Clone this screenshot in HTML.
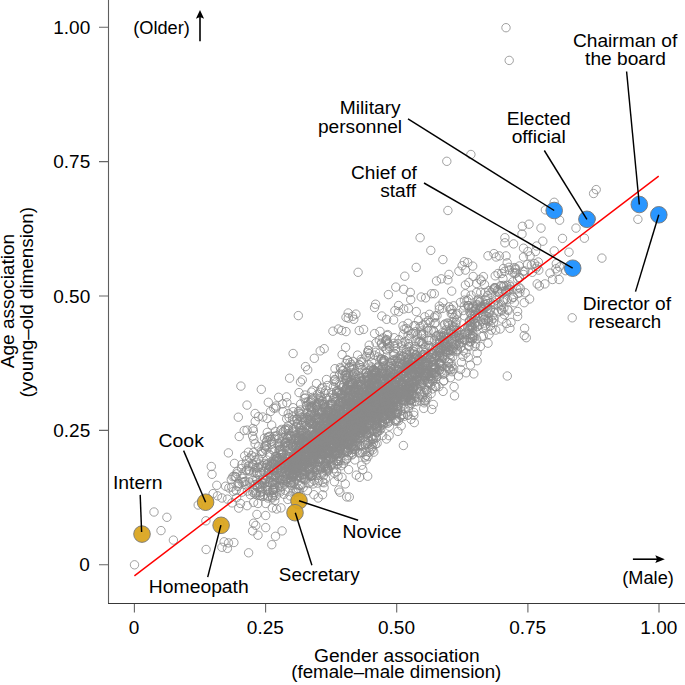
<!DOCTYPE html>
<html><head><meta charset="utf-8"><style>html,body{margin:0;padding:0;background:#fff;}svg{display:block;}</style></head>
<body><svg width="685" height="685" viewBox="0 0 685 685">
<rect width="685" height="685" fill="#fff"/>
<g fill="none" stroke="#898989" stroke-width="0.8"><circle cx="347.8" cy="430.7" r="4.2"/><circle cx="405.3" cy="408.8" r="4.2"/><circle cx="517.8" cy="293.5" r="4.2"/><circle cx="346.6" cy="458.8" r="4.2"/><circle cx="442.8" cy="342.4" r="4.2"/><circle cx="376.2" cy="437.9" r="4.2"/><circle cx="298.2" cy="491.9" r="4.2"/><circle cx="232.0" cy="502.9" r="4.2"/><circle cx="353.2" cy="400.5" r="4.2"/><circle cx="326.6" cy="471.6" r="4.2"/><circle cx="333.6" cy="437.2" r="4.2"/><circle cx="339.1" cy="456.4" r="4.2"/><circle cx="317.4" cy="409.3" r="4.2"/><circle cx="337.2" cy="424.9" r="4.2"/><circle cx="343.7" cy="426.4" r="4.2"/><circle cx="312.3" cy="406.6" r="4.2"/><circle cx="387.7" cy="389.3" r="4.2"/><circle cx="319.6" cy="421.8" r="4.2"/><circle cx="351.0" cy="420.3" r="4.2"/><circle cx="338.6" cy="441.3" r="4.2"/><circle cx="288.6" cy="466.1" r="4.2"/><circle cx="256.6" cy="480.6" r="4.2"/><circle cx="443.9" cy="380.7" r="4.2"/><circle cx="337.8" cy="432.2" r="4.2"/><circle cx="346.0" cy="363.5" r="4.2"/><circle cx="314.8" cy="451.9" r="4.2"/><circle cx="312.6" cy="399.0" r="4.2"/><circle cx="320.3" cy="431.0" r="4.2"/><circle cx="337.9" cy="408.8" r="4.2"/><circle cx="361.7" cy="381.3" r="4.2"/><circle cx="336.3" cy="443.1" r="4.2"/><circle cx="325.5" cy="435.4" r="4.2"/><circle cx="403.5" cy="405.2" r="4.2"/><circle cx="298.0" cy="450.7" r="4.2"/><circle cx="328.4" cy="460.0" r="4.2"/><circle cx="500.6" cy="285.7" r="4.2"/><circle cx="258.0" cy="467.9" r="4.2"/><circle cx="327.0" cy="452.9" r="4.2"/><circle cx="369.4" cy="402.2" r="4.2"/><circle cx="347.2" cy="421.3" r="4.2"/><circle cx="289.8" cy="459.0" r="4.2"/><circle cx="392.6" cy="391.6" r="4.2"/><circle cx="393.9" cy="343.4" r="4.2"/><circle cx="359.1" cy="398.1" r="4.2"/><circle cx="457.3" cy="350.1" r="4.2"/><circle cx="413.9" cy="325.7" r="4.2"/><circle cx="381.0" cy="397.3" r="4.2"/><circle cx="395.4" cy="384.9" r="4.2"/><circle cx="328.4" cy="455.0" r="4.2"/><circle cx="358.3" cy="383.0" r="4.2"/><circle cx="404.1" cy="370.6" r="4.2"/><circle cx="293.5" cy="439.5" r="4.2"/><circle cx="344.9" cy="416.7" r="4.2"/><circle cx="340.3" cy="432.1" r="4.2"/><circle cx="334.2" cy="422.5" r="4.2"/><circle cx="389.9" cy="362.6" r="4.2"/><circle cx="448.4" cy="323.8" r="4.2"/><circle cx="252.8" cy="492.3" r="4.2"/><circle cx="382.8" cy="412.2" r="4.2"/><circle cx="464.3" cy="306.0" r="4.2"/><circle cx="340.8" cy="393.4" r="4.2"/><circle cx="303.2" cy="487.4" r="4.2"/><circle cx="368.3" cy="350.4" r="4.2"/><circle cx="454.0" cy="345.0" r="4.2"/><circle cx="349.7" cy="435.0" r="4.2"/><circle cx="355.0" cy="432.0" r="4.2"/><circle cx="319.2" cy="430.7" r="4.2"/><circle cx="353.9" cy="389.7" r="4.2"/><circle cx="490.5" cy="325.9" r="4.2"/><circle cx="320.1" cy="450.1" r="4.2"/><circle cx="305.4" cy="398.0" r="4.2"/><circle cx="497.6" cy="291.6" r="4.2"/><circle cx="325.0" cy="453.8" r="4.2"/><circle cx="417.6" cy="356.8" r="4.2"/><circle cx="266.4" cy="467.6" r="4.2"/><circle cx="392.6" cy="400.0" r="4.2"/><circle cx="348.5" cy="429.6" r="4.2"/><circle cx="365.5" cy="401.7" r="4.2"/><circle cx="272.7" cy="474.4" r="4.2"/><circle cx="513.3" cy="297.3" r="4.2"/><circle cx="297.9" cy="446.7" r="4.2"/><circle cx="358.5" cy="414.7" r="4.2"/><circle cx="502.8" cy="301.7" r="4.2"/><circle cx="324.5" cy="434.4" r="4.2"/><circle cx="498.8" cy="292.1" r="4.2"/><circle cx="371.1" cy="448.9" r="4.2"/><circle cx="332.1" cy="417.7" r="4.2"/><circle cx="383.0" cy="408.9" r="4.2"/><circle cx="331.5" cy="419.8" r="4.2"/><circle cx="320.1" cy="442.8" r="4.2"/><circle cx="455.7" cy="336.2" r="4.2"/><circle cx="331.0" cy="419.2" r="4.2"/><circle cx="399.2" cy="391.7" r="4.2"/><circle cx="357.3" cy="428.8" r="4.2"/><circle cx="365.1" cy="396.8" r="4.2"/><circle cx="473.1" cy="311.1" r="4.2"/><circle cx="297.0" cy="466.6" r="4.2"/><circle cx="439.3" cy="306.1" r="4.2"/><circle cx="284.7" cy="467.6" r="4.2"/><circle cx="336.0" cy="439.0" r="4.2"/><circle cx="428.3" cy="340.4" r="4.2"/><circle cx="335.0" cy="430.7" r="4.2"/><circle cx="298.8" cy="458.7" r="4.2"/><circle cx="392.1" cy="403.6" r="4.2"/><circle cx="355.1" cy="392.4" r="4.2"/><circle cx="238.1" cy="483.7" r="4.2"/><circle cx="242.8" cy="474.1" r="4.2"/><circle cx="441.4" cy="347.5" r="4.2"/><circle cx="309.0" cy="466.7" r="4.2"/><circle cx="338.8" cy="441.6" r="4.2"/><circle cx="417.7" cy="377.3" r="4.2"/><circle cx="337.0" cy="437.7" r="4.2"/><circle cx="510.3" cy="286.6" r="4.2"/><circle cx="386.4" cy="383.6" r="4.2"/><circle cx="309.5" cy="459.9" r="4.2"/><circle cx="366.8" cy="400.8" r="4.2"/><circle cx="357.3" cy="417.8" r="4.2"/><circle cx="390.3" cy="389.7" r="4.2"/><circle cx="370.1" cy="389.4" r="4.2"/><circle cx="370.2" cy="430.7" r="4.2"/><circle cx="429.8" cy="347.3" r="4.2"/><circle cx="450.6" cy="350.6" r="4.2"/><circle cx="471.8" cy="327.2" r="4.2"/><circle cx="371.8" cy="375.3" r="4.2"/><circle cx="263.5" cy="471.5" r="4.2"/><circle cx="323.4" cy="442.4" r="4.2"/><circle cx="443.6" cy="347.0" r="4.2"/><circle cx="395.0" cy="388.0" r="4.2"/><circle cx="293.9" cy="432.2" r="4.2"/><circle cx="376.3" cy="373.3" r="4.2"/><circle cx="377.1" cy="367.4" r="4.2"/><circle cx="372.1" cy="436.5" r="4.2"/><circle cx="321.7" cy="474.0" r="4.2"/><circle cx="406.3" cy="397.9" r="4.2"/><circle cx="405.5" cy="392.5" r="4.2"/><circle cx="435.1" cy="355.3" r="4.2"/><circle cx="343.6" cy="400.8" r="4.2"/><circle cx="472.4" cy="338.5" r="4.2"/><circle cx="311.5" cy="466.3" r="4.2"/><circle cx="358.7" cy="437.6" r="4.2"/><circle cx="377.1" cy="413.2" r="4.2"/><circle cx="347.9" cy="384.9" r="4.2"/><circle cx="281.8" cy="453.6" r="4.2"/><circle cx="406.2" cy="349.5" r="4.2"/><circle cx="398.4" cy="420.9" r="4.2"/><circle cx="305.6" cy="460.8" r="4.2"/><circle cx="338.0" cy="429.7" r="4.2"/><circle cx="488.5" cy="321.3" r="4.2"/><circle cx="366.9" cy="413.2" r="4.2"/><circle cx="327.7" cy="421.2" r="4.2"/><circle cx="327.9" cy="431.6" r="4.2"/><circle cx="312.2" cy="464.7" r="4.2"/><circle cx="294.6" cy="462.9" r="4.2"/><circle cx="495.0" cy="304.9" r="4.2"/><circle cx="335.5" cy="408.7" r="4.2"/><circle cx="405.8" cy="367.2" r="4.2"/><circle cx="453.7" cy="334.2" r="4.2"/><circle cx="451.1" cy="363.3" r="4.2"/><circle cx="382.0" cy="372.4" r="4.2"/><circle cx="285.3" cy="490.3" r="4.2"/><circle cx="394.0" cy="399.5" r="4.2"/><circle cx="383.6" cy="398.4" r="4.2"/><circle cx="382.9" cy="388.3" r="4.2"/><circle cx="419.7" cy="379.2" r="4.2"/><circle cx="349.4" cy="383.7" r="4.2"/><circle cx="363.1" cy="421.3" r="4.2"/><circle cx="306.6" cy="449.7" r="4.2"/><circle cx="325.3" cy="433.8" r="4.2"/><circle cx="469.8" cy="338.2" r="4.2"/><circle cx="298.5" cy="441.1" r="4.2"/><circle cx="406.3" cy="391.3" r="4.2"/><circle cx="440.1" cy="363.8" r="4.2"/><circle cx="304.6" cy="467.1" r="4.2"/><circle cx="301.7" cy="461.2" r="4.2"/><circle cx="356.2" cy="418.4" r="4.2"/><circle cx="409.1" cy="384.5" r="4.2"/><circle cx="416.6" cy="355.2" r="4.2"/><circle cx="375.1" cy="389.2" r="4.2"/><circle cx="322.1" cy="428.8" r="4.2"/><circle cx="403.5" cy="373.7" r="4.2"/><circle cx="355.6" cy="425.4" r="4.2"/><circle cx="363.3" cy="401.9" r="4.2"/><circle cx="471.3" cy="318.2" r="4.2"/><circle cx="285.1" cy="443.2" r="4.2"/><circle cx="315.1" cy="439.0" r="4.2"/><circle cx="374.6" cy="400.0" r="4.2"/><circle cx="328.7" cy="430.5" r="4.2"/><circle cx="365.5" cy="421.7" r="4.2"/><circle cx="353.0" cy="361.4" r="4.2"/><circle cx="474.4" cy="324.2" r="4.2"/><circle cx="310.8" cy="401.4" r="4.2"/><circle cx="351.8" cy="431.0" r="4.2"/><circle cx="253.8" cy="439.3" r="4.2"/><circle cx="327.5" cy="449.4" r="4.2"/><circle cx="242.2" cy="482.4" r="4.2"/><circle cx="346.9" cy="441.9" r="4.2"/><circle cx="236.8" cy="473.8" r="4.2"/><circle cx="366.5" cy="424.2" r="4.2"/><circle cx="302.0" cy="438.4" r="4.2"/><circle cx="286.7" cy="462.0" r="4.2"/><circle cx="441.3" cy="371.5" r="4.2"/><circle cx="507.2" cy="262.8" r="4.2"/><circle cx="381.2" cy="393.8" r="4.2"/><circle cx="407.6" cy="397.8" r="4.2"/><circle cx="248.4" cy="466.2" r="4.2"/><circle cx="355.7" cy="424.2" r="4.2"/><circle cx="362.5" cy="452.3" r="4.2"/><circle cx="396.9" cy="382.9" r="4.2"/><circle cx="388.6" cy="386.0" r="4.2"/><circle cx="480.2" cy="308.4" r="4.2"/><circle cx="280.3" cy="472.1" r="4.2"/><circle cx="326.8" cy="421.8" r="4.2"/><circle cx="364.6" cy="419.5" r="4.2"/><circle cx="241.9" cy="464.5" r="4.2"/><circle cx="352.7" cy="439.5" r="4.2"/><circle cx="403.5" cy="349.2" r="4.2"/><circle cx="435.4" cy="373.0" r="4.2"/><circle cx="403.5" cy="384.5" r="4.2"/><circle cx="302.8" cy="453.5" r="4.2"/><circle cx="389.8" cy="407.3" r="4.2"/><circle cx="339.8" cy="402.1" r="4.2"/><circle cx="306.0" cy="402.1" r="4.2"/><circle cx="316.5" cy="407.3" r="4.2"/><circle cx="351.3" cy="405.6" r="4.2"/><circle cx="390.2" cy="362.1" r="4.2"/><circle cx="415.7" cy="397.1" r="4.2"/><circle cx="524.8" cy="271.0" r="4.2"/><circle cx="275.0" cy="460.3" r="4.2"/><circle cx="356.9" cy="438.3" r="4.2"/><circle cx="308.4" cy="443.2" r="4.2"/><circle cx="351.8" cy="429.7" r="4.2"/><circle cx="295.1" cy="492.0" r="4.2"/><circle cx="404.1" cy="396.1" r="4.2"/><circle cx="322.0" cy="412.3" r="4.2"/><circle cx="431.0" cy="357.4" r="4.2"/><circle cx="370.1" cy="388.1" r="4.2"/><circle cx="329.1" cy="411.2" r="4.2"/><circle cx="416.3" cy="311.6" r="4.2"/><circle cx="317.3" cy="469.6" r="4.2"/><circle cx="287.1" cy="479.1" r="4.2"/><circle cx="376.1" cy="410.9" r="4.2"/><circle cx="349.9" cy="399.1" r="4.2"/><circle cx="470.0" cy="312.3" r="4.2"/><circle cx="440.3" cy="364.2" r="4.2"/><circle cx="485.2" cy="299.6" r="4.2"/><circle cx="448.9" cy="367.9" r="4.2"/><circle cx="381.0" cy="402.5" r="4.2"/><circle cx="323.2" cy="433.1" r="4.2"/><circle cx="393.1" cy="360.2" r="4.2"/><circle cx="267.7" cy="437.5" r="4.2"/><circle cx="403.1" cy="373.6" r="4.2"/><circle cx="356.1" cy="396.1" r="4.2"/><circle cx="385.7" cy="371.8" r="4.2"/><circle cx="262.4" cy="453.5" r="4.2"/><circle cx="299.9" cy="467.5" r="4.2"/><circle cx="340.9" cy="396.9" r="4.2"/><circle cx="317.8" cy="431.7" r="4.2"/><circle cx="377.6" cy="383.4" r="4.2"/><circle cx="307.8" cy="462.4" r="4.2"/><circle cx="350.4" cy="440.1" r="4.2"/><circle cx="293.0" cy="474.6" r="4.2"/><circle cx="299.1" cy="437.3" r="4.2"/><circle cx="403.2" cy="391.6" r="4.2"/><circle cx="282.2" cy="457.6" r="4.2"/><circle cx="336.1" cy="450.6" r="4.2"/><circle cx="380.6" cy="409.7" r="4.2"/><circle cx="325.8" cy="465.9" r="4.2"/><circle cx="323.9" cy="482.8" r="4.2"/><circle cx="447.1" cy="366.4" r="4.2"/><circle cx="362.3" cy="428.2" r="4.2"/><circle cx="448.2" cy="349.8" r="4.2"/><circle cx="359.5" cy="365.0" r="4.2"/><circle cx="418.5" cy="367.1" r="4.2"/><circle cx="271.8" cy="441.2" r="4.2"/><circle cx="344.5" cy="439.2" r="4.2"/><circle cx="352.2" cy="436.7" r="4.2"/><circle cx="324.3" cy="433.3" r="4.2"/><circle cx="272.7" cy="482.3" r="4.2"/><circle cx="478.6" cy="299.2" r="4.2"/><circle cx="387.7" cy="418.8" r="4.2"/><circle cx="365.1" cy="411.6" r="4.2"/><circle cx="274.8" cy="438.8" r="4.2"/><circle cx="415.1" cy="368.8" r="4.2"/><circle cx="385.4" cy="401.4" r="4.2"/><circle cx="342.4" cy="374.2" r="4.2"/><circle cx="336.4" cy="397.5" r="4.2"/><circle cx="296.6" cy="438.3" r="4.2"/><circle cx="412.9" cy="351.0" r="4.2"/><circle cx="325.4" cy="445.6" r="4.2"/><circle cx="409.0" cy="371.0" r="4.2"/><circle cx="411.7" cy="374.8" r="4.2"/><circle cx="419.0" cy="371.7" r="4.2"/><circle cx="389.0" cy="409.3" r="4.2"/><circle cx="275.7" cy="408.0" r="4.2"/><circle cx="394.2" cy="399.0" r="4.2"/><circle cx="337.1" cy="431.4" r="4.2"/><circle cx="359.2" cy="364.7" r="4.2"/><circle cx="325.9" cy="469.2" r="4.2"/><circle cx="390.9" cy="410.8" r="4.2"/><circle cx="350.1" cy="376.7" r="4.2"/><circle cx="376.4" cy="418.3" r="4.2"/><circle cx="385.6" cy="407.3" r="4.2"/><circle cx="432.6" cy="381.1" r="4.2"/><circle cx="309.7" cy="468.2" r="4.2"/><circle cx="334.5" cy="433.6" r="4.2"/><circle cx="366.5" cy="389.6" r="4.2"/><circle cx="386.2" cy="394.8" r="4.2"/><circle cx="384.5" cy="360.0" r="4.2"/><circle cx="345.1" cy="417.8" r="4.2"/><circle cx="371.8" cy="406.4" r="4.2"/><circle cx="402.6" cy="364.7" r="4.2"/><circle cx="354.5" cy="388.9" r="4.2"/><circle cx="388.0" cy="383.2" r="4.2"/><circle cx="335.6" cy="430.4" r="4.2"/><circle cx="354.7" cy="407.5" r="4.2"/><circle cx="355.0" cy="437.6" r="4.2"/><circle cx="405.0" cy="341.6" r="4.2"/><circle cx="329.7" cy="439.6" r="4.2"/><circle cx="481.5" cy="281.0" r="4.2"/><circle cx="357.6" cy="355.1" r="4.2"/><circle cx="445.1" cy="345.1" r="4.2"/><circle cx="411.9" cy="394.7" r="4.2"/><circle cx="277.5" cy="467.8" r="4.2"/><circle cx="322.2" cy="453.8" r="4.2"/><circle cx="384.2" cy="373.9" r="4.2"/><circle cx="480.2" cy="301.4" r="4.2"/><circle cx="436.3" cy="355.2" r="4.2"/><circle cx="279.7" cy="446.4" r="4.2"/><circle cx="342.6" cy="450.3" r="4.2"/><circle cx="364.0" cy="391.5" r="4.2"/><circle cx="318.2" cy="417.8" r="4.2"/><circle cx="319.6" cy="435.1" r="4.2"/><circle cx="374.2" cy="355.2" r="4.2"/><circle cx="280.0" cy="465.1" r="4.2"/><circle cx="347.8" cy="404.5" r="4.2"/><circle cx="371.3" cy="374.0" r="4.2"/><circle cx="333.8" cy="447.4" r="4.2"/><circle cx="338.6" cy="436.1" r="4.2"/><circle cx="266.4" cy="465.2" r="4.2"/><circle cx="434.6" cy="386.2" r="4.2"/><circle cx="298.1" cy="461.3" r="4.2"/><circle cx="344.7" cy="412.7" r="4.2"/><circle cx="407.7" cy="396.5" r="4.2"/><circle cx="364.3" cy="417.5" r="4.2"/><circle cx="378.4" cy="378.5" r="4.2"/><circle cx="277.2" cy="457.9" r="4.2"/><circle cx="276.6" cy="469.0" r="4.2"/><circle cx="462.8" cy="342.2" r="4.2"/><circle cx="359.0" cy="406.7" r="4.2"/><circle cx="485.9" cy="320.3" r="4.2"/><circle cx="470.6" cy="341.5" r="4.2"/><circle cx="314.4" cy="418.1" r="4.2"/><circle cx="371.0" cy="437.0" r="4.2"/><circle cx="289.5" cy="465.7" r="4.2"/><circle cx="331.7" cy="413.6" r="4.2"/><circle cx="335.4" cy="445.0" r="4.2"/><circle cx="329.5" cy="427.3" r="4.2"/><circle cx="398.9" cy="399.8" r="4.2"/><circle cx="317.9" cy="428.5" r="4.2"/><circle cx="301.7" cy="451.3" r="4.2"/><circle cx="380.8" cy="358.9" r="4.2"/><circle cx="471.1" cy="295.2" r="4.2"/><circle cx="381.4" cy="344.0" r="4.2"/><circle cx="269.2" cy="482.3" r="4.2"/><circle cx="349.8" cy="425.6" r="4.2"/><circle cx="248.4" cy="452.2" r="4.2"/><circle cx="334.9" cy="427.5" r="4.2"/><circle cx="455.9" cy="336.8" r="4.2"/><circle cx="394.2" cy="337.7" r="4.2"/><circle cx="362.6" cy="410.4" r="4.2"/><circle cx="239.2" cy="483.6" r="4.2"/><circle cx="501.4" cy="309.7" r="4.2"/><circle cx="381.8" cy="398.1" r="4.2"/><circle cx="421.7" cy="343.2" r="4.2"/><circle cx="393.3" cy="369.5" r="4.2"/><circle cx="424.6" cy="380.5" r="4.2"/><circle cx="317.8" cy="419.0" r="4.2"/><circle cx="400.9" cy="392.8" r="4.2"/><circle cx="335.4" cy="454.5" r="4.2"/><circle cx="428.7" cy="373.3" r="4.2"/><circle cx="395.2" cy="392.3" r="4.2"/><circle cx="263.0" cy="451.2" r="4.2"/><circle cx="331.8" cy="437.6" r="4.2"/><circle cx="409.5" cy="351.6" r="4.2"/><circle cx="282.5" cy="460.4" r="4.2"/><circle cx="273.0" cy="484.6" r="4.2"/><circle cx="307.2" cy="457.7" r="4.2"/><circle cx="318.4" cy="437.0" r="4.2"/><circle cx="379.1" cy="398.4" r="4.2"/><circle cx="337.8" cy="407.9" r="4.2"/><circle cx="288.6" cy="471.2" r="4.2"/><circle cx="403.2" cy="395.1" r="4.2"/><circle cx="350.8" cy="432.8" r="4.2"/><circle cx="429.6" cy="359.0" r="4.2"/><circle cx="397.1" cy="396.6" r="4.2"/><circle cx="391.2" cy="368.6" r="4.2"/><circle cx="387.8" cy="343.4" r="4.2"/><circle cx="373.3" cy="406.6" r="4.2"/><circle cx="352.6" cy="402.6" r="4.2"/><circle cx="379.8" cy="390.8" r="4.2"/><circle cx="357.6" cy="420.1" r="4.2"/><circle cx="483.2" cy="309.5" r="4.2"/><circle cx="315.2" cy="433.8" r="4.2"/><circle cx="321.9" cy="411.7" r="4.2"/><circle cx="319.2" cy="428.3" r="4.2"/><circle cx="360.2" cy="433.4" r="4.2"/><circle cx="338.8" cy="430.8" r="4.2"/><circle cx="443.6" cy="335.6" r="4.2"/><circle cx="359.8" cy="438.8" r="4.2"/><circle cx="357.2" cy="425.5" r="4.2"/><circle cx="334.2" cy="445.2" r="4.2"/><circle cx="321.9" cy="444.8" r="4.2"/><circle cx="382.1" cy="395.9" r="4.2"/><circle cx="286.7" cy="418.8" r="4.2"/><circle cx="268.5" cy="473.0" r="4.2"/><circle cx="431.5" cy="373.0" r="4.2"/><circle cx="264.2" cy="448.0" r="4.2"/><circle cx="354.3" cy="418.1" r="4.2"/><circle cx="426.4" cy="390.5" r="4.2"/><circle cx="261.8" cy="467.1" r="4.2"/><circle cx="314.1" cy="448.5" r="4.2"/><circle cx="366.4" cy="416.6" r="4.2"/><circle cx="265.0" cy="463.4" r="4.2"/><circle cx="290.1" cy="495.9" r="4.2"/><circle cx="285.6" cy="476.7" r="4.2"/><circle cx="447.5" cy="322.9" r="4.2"/><circle cx="389.7" cy="388.5" r="4.2"/><circle cx="359.9" cy="391.5" r="4.2"/><circle cx="348.5" cy="410.9" r="4.2"/><circle cx="322.0" cy="433.0" r="4.2"/><circle cx="361.3" cy="400.5" r="4.2"/><circle cx="351.6" cy="415.6" r="4.2"/><circle cx="340.0" cy="448.6" r="4.2"/><circle cx="422.6" cy="397.6" r="4.2"/><circle cx="405.2" cy="389.3" r="4.2"/><circle cx="346.0" cy="401.7" r="4.2"/><circle cx="405.3" cy="388.8" r="4.2"/><circle cx="343.5" cy="384.8" r="4.2"/><circle cx="378.4" cy="400.7" r="4.2"/><circle cx="317.2" cy="405.0" r="4.2"/><circle cx="317.5" cy="422.3" r="4.2"/><circle cx="370.6" cy="407.6" r="4.2"/><circle cx="326.3" cy="432.5" r="4.2"/><circle cx="389.8" cy="380.7" r="4.2"/><circle cx="307.5" cy="463.0" r="4.2"/><circle cx="413.3" cy="357.3" r="4.2"/><circle cx="331.8" cy="444.8" r="4.2"/><circle cx="353.6" cy="388.9" r="4.2"/><circle cx="303.3" cy="459.9" r="4.2"/><circle cx="424.2" cy="392.7" r="4.2"/><circle cx="386.8" cy="373.6" r="4.2"/><circle cx="326.6" cy="421.4" r="4.2"/><circle cx="249.7" cy="458.1" r="4.2"/><circle cx="342.3" cy="420.8" r="4.2"/><circle cx="331.2" cy="422.4" r="4.2"/><circle cx="337.6" cy="424.7" r="4.2"/><circle cx="372.3" cy="390.8" r="4.2"/><circle cx="376.6" cy="387.3" r="4.2"/><circle cx="333.4" cy="440.9" r="4.2"/><circle cx="358.9" cy="428.1" r="4.2"/><circle cx="497.7" cy="290.0" r="4.2"/><circle cx="335.1" cy="453.6" r="4.2"/><circle cx="389.7" cy="405.2" r="4.2"/><circle cx="476.6" cy="292.5" r="4.2"/><circle cx="390.8" cy="377.9" r="4.2"/><circle cx="312.0" cy="411.7" r="4.2"/><circle cx="348.2" cy="451.2" r="4.2"/><circle cx="292.3" cy="431.1" r="4.2"/><circle cx="246.8" cy="470.0" r="4.2"/><circle cx="256.1" cy="478.9" r="4.2"/><circle cx="379.0" cy="409.3" r="4.2"/><circle cx="412.2" cy="361.3" r="4.2"/><circle cx="450.1" cy="309.4" r="4.2"/><circle cx="363.5" cy="417.7" r="4.2"/><circle cx="304.3" cy="441.9" r="4.2"/><circle cx="407.0" cy="377.4" r="4.2"/><circle cx="437.0" cy="315.6" r="4.2"/><circle cx="353.5" cy="406.8" r="4.2"/><circle cx="325.9" cy="416.6" r="4.2"/><circle cx="380.0" cy="423.3" r="4.2"/><circle cx="264.6" cy="483.4" r="4.2"/><circle cx="381.3" cy="373.4" r="4.2"/><circle cx="359.1" cy="390.1" r="4.2"/><circle cx="512.7" cy="272.4" r="4.2"/><circle cx="357.7" cy="401.5" r="4.2"/><circle cx="400.5" cy="384.6" r="4.2"/><circle cx="329.1" cy="421.9" r="4.2"/><circle cx="298.5" cy="446.2" r="4.2"/><circle cx="350.0" cy="425.4" r="4.2"/><circle cx="327.7" cy="424.6" r="4.2"/><circle cx="321.5" cy="467.8" r="4.2"/><circle cx="362.3" cy="414.5" r="4.2"/><circle cx="411.5" cy="374.5" r="4.2"/><circle cx="364.4" cy="429.0" r="4.2"/><circle cx="315.6" cy="453.8" r="4.2"/><circle cx="378.3" cy="389.9" r="4.2"/><circle cx="495.2" cy="287.8" r="4.2"/><circle cx="266.0" cy="446.3" r="4.2"/><circle cx="279.9" cy="487.0" r="4.2"/><circle cx="294.0" cy="421.4" r="4.2"/><circle cx="343.7" cy="440.4" r="4.2"/><circle cx="275.3" cy="461.4" r="4.2"/><circle cx="359.4" cy="416.9" r="4.2"/><circle cx="361.0" cy="432.4" r="4.2"/><circle cx="372.2" cy="429.8" r="4.2"/><circle cx="351.3" cy="408.8" r="4.2"/><circle cx="374.1" cy="417.4" r="4.2"/><circle cx="351.8" cy="441.9" r="4.2"/><circle cx="385.6" cy="390.9" r="4.2"/><circle cx="339.3" cy="443.5" r="4.2"/><circle cx="428.1" cy="364.9" r="4.2"/><circle cx="283.0" cy="476.6" r="4.2"/><circle cx="282.0" cy="478.9" r="4.2"/><circle cx="346.9" cy="406.8" r="4.2"/><circle cx="407.7" cy="415.1" r="4.2"/><circle cx="369.5" cy="432.7" r="4.2"/><circle cx="304.9" cy="463.7" r="4.2"/><circle cx="511.6" cy="299.0" r="4.2"/><circle cx="419.3" cy="359.1" r="4.2"/><circle cx="407.0" cy="387.8" r="4.2"/><circle cx="267.4" cy="489.8" r="4.2"/><circle cx="371.8" cy="416.2" r="4.2"/><circle cx="388.6" cy="378.6" r="4.2"/><circle cx="333.4" cy="443.7" r="4.2"/><circle cx="278.9" cy="438.9" r="4.2"/><circle cx="440.1" cy="336.3" r="4.2"/><circle cx="361.9" cy="429.5" r="4.2"/><circle cx="460.1" cy="332.8" r="4.2"/><circle cx="423.6" cy="376.5" r="4.2"/><circle cx="234.5" cy="463.4" r="4.2"/><circle cx="339.8" cy="445.3" r="4.2"/><circle cx="318.7" cy="448.2" r="4.2"/><circle cx="408.7" cy="364.5" r="4.2"/><circle cx="326.5" cy="379.5" r="4.2"/><circle cx="397.1" cy="399.3" r="4.2"/><circle cx="385.7" cy="418.5" r="4.2"/><circle cx="403.2" cy="385.4" r="4.2"/><circle cx="472.6" cy="335.6" r="4.2"/><circle cx="376.1" cy="428.8" r="4.2"/><circle cx="299.3" cy="438.9" r="4.2"/><circle cx="256.2" cy="492.6" r="4.2"/><circle cx="473.2" cy="276.5" r="4.2"/><circle cx="285.5" cy="430.3" r="4.2"/><circle cx="474.3" cy="315.0" r="4.2"/><circle cx="377.3" cy="426.2" r="4.2"/><circle cx="283.2" cy="468.3" r="4.2"/><circle cx="339.1" cy="432.4" r="4.2"/><circle cx="331.6" cy="464.4" r="4.2"/><circle cx="318.8" cy="480.8" r="4.2"/><circle cx="457.6" cy="313.7" r="4.2"/><circle cx="330.5" cy="446.6" r="4.2"/><circle cx="514.3" cy="267.6" r="4.2"/><circle cx="503.7" cy="285.4" r="4.2"/><circle cx="311.8" cy="431.9" r="4.2"/><circle cx="309.5" cy="472.0" r="4.2"/><circle cx="254.5" cy="484.6" r="4.2"/><circle cx="349.3" cy="427.7" r="4.2"/><circle cx="322.7" cy="472.2" r="4.2"/><circle cx="414.6" cy="401.5" r="4.2"/><circle cx="388.4" cy="411.9" r="4.2"/><circle cx="389.6" cy="413.1" r="4.2"/><circle cx="311.2" cy="445.6" r="4.2"/><circle cx="359.3" cy="406.3" r="4.2"/><circle cx="266.8" cy="486.2" r="4.2"/><circle cx="411.7" cy="368.9" r="4.2"/><circle cx="449.0" cy="368.9" r="4.2"/><circle cx="380.0" cy="394.8" r="4.2"/><circle cx="372.6" cy="402.0" r="4.2"/><circle cx="284.4" cy="460.9" r="4.2"/><circle cx="451.8" cy="309.4" r="4.2"/><circle cx="393.1" cy="365.5" r="4.2"/><circle cx="408.7" cy="392.9" r="4.2"/><circle cx="354.7" cy="417.5" r="4.2"/><circle cx="331.3" cy="410.5" r="4.2"/><circle cx="436.1" cy="336.3" r="4.2"/><circle cx="369.4" cy="390.9" r="4.2"/><circle cx="348.7" cy="418.8" r="4.2"/><circle cx="285.4" cy="471.7" r="4.2"/><circle cx="382.2" cy="409.3" r="4.2"/><circle cx="329.9" cy="459.0" r="4.2"/><circle cx="350.8" cy="411.7" r="4.2"/><circle cx="415.1" cy="375.0" r="4.2"/><circle cx="333.1" cy="435.3" r="4.2"/><circle cx="435.8" cy="386.7" r="4.2"/><circle cx="387.1" cy="392.5" r="4.2"/><circle cx="309.5" cy="468.8" r="4.2"/><circle cx="341.1" cy="419.4" r="4.2"/><circle cx="313.2" cy="444.2" r="4.2"/><circle cx="345.9" cy="416.6" r="4.2"/><circle cx="406.3" cy="352.5" r="4.2"/><circle cx="417.5" cy="335.0" r="4.2"/><circle cx="393.6" cy="384.5" r="4.2"/><circle cx="354.5" cy="392.6" r="4.2"/><circle cx="333.9" cy="424.4" r="4.2"/><circle cx="253.7" cy="472.2" r="4.2"/><circle cx="391.5" cy="363.6" r="4.2"/><circle cx="382.3" cy="393.2" r="4.2"/><circle cx="391.8" cy="380.6" r="4.2"/><circle cx="321.7" cy="453.7" r="4.2"/><circle cx="397.6" cy="375.8" r="4.2"/><circle cx="369.8" cy="402.0" r="4.2"/><circle cx="299.3" cy="413.3" r="4.2"/><circle cx="278.9" cy="450.6" r="4.2"/><circle cx="504.1" cy="286.4" r="4.2"/><circle cx="397.8" cy="343.6" r="4.2"/><circle cx="379.1" cy="399.3" r="4.2"/><circle cx="311.2" cy="449.0" r="4.2"/><circle cx="468.0" cy="305.7" r="4.2"/><circle cx="438.6" cy="351.0" r="4.2"/><circle cx="306.1" cy="461.3" r="4.2"/><circle cx="329.6" cy="434.4" r="4.2"/><circle cx="328.6" cy="441.5" r="4.2"/><circle cx="384.0" cy="373.5" r="4.2"/><circle cx="337.0" cy="447.4" r="4.2"/><circle cx="424.8" cy="316.8" r="4.2"/><circle cx="437.0" cy="335.7" r="4.2"/><circle cx="310.5" cy="407.6" r="4.2"/><circle cx="342.3" cy="433.2" r="4.2"/><circle cx="287.2" cy="478.9" r="4.2"/><circle cx="326.3" cy="431.4" r="4.2"/><circle cx="445.9" cy="370.9" r="4.2"/><circle cx="329.2" cy="453.7" r="4.2"/><circle cx="320.5" cy="418.4" r="4.2"/><circle cx="349.4" cy="366.8" r="4.2"/><circle cx="399.9" cy="375.2" r="4.2"/><circle cx="393.4" cy="373.9" r="4.2"/><circle cx="473.6" cy="318.9" r="4.2"/><circle cx="316.2" cy="419.1" r="4.2"/><circle cx="376.1" cy="403.3" r="4.2"/><circle cx="502.0" cy="291.4" r="4.2"/><circle cx="384.0" cy="389.1" r="4.2"/><circle cx="303.3" cy="466.4" r="4.2"/><circle cx="315.0" cy="462.1" r="4.2"/><circle cx="392.2" cy="392.7" r="4.2"/><circle cx="383.4" cy="388.9" r="4.2"/><circle cx="484.9" cy="319.1" r="4.2"/><circle cx="371.5" cy="417.6" r="4.2"/><circle cx="337.7" cy="433.6" r="4.2"/><circle cx="371.3" cy="384.9" r="4.2"/><circle cx="381.6" cy="359.2" r="4.2"/><circle cx="349.0" cy="385.7" r="4.2"/><circle cx="297.2" cy="418.9" r="4.2"/><circle cx="309.3" cy="415.6" r="4.2"/><circle cx="362.9" cy="413.1" r="4.2"/><circle cx="483.7" cy="323.2" r="4.2"/><circle cx="322.4" cy="387.4" r="4.2"/><circle cx="373.8" cy="406.0" r="4.2"/><circle cx="418.0" cy="380.2" r="4.2"/><circle cx="402.4" cy="394.2" r="4.2"/><circle cx="322.2" cy="411.1" r="4.2"/><circle cx="356.3" cy="414.3" r="4.2"/><circle cx="253.6" cy="452.3" r="4.2"/><circle cx="265.6" cy="449.9" r="4.2"/><circle cx="298.8" cy="464.5" r="4.2"/><circle cx="368.3" cy="428.7" r="4.2"/><circle cx="315.7" cy="443.6" r="4.2"/><circle cx="326.2" cy="398.5" r="4.2"/><circle cx="312.5" cy="470.1" r="4.2"/><circle cx="396.9" cy="413.5" r="4.2"/><circle cx="359.8" cy="436.3" r="4.2"/><circle cx="401.9" cy="414.6" r="4.2"/><circle cx="305.0" cy="395.0" r="4.2"/><circle cx="451.9" cy="366.3" r="4.2"/><circle cx="376.1" cy="400.0" r="4.2"/><circle cx="314.3" cy="434.6" r="4.2"/><circle cx="381.2" cy="405.0" r="4.2"/><circle cx="343.4" cy="463.6" r="4.2"/><circle cx="427.4" cy="392.2" r="4.2"/><circle cx="411.2" cy="333.9" r="4.2"/><circle cx="288.9" cy="444.3" r="4.2"/><circle cx="369.4" cy="423.3" r="4.2"/><circle cx="276.5" cy="458.8" r="4.2"/><circle cx="331.3" cy="425.7" r="4.2"/><circle cx="285.5" cy="442.4" r="4.2"/><circle cx="333.9" cy="430.0" r="4.2"/><circle cx="369.2" cy="370.5" r="4.2"/><circle cx="361.0" cy="414.3" r="4.2"/><circle cx="337.8" cy="422.3" r="4.2"/><circle cx="328.3" cy="434.1" r="4.2"/><circle cx="310.4" cy="458.5" r="4.2"/><circle cx="311.9" cy="460.6" r="4.2"/><circle cx="309.2" cy="475.0" r="4.2"/><circle cx="347.5" cy="423.9" r="4.2"/><circle cx="398.8" cy="367.0" r="4.2"/><circle cx="401.8" cy="370.9" r="4.2"/><circle cx="358.9" cy="408.5" r="4.2"/><circle cx="517.6" cy="279.3" r="4.2"/><circle cx="413.8" cy="415.3" r="4.2"/><circle cx="338.5" cy="428.1" r="4.2"/><circle cx="433.3" cy="378.9" r="4.2"/><circle cx="273.6" cy="464.2" r="4.2"/><circle cx="373.1" cy="438.5" r="4.2"/><circle cx="477.4" cy="326.7" r="4.2"/><circle cx="320.1" cy="425.1" r="4.2"/><circle cx="477.2" cy="315.4" r="4.2"/><circle cx="362.4" cy="369.5" r="4.2"/><circle cx="449.0" cy="325.5" r="4.2"/><circle cx="312.2" cy="458.9" r="4.2"/><circle cx="418.9" cy="372.2" r="4.2"/><circle cx="274.0" cy="488.1" r="4.2"/><circle cx="369.9" cy="423.3" r="4.2"/><circle cx="258.9" cy="459.1" r="4.2"/><circle cx="393.9" cy="390.5" r="4.2"/><circle cx="352.4" cy="407.2" r="4.2"/><circle cx="456.5" cy="344.1" r="4.2"/><circle cx="418.0" cy="368.2" r="4.2"/><circle cx="289.5" cy="472.6" r="4.2"/><circle cx="483.3" cy="314.9" r="4.2"/><circle cx="343.1" cy="404.6" r="4.2"/><circle cx="305.7" cy="457.3" r="4.2"/><circle cx="428.0" cy="330.9" r="4.2"/><circle cx="305.6" cy="442.8" r="4.2"/><circle cx="328.2" cy="456.3" r="4.2"/><circle cx="369.8" cy="391.5" r="4.2"/><circle cx="434.2" cy="370.3" r="4.2"/><circle cx="362.8" cy="423.1" r="4.2"/><circle cx="439.4" cy="309.1" r="4.2"/><circle cx="302.0" cy="414.2" r="4.2"/><circle cx="458.9" cy="336.0" r="4.2"/><circle cx="310.0" cy="438.1" r="4.2"/><circle cx="407.1" cy="365.6" r="4.2"/><circle cx="292.9" cy="458.1" r="4.2"/><circle cx="351.3" cy="431.6" r="4.2"/><circle cx="301.9" cy="478.1" r="4.2"/><circle cx="515.5" cy="269.6" r="4.2"/><circle cx="422.7" cy="366.6" r="4.2"/><circle cx="345.1" cy="404.9" r="4.2"/><circle cx="312.4" cy="452.0" r="4.2"/><circle cx="314.0" cy="416.2" r="4.2"/><circle cx="342.1" cy="427.5" r="4.2"/><circle cx="319.6" cy="412.1" r="4.2"/><circle cx="384.5" cy="382.8" r="4.2"/><circle cx="456.5" cy="333.1" r="4.2"/><circle cx="435.9" cy="357.9" r="4.2"/><circle cx="347.2" cy="432.9" r="4.2"/><circle cx="259.8" cy="464.1" r="4.2"/><circle cx="303.8" cy="474.9" r="4.2"/><circle cx="385.8" cy="381.5" r="4.2"/><circle cx="352.5" cy="412.6" r="4.2"/><circle cx="439.3" cy="370.3" r="4.2"/><circle cx="483.4" cy="316.6" r="4.2"/><circle cx="305.6" cy="452.3" r="4.2"/><circle cx="314.2" cy="443.5" r="4.2"/><circle cx="370.8" cy="387.9" r="4.2"/><circle cx="422.1" cy="356.1" r="4.2"/><circle cx="343.4" cy="387.7" r="4.2"/><circle cx="360.4" cy="430.3" r="4.2"/><circle cx="435.1" cy="375.9" r="4.2"/><circle cx="346.5" cy="387.8" r="4.2"/><circle cx="254.1" cy="457.0" r="4.2"/><circle cx="423.4" cy="370.4" r="4.2"/><circle cx="391.5" cy="415.9" r="4.2"/><circle cx="302.9" cy="430.8" r="4.2"/><circle cx="335.3" cy="440.5" r="4.2"/><circle cx="370.8" cy="410.6" r="4.2"/><circle cx="378.8" cy="405.0" r="4.2"/><circle cx="323.4" cy="444.1" r="4.2"/><circle cx="298.2" cy="450.9" r="4.2"/><circle cx="344.2" cy="417.4" r="4.2"/><circle cx="335.4" cy="401.7" r="4.2"/><circle cx="439.8" cy="365.5" r="4.2"/><circle cx="469.3" cy="321.2" r="4.2"/><circle cx="425.3" cy="347.1" r="4.2"/><circle cx="394.1" cy="400.3" r="4.2"/><circle cx="397.6" cy="377.8" r="4.2"/><circle cx="407.6" cy="395.3" r="4.2"/><circle cx="363.5" cy="373.3" r="4.2"/><circle cx="273.8" cy="492.7" r="4.2"/><circle cx="376.9" cy="372.2" r="4.2"/><circle cx="393.4" cy="355.7" r="4.2"/><circle cx="378.9" cy="395.0" r="4.2"/><circle cx="310.0" cy="441.3" r="4.2"/><circle cx="382.8" cy="366.0" r="4.2"/><circle cx="253.7" cy="490.3" r="4.2"/><circle cx="348.6" cy="397.1" r="4.2"/><circle cx="352.7" cy="406.3" r="4.2"/><circle cx="447.3" cy="347.5" r="4.2"/><circle cx="299.9" cy="452.1" r="4.2"/><circle cx="325.9" cy="466.5" r="4.2"/><circle cx="394.6" cy="392.0" r="4.2"/><circle cx="374.5" cy="401.3" r="4.2"/><circle cx="416.1" cy="363.3" r="4.2"/><circle cx="442.4" cy="355.9" r="4.2"/><circle cx="398.5" cy="379.8" r="4.2"/><circle cx="355.2" cy="398.4" r="4.2"/><circle cx="342.8" cy="444.3" r="4.2"/><circle cx="402.1" cy="394.3" r="4.2"/><circle cx="362.0" cy="408.1" r="4.2"/><circle cx="408.3" cy="378.2" r="4.2"/><circle cx="310.5" cy="460.7" r="4.2"/><circle cx="371.9" cy="395.1" r="4.2"/><circle cx="326.6" cy="463.8" r="4.2"/><circle cx="395.5" cy="360.8" r="4.2"/><circle cx="394.8" cy="373.8" r="4.2"/><circle cx="402.3" cy="385.5" r="4.2"/><circle cx="501.2" cy="286.0" r="4.2"/><circle cx="297.6" cy="466.7" r="4.2"/><circle cx="323.3" cy="467.7" r="4.2"/><circle cx="332.2" cy="429.2" r="4.2"/><circle cx="280.3" cy="468.7" r="4.2"/><circle cx="409.9" cy="386.0" r="4.2"/><circle cx="363.5" cy="408.7" r="4.2"/><circle cx="317.7" cy="447.4" r="4.2"/><circle cx="358.0" cy="398.4" r="4.2"/><circle cx="379.5" cy="370.7" r="4.2"/><circle cx="386.4" cy="419.3" r="4.2"/><circle cx="323.4" cy="453.9" r="4.2"/><circle cx="408.5" cy="369.0" r="4.2"/><circle cx="297.5" cy="460.5" r="4.2"/><circle cx="402.6" cy="383.9" r="4.2"/><circle cx="324.3" cy="446.7" r="4.2"/><circle cx="297.4" cy="466.9" r="4.2"/><circle cx="300.9" cy="444.3" r="4.2"/><circle cx="343.0" cy="424.2" r="4.2"/><circle cx="485.1" cy="292.4" r="4.2"/><circle cx="334.3" cy="446.1" r="4.2"/><circle cx="391.6" cy="390.0" r="4.2"/><circle cx="349.3" cy="428.2" r="4.2"/><circle cx="260.3" cy="486.9" r="4.2"/><circle cx="409.5" cy="389.3" r="4.2"/><circle cx="394.4" cy="390.7" r="4.2"/><circle cx="295.8" cy="440.3" r="4.2"/><circle cx="279.1" cy="465.0" r="4.2"/><circle cx="382.2" cy="379.2" r="4.2"/><circle cx="407.8" cy="359.8" r="4.2"/><circle cx="308.3" cy="419.6" r="4.2"/><circle cx="452.6" cy="313.6" r="4.2"/><circle cx="332.2" cy="444.9" r="4.2"/><circle cx="346.9" cy="443.6" r="4.2"/><circle cx="317.5" cy="483.1" r="4.2"/><circle cx="298.9" cy="470.8" r="4.2"/><circle cx="333.7" cy="398.2" r="4.2"/><circle cx="294.2" cy="454.3" r="4.2"/><circle cx="318.7" cy="419.4" r="4.2"/><circle cx="382.3" cy="381.7" r="4.2"/><circle cx="368.7" cy="424.8" r="4.2"/><circle cx="312.2" cy="460.7" r="4.2"/><circle cx="445.2" cy="343.1" r="4.2"/><circle cx="340.7" cy="423.5" r="4.2"/><circle cx="385.7" cy="394.6" r="4.2"/><circle cx="387.7" cy="423.3" r="4.2"/><circle cx="370.1" cy="404.4" r="4.2"/><circle cx="404.4" cy="368.2" r="4.2"/><circle cx="322.7" cy="401.0" r="4.2"/><circle cx="362.1" cy="395.0" r="4.2"/><circle cx="403.4" cy="414.6" r="4.2"/><circle cx="327.6" cy="437.8" r="4.2"/><circle cx="380.6" cy="391.5" r="4.2"/><circle cx="272.3" cy="497.0" r="4.2"/><circle cx="409.3" cy="383.2" r="4.2"/><circle cx="383.5" cy="361.5" r="4.2"/><circle cx="252.6" cy="436.0" r="4.2"/><circle cx="236.6" cy="497.8" r="4.2"/><circle cx="427.4" cy="368.1" r="4.2"/><circle cx="366.6" cy="434.2" r="4.2"/><circle cx="360.8" cy="392.3" r="4.2"/><circle cx="330.9" cy="450.5" r="4.2"/><circle cx="320.4" cy="444.2" r="4.2"/><circle cx="335.6" cy="438.6" r="4.2"/><circle cx="374.5" cy="408.8" r="4.2"/><circle cx="346.2" cy="428.1" r="4.2"/><circle cx="334.4" cy="427.6" r="4.2"/><circle cx="499.4" cy="296.3" r="4.2"/><circle cx="339.9" cy="449.7" r="4.2"/><circle cx="395.9" cy="413.2" r="4.2"/><circle cx="367.7" cy="397.9" r="4.2"/><circle cx="421.4" cy="386.2" r="4.2"/><circle cx="468.9" cy="307.9" r="4.2"/><circle cx="355.1" cy="430.2" r="4.2"/><circle cx="438.8" cy="363.9" r="4.2"/><circle cx="340.8" cy="453.3" r="4.2"/><circle cx="361.1" cy="359.4" r="4.2"/><circle cx="470.5" cy="337.5" r="4.2"/><circle cx="383.4" cy="401.5" r="4.2"/><circle cx="327.5" cy="385.5" r="4.2"/><circle cx="334.1" cy="381.2" r="4.2"/><circle cx="289.3" cy="450.2" r="4.2"/><circle cx="405.5" cy="367.9" r="4.2"/><circle cx="351.4" cy="364.6" r="4.2"/><circle cx="367.9" cy="443.7" r="4.2"/><circle cx="406.3" cy="365.3" r="4.2"/><circle cx="396.1" cy="398.9" r="4.2"/><circle cx="372.9" cy="378.3" r="4.2"/><circle cx="366.2" cy="443.1" r="4.2"/><circle cx="358.9" cy="394.8" r="4.2"/><circle cx="328.4" cy="433.9" r="4.2"/><circle cx="420.4" cy="381.3" r="4.2"/><circle cx="468.2" cy="345.7" r="4.2"/><circle cx="275.4" cy="456.6" r="4.2"/><circle cx="320.1" cy="403.7" r="4.2"/><circle cx="343.2" cy="444.6" r="4.2"/><circle cx="340.5" cy="410.1" r="4.2"/><circle cx="413.5" cy="349.3" r="4.2"/><circle cx="455.9" cy="324.5" r="4.2"/><circle cx="352.0" cy="454.9" r="4.2"/><circle cx="355.4" cy="424.4" r="4.2"/><circle cx="394.5" cy="399.3" r="4.2"/><circle cx="321.8" cy="457.1" r="4.2"/><circle cx="333.4" cy="424.8" r="4.2"/><circle cx="410.5" cy="399.3" r="4.2"/><circle cx="424.2" cy="361.8" r="4.2"/><circle cx="305.9" cy="454.8" r="4.2"/><circle cx="395.1" cy="377.3" r="4.2"/><circle cx="471.0" cy="322.4" r="4.2"/><circle cx="443.0" cy="302.3" r="4.2"/><circle cx="330.7" cy="458.9" r="4.2"/><circle cx="336.1" cy="443.2" r="4.2"/><circle cx="310.9" cy="444.3" r="4.2"/><circle cx="334.1" cy="429.4" r="4.2"/><circle cx="309.5" cy="445.8" r="4.2"/><circle cx="329.2" cy="428.0" r="4.2"/><circle cx="332.1" cy="446.1" r="4.2"/><circle cx="307.0" cy="412.3" r="4.2"/><circle cx="386.0" cy="393.2" r="4.2"/><circle cx="329.3" cy="429.0" r="4.2"/><circle cx="349.8" cy="367.4" r="4.2"/><circle cx="325.2" cy="407.7" r="4.2"/><circle cx="373.9" cy="387.8" r="4.2"/><circle cx="286.1" cy="478.7" r="4.2"/><circle cx="293.1" cy="407.7" r="4.2"/><circle cx="339.7" cy="374.0" r="4.2"/><circle cx="340.8" cy="446.7" r="4.2"/><circle cx="352.4" cy="402.7" r="4.2"/><circle cx="305.5" cy="471.7" r="4.2"/><circle cx="346.5" cy="417.1" r="4.2"/><circle cx="415.2" cy="325.7" r="4.2"/><circle cx="462.9" cy="356.3" r="4.2"/><circle cx="337.4" cy="440.5" r="4.2"/><circle cx="325.4" cy="443.3" r="4.2"/><circle cx="373.8" cy="402.1" r="4.2"/><circle cx="383.4" cy="424.1" r="4.2"/><circle cx="330.1" cy="433.7" r="4.2"/><circle cx="392.5" cy="409.7" r="4.2"/><circle cx="312.3" cy="429.3" r="4.2"/><circle cx="316.9" cy="435.5" r="4.2"/><circle cx="371.1" cy="408.4" r="4.2"/><circle cx="396.6" cy="398.1" r="4.2"/><circle cx="303.5" cy="422.9" r="4.2"/><circle cx="366.4" cy="387.0" r="4.2"/><circle cx="277.4" cy="487.5" r="4.2"/><circle cx="348.7" cy="373.8" r="4.2"/><circle cx="365.6" cy="409.4" r="4.2"/><circle cx="424.0" cy="375.8" r="4.2"/><circle cx="387.7" cy="377.7" r="4.2"/><circle cx="398.7" cy="376.7" r="4.2"/><circle cx="371.4" cy="387.4" r="4.2"/><circle cx="392.8" cy="394.5" r="4.2"/><circle cx="441.3" cy="360.4" r="4.2"/><circle cx="352.7" cy="433.2" r="4.2"/><circle cx="360.0" cy="398.5" r="4.2"/><circle cx="317.6" cy="394.2" r="4.2"/><circle cx="305.3" cy="421.6" r="4.2"/><circle cx="353.0" cy="418.1" r="4.2"/><circle cx="354.8" cy="373.7" r="4.2"/><circle cx="491.1" cy="292.2" r="4.2"/><circle cx="307.5" cy="490.6" r="4.2"/><circle cx="352.9" cy="423.9" r="4.2"/><circle cx="347.6" cy="408.5" r="4.2"/><circle cx="312.8" cy="441.3" r="4.2"/><circle cx="266.9" cy="464.5" r="4.2"/><circle cx="291.0" cy="444.9" r="4.2"/><circle cx="369.2" cy="379.7" r="4.2"/><circle cx="414.8" cy="386.7" r="4.2"/><circle cx="410.4" cy="390.1" r="4.2"/><circle cx="301.1" cy="459.3" r="4.2"/><circle cx="319.0" cy="449.9" r="4.2"/><circle cx="367.8" cy="402.6" r="4.2"/><circle cx="330.9" cy="433.7" r="4.2"/><circle cx="378.5" cy="388.3" r="4.2"/><circle cx="385.8" cy="349.0" r="4.2"/><circle cx="372.2" cy="380.5" r="4.2"/><circle cx="433.2" cy="373.1" r="4.2"/><circle cx="376.3" cy="422.6" r="4.2"/><circle cx="368.0" cy="409.2" r="4.2"/><circle cx="350.8" cy="425.8" r="4.2"/><circle cx="333.4" cy="424.8" r="4.2"/><circle cx="333.3" cy="413.4" r="4.2"/><circle cx="290.9" cy="472.7" r="4.2"/><circle cx="314.9" cy="461.0" r="4.2"/><circle cx="301.1" cy="433.1" r="4.2"/><circle cx="361.9" cy="396.7" r="4.2"/><circle cx="235.4" cy="476.7" r="4.2"/><circle cx="256.3" cy="462.3" r="4.2"/><circle cx="393.5" cy="407.5" r="4.2"/><circle cx="516.8" cy="288.9" r="4.2"/><circle cx="493.5" cy="302.1" r="4.2"/><circle cx="348.8" cy="398.2" r="4.2"/><circle cx="504.9" cy="299.2" r="4.2"/><circle cx="302.0" cy="484.2" r="4.2"/><circle cx="382.9" cy="368.0" r="4.2"/><circle cx="351.5" cy="447.0" r="4.2"/><circle cx="358.5" cy="427.7" r="4.2"/><circle cx="417.9" cy="376.4" r="4.2"/><circle cx="269.1" cy="469.2" r="4.2"/><circle cx="418.3" cy="341.9" r="4.2"/><circle cx="408.2" cy="390.3" r="4.2"/><circle cx="306.9" cy="466.3" r="4.2"/><circle cx="313.9" cy="449.8" r="4.2"/><circle cx="295.2" cy="468.0" r="4.2"/><circle cx="353.8" cy="426.0" r="4.2"/><circle cx="318.0" cy="452.8" r="4.2"/><circle cx="400.9" cy="355.8" r="4.2"/><circle cx="338.5" cy="416.5" r="4.2"/><circle cx="372.6" cy="397.2" r="4.2"/><circle cx="280.1" cy="449.8" r="4.2"/><circle cx="395.1" cy="366.2" r="4.2"/><circle cx="369.5" cy="395.9" r="4.2"/><circle cx="331.7" cy="419.8" r="4.2"/><circle cx="338.3" cy="436.0" r="4.2"/><circle cx="337.2" cy="453.1" r="4.2"/><circle cx="319.3" cy="439.9" r="4.2"/><circle cx="367.6" cy="390.8" r="4.2"/><circle cx="373.4" cy="397.4" r="4.2"/><circle cx="272.6" cy="449.9" r="4.2"/><circle cx="273.9" cy="494.9" r="4.2"/><circle cx="354.9" cy="393.1" r="4.2"/><circle cx="337.8" cy="392.6" r="4.2"/><circle cx="351.8" cy="452.4" r="4.2"/><circle cx="417.8" cy="357.2" r="4.2"/><circle cx="262.2" cy="482.7" r="4.2"/><circle cx="400.0" cy="384.6" r="4.2"/><circle cx="461.4" cy="362.3" r="4.2"/><circle cx="273.1" cy="489.2" r="4.2"/><circle cx="415.2" cy="381.6" r="4.2"/><circle cx="334.0" cy="437.9" r="4.2"/><circle cx="425.3" cy="363.3" r="4.2"/><circle cx="338.6" cy="390.7" r="4.2"/><circle cx="431.1" cy="366.7" r="4.2"/><circle cx="346.9" cy="418.0" r="4.2"/><circle cx="290.3" cy="434.9" r="4.2"/><circle cx="266.8" cy="460.1" r="4.2"/><circle cx="371.0" cy="425.9" r="4.2"/><circle cx="419.5" cy="383.5" r="4.2"/><circle cx="394.7" cy="392.7" r="4.2"/><circle cx="434.8" cy="372.9" r="4.2"/><circle cx="336.2" cy="412.1" r="4.2"/><circle cx="408.6" cy="380.7" r="4.2"/><circle cx="280.2" cy="492.0" r="4.2"/><circle cx="383.7" cy="406.9" r="4.2"/><circle cx="315.4" cy="461.8" r="4.2"/><circle cx="286.6" cy="474.3" r="4.2"/><circle cx="345.6" cy="428.2" r="4.2"/><circle cx="311.1" cy="481.8" r="4.2"/><circle cx="503.6" cy="300.3" r="4.2"/><circle cx="373.0" cy="379.5" r="4.2"/><circle cx="320.3" cy="445.4" r="4.2"/><circle cx="403.7" cy="355.9" r="4.2"/><circle cx="354.4" cy="406.6" r="4.2"/><circle cx="356.1" cy="387.1" r="4.2"/><circle cx="408.9" cy="393.8" r="4.2"/><circle cx="381.5" cy="343.0" r="4.2"/><circle cx="273.6" cy="459.7" r="4.2"/><circle cx="360.4" cy="386.7" r="4.2"/><circle cx="312.0" cy="456.8" r="4.2"/><circle cx="335.3" cy="407.6" r="4.2"/><circle cx="434.9" cy="367.9" r="4.2"/><circle cx="297.3" cy="453.6" r="4.2"/><circle cx="274.0" cy="436.5" r="4.2"/><circle cx="414.5" cy="367.7" r="4.2"/><circle cx="420.8" cy="369.6" r="4.2"/><circle cx="335.3" cy="379.8" r="4.2"/><circle cx="379.7" cy="376.7" r="4.2"/><circle cx="306.9" cy="419.5" r="4.2"/><circle cx="289.9" cy="467.9" r="4.2"/><circle cx="329.5" cy="433.5" r="4.2"/><circle cx="352.3" cy="424.1" r="4.2"/><circle cx="443.8" cy="349.4" r="4.2"/><circle cx="383.0" cy="337.9" r="4.2"/><circle cx="367.8" cy="377.7" r="4.2"/><circle cx="379.8" cy="430.5" r="4.2"/><circle cx="359.9" cy="424.8" r="4.2"/><circle cx="266.3" cy="442.2" r="4.2"/><circle cx="343.1" cy="416.2" r="4.2"/><circle cx="507.2" cy="290.1" r="4.2"/><circle cx="364.9" cy="428.4" r="4.2"/><circle cx="404.4" cy="390.0" r="4.2"/><circle cx="353.9" cy="420.7" r="4.2"/><circle cx="320.3" cy="466.6" r="4.2"/><circle cx="256.4" cy="472.6" r="4.2"/><circle cx="377.2" cy="427.9" r="4.2"/><circle cx="312.9" cy="435.1" r="4.2"/><circle cx="430.0" cy="322.6" r="4.2"/><circle cx="365.4" cy="431.7" r="4.2"/><circle cx="293.3" cy="462.8" r="4.2"/><circle cx="358.5" cy="390.1" r="4.2"/><circle cx="394.2" cy="388.8" r="4.2"/><circle cx="406.3" cy="386.2" r="4.2"/><circle cx="310.4" cy="420.6" r="4.2"/><circle cx="358.4" cy="397.2" r="4.2"/><circle cx="398.5" cy="370.0" r="4.2"/><circle cx="382.8" cy="410.4" r="4.2"/><circle cx="331.4" cy="414.5" r="4.2"/><circle cx="346.5" cy="420.5" r="4.2"/><circle cx="371.4" cy="419.9" r="4.2"/><circle cx="287.2" cy="461.5" r="4.2"/><circle cx="468.3" cy="305.7" r="4.2"/><circle cx="365.5" cy="388.1" r="4.2"/><circle cx="503.9" cy="308.0" r="4.2"/><circle cx="356.0" cy="417.9" r="4.2"/><circle cx="339.3" cy="450.6" r="4.2"/><circle cx="381.4" cy="417.2" r="4.2"/><circle cx="377.5" cy="403.4" r="4.2"/><circle cx="310.5" cy="426.8" r="4.2"/><circle cx="310.6" cy="418.8" r="4.2"/><circle cx="319.1" cy="419.0" r="4.2"/><circle cx="391.9" cy="381.0" r="4.2"/><circle cx="470.7" cy="334.4" r="4.2"/><circle cx="333.8" cy="468.7" r="4.2"/><circle cx="351.4" cy="379.6" r="4.2"/><circle cx="416.6" cy="379.7" r="4.2"/><circle cx="267.6" cy="477.0" r="4.2"/><circle cx="298.0" cy="454.3" r="4.2"/><circle cx="287.1" cy="438.5" r="4.2"/><circle cx="317.9" cy="427.7" r="4.2"/><circle cx="347.5" cy="419.4" r="4.2"/><circle cx="440.1" cy="355.1" r="4.2"/><circle cx="425.4" cy="362.4" r="4.2"/><circle cx="388.2" cy="395.1" r="4.2"/><circle cx="337.2" cy="454.4" r="4.2"/><circle cx="414.1" cy="374.4" r="4.2"/><circle cx="320.8" cy="430.8" r="4.2"/><circle cx="311.8" cy="412.8" r="4.2"/><circle cx="371.9" cy="368.1" r="4.2"/><circle cx="324.4" cy="404.6" r="4.2"/><circle cx="433.7" cy="365.3" r="4.2"/><circle cx="292.7" cy="447.0" r="4.2"/><circle cx="377.5" cy="418.9" r="4.2"/><circle cx="298.6" cy="411.3" r="4.2"/><circle cx="436.5" cy="374.4" r="4.2"/><circle cx="326.2" cy="446.8" r="4.2"/><circle cx="285.4" cy="467.0" r="4.2"/><circle cx="321.8" cy="454.4" r="4.2"/><circle cx="439.7" cy="356.6" r="4.2"/><circle cx="430.7" cy="384.9" r="4.2"/><circle cx="359.9" cy="367.9" r="4.2"/><circle cx="352.1" cy="394.7" r="4.2"/><circle cx="310.8" cy="447.6" r="4.2"/><circle cx="331.9" cy="439.8" r="4.2"/><circle cx="367.4" cy="410.0" r="4.2"/><circle cx="414.2" cy="353.9" r="4.2"/><circle cx="336.6" cy="393.5" r="4.2"/><circle cx="434.0" cy="350.5" r="4.2"/><circle cx="430.5" cy="377.0" r="4.2"/><circle cx="269.4" cy="465.4" r="4.2"/><circle cx="413.5" cy="387.9" r="4.2"/><circle cx="377.5" cy="410.6" r="4.2"/><circle cx="389.9" cy="411.8" r="4.2"/><circle cx="378.3" cy="356.9" r="4.2"/><circle cx="348.0" cy="404.9" r="4.2"/><circle cx="365.5" cy="403.2" r="4.2"/><circle cx="360.4" cy="417.3" r="4.2"/><circle cx="333.6" cy="413.8" r="4.2"/><circle cx="296.9" cy="458.9" r="4.2"/><circle cx="315.4" cy="434.4" r="4.2"/><circle cx="308.7" cy="483.5" r="4.2"/><circle cx="323.4" cy="432.9" r="4.2"/><circle cx="480.1" cy="279.3" r="4.2"/><circle cx="456.8" cy="340.2" r="4.2"/><circle cx="362.7" cy="395.7" r="4.2"/><circle cx="271.2" cy="465.9" r="4.2"/><circle cx="302.7" cy="449.5" r="4.2"/><circle cx="318.3" cy="433.9" r="4.2"/><circle cx="280.9" cy="455.2" r="4.2"/><circle cx="335.1" cy="408.8" r="4.2"/><circle cx="296.9" cy="466.4" r="4.2"/><circle cx="461.6" cy="334.6" r="4.2"/><circle cx="369.2" cy="406.6" r="4.2"/><circle cx="365.1" cy="386.3" r="4.2"/><circle cx="348.3" cy="421.5" r="4.2"/><circle cx="332.1" cy="423.2" r="4.2"/><circle cx="423.7" cy="408.4" r="4.2"/><circle cx="315.2" cy="467.5" r="4.2"/><circle cx="373.2" cy="369.5" r="4.2"/><circle cx="261.2" cy="451.5" r="4.2"/><circle cx="326.3" cy="435.0" r="4.2"/><circle cx="408.4" cy="366.8" r="4.2"/><circle cx="359.5" cy="452.9" r="4.2"/><circle cx="247.4" cy="491.1" r="4.2"/><circle cx="394.2" cy="401.7" r="4.2"/><circle cx="355.7" cy="392.2" r="4.2"/><circle cx="431.0" cy="378.6" r="4.2"/><circle cx="301.0" cy="455.8" r="4.2"/><circle cx="409.3" cy="338.6" r="4.2"/><circle cx="366.7" cy="377.0" r="4.2"/><circle cx="275.0" cy="448.7" r="4.2"/><circle cx="369.2" cy="393.5" r="4.2"/><circle cx="336.3" cy="382.1" r="4.2"/><circle cx="432.6" cy="353.7" r="4.2"/><circle cx="295.9" cy="437.6" r="4.2"/><circle cx="366.4" cy="408.4" r="4.2"/><circle cx="388.5" cy="396.7" r="4.2"/><circle cx="464.4" cy="315.8" r="4.2"/><circle cx="475.9" cy="313.3" r="4.2"/><circle cx="345.9" cy="395.4" r="4.2"/><circle cx="297.7" cy="462.4" r="4.2"/><circle cx="326.5" cy="420.8" r="4.2"/><circle cx="350.3" cy="401.8" r="4.2"/><circle cx="320.4" cy="441.7" r="4.2"/><circle cx="388.4" cy="381.1" r="4.2"/><circle cx="412.7" cy="372.0" r="4.2"/><circle cx="368.3" cy="402.2" r="4.2"/><circle cx="475.6" cy="317.5" r="4.2"/><circle cx="368.2" cy="408.8" r="4.2"/><circle cx="305.9" cy="448.5" r="4.2"/><circle cx="357.0" cy="415.0" r="4.2"/><circle cx="311.1" cy="409.0" r="4.2"/><circle cx="438.9" cy="386.7" r="4.2"/><circle cx="355.3" cy="379.5" r="4.2"/><circle cx="365.9" cy="419.4" r="4.2"/><circle cx="407.5" cy="362.0" r="4.2"/><circle cx="412.9" cy="369.2" r="4.2"/><circle cx="388.6" cy="402.4" r="4.2"/><circle cx="330.4" cy="465.5" r="4.2"/><circle cx="312.7" cy="474.7" r="4.2"/><circle cx="314.5" cy="471.2" r="4.2"/><circle cx="344.4" cy="442.7" r="4.2"/><circle cx="305.0" cy="460.4" r="4.2"/><circle cx="337.0" cy="427.3" r="4.2"/><circle cx="413.0" cy="360.1" r="4.2"/><circle cx="401.0" cy="390.2" r="4.2"/><circle cx="339.0" cy="438.4" r="4.2"/><circle cx="323.3" cy="443.2" r="4.2"/><circle cx="342.3" cy="435.8" r="4.2"/><circle cx="320.0" cy="396.7" r="4.2"/><circle cx="322.9" cy="404.7" r="4.2"/><circle cx="412.4" cy="388.3" r="4.2"/><circle cx="284.2" cy="446.6" r="4.2"/><circle cx="384.2" cy="360.4" r="4.2"/><circle cx="373.5" cy="383.5" r="4.2"/><circle cx="383.4" cy="402.6" r="4.2"/><circle cx="307.0" cy="451.2" r="4.2"/><circle cx="375.7" cy="370.9" r="4.2"/><circle cx="329.7" cy="417.6" r="4.2"/><circle cx="333.7" cy="431.0" r="4.2"/><circle cx="385.9" cy="405.7" r="4.2"/><circle cx="360.4" cy="435.4" r="4.2"/><circle cx="372.1" cy="401.8" r="4.2"/><circle cx="381.5" cy="402.7" r="4.2"/><circle cx="280.5" cy="430.8" r="4.2"/><circle cx="408.9" cy="346.5" r="4.2"/><circle cx="387.2" cy="335.6" r="4.2"/><circle cx="340.2" cy="436.2" r="4.2"/><circle cx="345.9" cy="400.6" r="4.2"/><circle cx="425.4" cy="322.7" r="4.2"/><circle cx="316.3" cy="435.5" r="4.2"/><circle cx="306.4" cy="405.5" r="4.2"/><circle cx="308.6" cy="436.8" r="4.2"/><circle cx="507.3" cy="299.4" r="4.2"/><circle cx="402.7" cy="382.0" r="4.2"/><circle cx="316.4" cy="418.6" r="4.2"/><circle cx="358.1" cy="397.2" r="4.2"/><circle cx="368.1" cy="379.6" r="4.2"/><circle cx="314.2" cy="480.2" r="4.2"/><circle cx="520.5" cy="288.8" r="4.2"/><circle cx="442.0" cy="337.6" r="4.2"/><circle cx="336.6" cy="429.9" r="4.2"/><circle cx="375.4" cy="413.3" r="4.2"/><circle cx="350.6" cy="390.1" r="4.2"/><circle cx="303.7" cy="436.6" r="4.2"/><circle cx="354.2" cy="387.3" r="4.2"/><circle cx="290.6" cy="478.0" r="4.2"/><circle cx="316.0" cy="441.5" r="4.2"/><circle cx="364.3" cy="425.2" r="4.2"/><circle cx="447.0" cy="352.5" r="4.2"/><circle cx="333.5" cy="419.0" r="4.2"/><circle cx="352.5" cy="421.1" r="4.2"/><circle cx="300.9" cy="451.0" r="4.2"/><circle cx="464.6" cy="339.4" r="4.2"/><circle cx="317.8" cy="450.6" r="4.2"/><circle cx="384.2" cy="397.5" r="4.2"/><circle cx="326.9" cy="414.7" r="4.2"/><circle cx="344.5" cy="422.5" r="4.2"/><circle cx="313.6" cy="435.8" r="4.2"/><circle cx="344.9" cy="390.0" r="4.2"/><circle cx="340.0" cy="431.0" r="4.2"/><circle cx="458.0" cy="337.0" r="4.2"/><circle cx="314.5" cy="435.7" r="4.2"/><circle cx="288.0" cy="467.2" r="4.2"/><circle cx="338.7" cy="428.7" r="4.2"/><circle cx="350.6" cy="404.5" r="4.2"/><circle cx="369.5" cy="402.9" r="4.2"/><circle cx="414.0" cy="372.4" r="4.2"/><circle cx="321.7" cy="451.3" r="4.2"/><circle cx="442.1" cy="348.8" r="4.2"/><circle cx="292.5" cy="466.4" r="4.2"/><circle cx="421.4" cy="384.2" r="4.2"/><circle cx="442.6" cy="374.6" r="4.2"/><circle cx="419.1" cy="358.5" r="4.2"/><circle cx="373.0" cy="370.9" r="4.2"/><circle cx="375.1" cy="407.9" r="4.2"/><circle cx="376.0" cy="392.0" r="4.2"/><circle cx="320.4" cy="451.3" r="4.2"/><circle cx="486.1" cy="307.1" r="4.2"/><circle cx="313.3" cy="450.0" r="4.2"/><circle cx="351.0" cy="425.6" r="4.2"/><circle cx="335.0" cy="422.0" r="4.2"/><circle cx="385.4" cy="409.2" r="4.2"/><circle cx="246.1" cy="470.4" r="4.2"/><circle cx="413.3" cy="389.0" r="4.2"/><circle cx="343.1" cy="429.0" r="4.2"/><circle cx="404.1" cy="400.7" r="4.2"/><circle cx="382.0" cy="399.0" r="4.2"/><circle cx="384.5" cy="407.8" r="4.2"/><circle cx="300.7" cy="452.2" r="4.2"/><circle cx="265.3" cy="480.4" r="4.2"/><circle cx="305.1" cy="418.2" r="4.2"/><circle cx="308.9" cy="454.1" r="4.2"/><circle cx="401.0" cy="388.9" r="4.2"/><circle cx="397.6" cy="357.9" r="4.2"/><circle cx="351.4" cy="425.3" r="4.2"/><circle cx="397.5" cy="411.8" r="4.2"/><circle cx="380.4" cy="408.1" r="4.2"/><circle cx="353.3" cy="375.2" r="4.2"/><circle cx="231.3" cy="479.4" r="4.2"/><circle cx="382.2" cy="409.0" r="4.2"/><circle cx="387.7" cy="334.6" r="4.2"/><circle cx="294.9" cy="468.4" r="4.2"/><circle cx="315.9" cy="425.8" r="4.2"/><circle cx="383.0" cy="381.9" r="4.2"/><circle cx="319.3" cy="414.2" r="4.2"/><circle cx="372.2" cy="446.8" r="4.2"/><circle cx="415.4" cy="331.7" r="4.2"/><circle cx="388.2" cy="395.5" r="4.2"/><circle cx="316.2" cy="455.9" r="4.2"/><circle cx="316.7" cy="450.9" r="4.2"/><circle cx="376.2" cy="421.1" r="4.2"/><circle cx="393.2" cy="406.4" r="4.2"/><circle cx="342.7" cy="424.5" r="4.2"/><circle cx="395.9" cy="381.5" r="4.2"/><circle cx="376.8" cy="396.5" r="4.2"/><circle cx="275.3" cy="465.2" r="4.2"/><circle cx="296.2" cy="492.2" r="4.2"/><circle cx="320.4" cy="392.2" r="4.2"/><circle cx="312.0" cy="407.8" r="4.2"/><circle cx="439.7" cy="362.4" r="4.2"/><circle cx="472.6" cy="336.4" r="4.2"/><circle cx="392.0" cy="379.4" r="4.2"/><circle cx="350.1" cy="411.7" r="4.2"/><circle cx="326.8" cy="443.0" r="4.2"/><circle cx="290.4" cy="448.9" r="4.2"/><circle cx="421.6" cy="359.7" r="4.2"/><circle cx="425.0" cy="372.7" r="4.2"/><circle cx="374.8" cy="373.3" r="4.2"/><circle cx="384.6" cy="416.4" r="4.2"/><circle cx="382.9" cy="346.4" r="4.2"/><circle cx="339.6" cy="384.1" r="4.2"/><circle cx="472.9" cy="308.1" r="4.2"/><circle cx="301.5" cy="430.7" r="4.2"/><circle cx="428.4" cy="345.5" r="4.2"/><circle cx="419.4" cy="373.5" r="4.2"/><circle cx="323.1" cy="446.4" r="4.2"/><circle cx="341.1" cy="385.6" r="4.2"/><circle cx="264.4" cy="482.9" r="4.2"/><circle cx="375.6" cy="372.1" r="4.2"/><circle cx="412.2" cy="380.7" r="4.2"/><circle cx="272.1" cy="463.7" r="4.2"/><circle cx="320.0" cy="428.4" r="4.2"/><circle cx="369.3" cy="353.8" r="4.2"/><circle cx="345.3" cy="428.6" r="4.2"/><circle cx="426.7" cy="361.8" r="4.2"/><circle cx="401.2" cy="415.8" r="4.2"/><circle cx="365.7" cy="409.1" r="4.2"/><circle cx="375.7" cy="424.4" r="4.2"/><circle cx="378.2" cy="418.1" r="4.2"/><circle cx="361.7" cy="384.8" r="4.2"/><circle cx="421.2" cy="333.0" r="4.2"/><circle cx="390.5" cy="413.7" r="4.2"/><circle cx="469.9" cy="325.8" r="4.2"/><circle cx="346.8" cy="441.4" r="4.2"/><circle cx="328.2" cy="429.2" r="4.2"/><circle cx="450.1" cy="354.7" r="4.2"/><circle cx="436.4" cy="355.3" r="4.2"/><circle cx="342.4" cy="387.5" r="4.2"/><circle cx="341.3" cy="402.2" r="4.2"/><circle cx="304.1" cy="417.8" r="4.2"/><circle cx="375.1" cy="397.6" r="4.2"/><circle cx="274.7" cy="484.3" r="4.2"/><circle cx="368.5" cy="350.5" r="4.2"/><circle cx="284.2" cy="463.6" r="4.2"/><circle cx="413.2" cy="376.5" r="4.2"/><circle cx="383.7" cy="404.4" r="4.2"/><circle cx="425.2" cy="352.6" r="4.2"/><circle cx="296.1" cy="426.7" r="4.2"/><circle cx="474.8" cy="315.8" r="4.2"/><circle cx="390.6" cy="400.8" r="4.2"/><circle cx="319.0" cy="440.2" r="4.2"/><circle cx="379.9" cy="377.0" r="4.2"/><circle cx="313.0" cy="483.9" r="4.2"/><circle cx="413.8" cy="412.4" r="4.2"/><circle cx="295.0" cy="461.3" r="4.2"/><circle cx="304.4" cy="474.0" r="4.2"/><circle cx="346.2" cy="375.2" r="4.2"/><circle cx="312.5" cy="397.4" r="4.2"/><circle cx="374.6" cy="372.8" r="4.2"/><circle cx="295.3" cy="447.2" r="4.2"/><circle cx="322.4" cy="440.7" r="4.2"/><circle cx="352.7" cy="383.4" r="4.2"/><circle cx="352.3" cy="404.5" r="4.2"/><circle cx="355.7" cy="377.5" r="4.2"/><circle cx="508.9" cy="267.3" r="4.2"/><circle cx="342.6" cy="398.2" r="4.2"/><circle cx="472.2" cy="338.8" r="4.2"/><circle cx="318.7" cy="462.1" r="4.2"/><circle cx="276.3" cy="495.5" r="4.2"/><circle cx="298.7" cy="464.5" r="4.2"/><circle cx="400.9" cy="372.3" r="4.2"/><circle cx="362.9" cy="380.3" r="4.2"/><circle cx="411.5" cy="403.5" r="4.2"/><circle cx="290.7" cy="443.6" r="4.2"/><circle cx="384.2" cy="380.5" r="4.2"/><circle cx="330.6" cy="406.1" r="4.2"/><circle cx="340.7" cy="460.3" r="4.2"/><circle cx="468.8" cy="299.2" r="4.2"/><circle cx="309.4" cy="421.2" r="4.2"/><circle cx="444.9" cy="323.9" r="4.2"/><circle cx="244.5" cy="481.7" r="4.2"/><circle cx="409.0" cy="399.0" r="4.2"/><circle cx="289.6" cy="473.3" r="4.2"/><circle cx="321.3" cy="460.1" r="4.2"/><circle cx="321.4" cy="454.3" r="4.2"/><circle cx="327.4" cy="452.3" r="4.2"/><circle cx="347.0" cy="422.0" r="4.2"/><circle cx="396.8" cy="406.3" r="4.2"/><circle cx="408.5" cy="343.9" r="4.2"/><circle cx="326.9" cy="442.8" r="4.2"/><circle cx="359.9" cy="406.9" r="4.2"/><circle cx="389.3" cy="405.0" r="4.2"/><circle cx="377.5" cy="415.9" r="4.2"/><circle cx="378.2" cy="402.3" r="4.2"/><circle cx="385.2" cy="393.3" r="4.2"/><circle cx="359.8" cy="423.8" r="4.2"/><circle cx="260.3" cy="492.7" r="4.2"/><circle cx="299.6" cy="473.1" r="4.2"/><circle cx="273.9" cy="467.9" r="4.2"/><circle cx="305.0" cy="457.2" r="4.2"/><circle cx="344.3" cy="446.3" r="4.2"/><circle cx="390.2" cy="371.9" r="4.2"/><circle cx="273.4" cy="470.8" r="4.2"/><circle cx="331.0" cy="437.6" r="4.2"/><circle cx="459.8" cy="335.0" r="4.2"/><circle cx="469.8" cy="342.2" r="4.2"/><circle cx="288.3" cy="413.7" r="4.2"/><circle cx="536.0" cy="268.3" r="4.2"/><circle cx="399.9" cy="363.2" r="4.2"/><circle cx="325.1" cy="428.8" r="4.2"/><circle cx="348.1" cy="419.2" r="4.2"/><circle cx="319.4" cy="441.7" r="4.2"/><circle cx="437.6" cy="347.3" r="4.2"/><circle cx="390.2" cy="406.8" r="4.2"/><circle cx="332.4" cy="404.3" r="4.2"/><circle cx="372.4" cy="380.2" r="4.2"/><circle cx="424.7" cy="364.7" r="4.2"/><circle cx="300.8" cy="443.1" r="4.2"/><circle cx="426.0" cy="366.6" r="4.2"/><circle cx="444.1" cy="340.9" r="4.2"/><circle cx="317.9" cy="441.6" r="4.2"/><circle cx="329.7" cy="428.6" r="4.2"/><circle cx="327.2" cy="410.2" r="4.2"/><circle cx="485.0" cy="304.3" r="4.2"/><circle cx="456.1" cy="314.8" r="4.2"/><circle cx="376.7" cy="416.5" r="4.2"/><circle cx="416.8" cy="367.2" r="4.2"/><circle cx="339.4" cy="422.4" r="4.2"/><circle cx="439.5" cy="370.1" r="4.2"/><circle cx="335.1" cy="420.0" r="4.2"/><circle cx="299.4" cy="428.6" r="4.2"/><circle cx="309.2" cy="459.4" r="4.2"/><circle cx="441.2" cy="337.0" r="4.2"/><circle cx="344.0" cy="433.2" r="4.2"/><circle cx="304.0" cy="478.2" r="4.2"/><circle cx="356.1" cy="424.8" r="4.2"/><circle cx="401.8" cy="399.8" r="4.2"/><circle cx="410.9" cy="359.7" r="4.2"/><circle cx="299.2" cy="432.5" r="4.2"/><circle cx="323.2" cy="419.7" r="4.2"/><circle cx="342.1" cy="398.5" r="4.2"/><circle cx="380.1" cy="393.9" r="4.2"/><circle cx="330.8" cy="404.7" r="4.2"/><circle cx="424.3" cy="387.3" r="4.2"/><circle cx="424.4" cy="356.7" r="4.2"/><circle cx="344.8" cy="423.8" r="4.2"/><circle cx="283.2" cy="453.3" r="4.2"/><circle cx="389.4" cy="408.7" r="4.2"/><circle cx="331.1" cy="433.6" r="4.2"/><circle cx="378.8" cy="415.3" r="4.2"/><circle cx="288.3" cy="446.1" r="4.2"/><circle cx="378.7" cy="410.1" r="4.2"/><circle cx="295.6" cy="465.3" r="4.2"/><circle cx="345.7" cy="438.9" r="4.2"/><circle cx="325.2" cy="438.6" r="4.2"/><circle cx="369.4" cy="378.0" r="4.2"/><circle cx="360.1" cy="414.8" r="4.2"/><circle cx="427.8" cy="382.7" r="4.2"/><circle cx="353.5" cy="445.7" r="4.2"/><circle cx="360.2" cy="446.0" r="4.2"/><circle cx="405.9" cy="362.8" r="4.2"/><circle cx="307.1" cy="443.0" r="4.2"/><circle cx="397.3" cy="406.6" r="4.2"/><circle cx="285.0" cy="465.6" r="4.2"/><circle cx="301.5" cy="453.4" r="4.2"/><circle cx="425.4" cy="377.3" r="4.2"/><circle cx="345.2" cy="449.3" r="4.2"/><circle cx="428.9" cy="376.5" r="4.2"/><circle cx="445.8" cy="346.1" r="4.2"/><circle cx="364.9" cy="408.2" r="4.2"/><circle cx="327.4" cy="419.4" r="4.2"/><circle cx="384.4" cy="407.9" r="4.2"/><circle cx="391.9" cy="393.6" r="4.2"/><circle cx="355.3" cy="391.2" r="4.2"/><circle cx="360.1" cy="384.7" r="4.2"/><circle cx="358.2" cy="410.8" r="4.2"/><circle cx="364.3" cy="429.4" r="4.2"/><circle cx="291.5" cy="480.0" r="4.2"/><circle cx="353.4" cy="448.9" r="4.2"/><circle cx="351.2" cy="414.3" r="4.2"/><circle cx="403.0" cy="390.2" r="4.2"/><circle cx="341.2" cy="465.7" r="4.2"/><circle cx="360.0" cy="395.6" r="4.2"/><circle cx="385.5" cy="403.2" r="4.2"/><circle cx="331.3" cy="418.3" r="4.2"/><circle cx="303.7" cy="466.5" r="4.2"/><circle cx="474.5" cy="323.0" r="4.2"/><circle cx="362.0" cy="430.7" r="4.2"/><circle cx="402.9" cy="356.4" r="4.2"/><circle cx="327.4" cy="400.2" r="4.2"/><circle cx="385.3" cy="416.1" r="4.2"/><circle cx="379.8" cy="409.8" r="4.2"/><circle cx="255.9" cy="468.2" r="4.2"/><circle cx="286.1" cy="464.4" r="4.2"/><circle cx="464.7" cy="333.9" r="4.2"/><circle cx="297.6" cy="458.9" r="4.2"/><circle cx="362.1" cy="424.6" r="4.2"/><circle cx="288.5" cy="435.3" r="4.2"/><circle cx="262.0" cy="489.1" r="4.2"/><circle cx="376.4" cy="378.9" r="4.2"/><circle cx="375.8" cy="397.6" r="4.2"/><circle cx="400.8" cy="389.3" r="4.2"/><circle cx="398.1" cy="402.1" r="4.2"/><circle cx="307.3" cy="435.5" r="4.2"/><circle cx="483.3" cy="336.1" r="4.2"/><circle cx="419.9" cy="369.6" r="4.2"/><circle cx="379.4" cy="409.8" r="4.2"/><circle cx="290.2" cy="482.6" r="4.2"/><circle cx="426.3" cy="389.3" r="4.2"/><circle cx="293.6" cy="447.7" r="4.2"/><circle cx="415.7" cy="341.0" r="4.2"/><circle cx="291.6" cy="469.0" r="4.2"/><circle cx="378.9" cy="403.9" r="4.2"/><circle cx="423.2" cy="376.1" r="4.2"/><circle cx="296.9" cy="462.4" r="4.2"/><circle cx="313.5" cy="452.1" r="4.2"/><circle cx="382.8" cy="417.7" r="4.2"/><circle cx="336.3" cy="461.0" r="4.2"/><circle cx="354.4" cy="409.5" r="4.2"/><circle cx="268.5" cy="473.2" r="4.2"/><circle cx="412.8" cy="384.0" r="4.2"/><circle cx="371.7" cy="362.3" r="4.2"/><circle cx="418.7" cy="368.5" r="4.2"/><circle cx="384.7" cy="409.1" r="4.2"/><circle cx="290.4" cy="483.2" r="4.2"/><circle cx="340.4" cy="440.7" r="4.2"/><circle cx="489.3" cy="312.6" r="4.2"/><circle cx="376.8" cy="406.2" r="4.2"/><circle cx="368.0" cy="391.1" r="4.2"/><circle cx="289.2" cy="433.4" r="4.2"/><circle cx="338.8" cy="392.5" r="4.2"/><circle cx="299.2" cy="440.5" r="4.2"/><circle cx="348.0" cy="385.0" r="4.2"/><circle cx="394.2" cy="369.1" r="4.2"/><circle cx="329.8" cy="439.4" r="4.2"/><circle cx="347.5" cy="423.1" r="4.2"/><circle cx="280.5" cy="490.1" r="4.2"/><circle cx="242.3" cy="478.3" r="4.2"/><circle cx="406.0" cy="395.5" r="4.2"/><circle cx="323.1" cy="444.7" r="4.2"/><circle cx="353.9" cy="408.0" r="4.2"/><circle cx="373.4" cy="369.8" r="4.2"/><circle cx="251.6" cy="455.6" r="4.2"/><circle cx="366.8" cy="380.7" r="4.2"/><circle cx="348.3" cy="390.3" r="4.2"/><circle cx="335.7" cy="441.7" r="4.2"/><circle cx="458.1" cy="330.7" r="4.2"/><circle cx="302.6" cy="469.6" r="4.2"/><circle cx="305.3" cy="432.5" r="4.2"/><circle cx="386.9" cy="340.0" r="4.2"/><circle cx="405.8" cy="371.8" r="4.2"/><circle cx="356.4" cy="418.9" r="4.2"/><circle cx="272.4" cy="469.5" r="4.2"/><circle cx="475.4" cy="323.4" r="4.2"/><circle cx="373.0" cy="416.4" r="4.2"/><circle cx="354.4" cy="436.3" r="4.2"/><circle cx="460.1" cy="339.1" r="4.2"/><circle cx="354.5" cy="429.4" r="4.2"/><circle cx="335.0" cy="368.7" r="4.2"/><circle cx="345.6" cy="444.2" r="4.2"/><circle cx="422.5" cy="355.2" r="4.2"/><circle cx="302.6" cy="463.2" r="4.2"/><circle cx="285.1" cy="480.3" r="4.2"/><circle cx="342.7" cy="431.3" r="4.2"/><circle cx="293.9" cy="461.8" r="4.2"/><circle cx="305.3" cy="436.1" r="4.2"/><circle cx="376.4" cy="432.4" r="4.2"/><circle cx="366.7" cy="373.3" r="4.2"/><circle cx="331.5" cy="443.4" r="4.2"/><circle cx="291.4" cy="476.4" r="4.2"/><circle cx="347.5" cy="360.4" r="4.2"/><circle cx="408.7" cy="387.1" r="4.2"/><circle cx="281.4" cy="469.8" r="4.2"/><circle cx="426.6" cy="357.2" r="4.2"/><circle cx="362.5" cy="412.8" r="4.2"/><circle cx="341.4" cy="415.4" r="4.2"/><circle cx="312.4" cy="442.1" r="4.2"/><circle cx="298.4" cy="467.8" r="4.2"/><circle cx="441.5" cy="348.0" r="4.2"/><circle cx="382.3" cy="405.3" r="4.2"/><circle cx="473.0" cy="333.7" r="4.2"/><circle cx="337.0" cy="427.1" r="4.2"/><circle cx="414.0" cy="381.5" r="4.2"/><circle cx="402.5" cy="396.3" r="4.2"/><circle cx="408.6" cy="374.4" r="4.2"/><circle cx="293.3" cy="411.7" r="4.2"/><circle cx="452.6" cy="341.5" r="4.2"/><circle cx="515.7" cy="268.2" r="4.2"/><circle cx="484.5" cy="284.6" r="4.2"/><circle cx="267.3" cy="432.4" r="4.2"/><circle cx="387.8" cy="404.3" r="4.2"/><circle cx="437.9" cy="352.6" r="4.2"/><circle cx="392.8" cy="400.6" r="4.2"/><circle cx="392.6" cy="375.1" r="4.2"/><circle cx="406.3" cy="369.7" r="4.2"/><circle cx="387.0" cy="392.6" r="4.2"/><circle cx="422.1" cy="396.3" r="4.2"/><circle cx="340.4" cy="438.5" r="4.2"/><circle cx="381.7" cy="390.3" r="4.2"/><circle cx="291.2" cy="485.3" r="4.2"/><circle cx="425.0" cy="400.8" r="4.2"/><circle cx="446.3" cy="346.7" r="4.2"/><circle cx="309.6" cy="422.9" r="4.2"/><circle cx="352.3" cy="423.3" r="4.2"/><circle cx="335.2" cy="419.8" r="4.2"/><circle cx="305.1" cy="443.4" r="4.2"/><circle cx="396.9" cy="399.2" r="4.2"/><circle cx="341.9" cy="412.7" r="4.2"/><circle cx="488.8" cy="313.8" r="4.2"/><circle cx="444.5" cy="373.8" r="4.2"/><circle cx="296.3" cy="452.0" r="4.2"/><circle cx="392.9" cy="407.6" r="4.2"/><circle cx="337.0" cy="418.6" r="4.2"/><circle cx="321.3" cy="388.7" r="4.2"/><circle cx="344.9" cy="425.2" r="4.2"/><circle cx="414.9" cy="346.4" r="4.2"/><circle cx="345.8" cy="389.7" r="4.2"/><circle cx="338.5" cy="434.8" r="4.2"/><circle cx="446.0" cy="337.0" r="4.2"/><circle cx="323.3" cy="438.0" r="4.2"/><circle cx="372.1" cy="439.1" r="4.2"/><circle cx="337.6" cy="431.4" r="4.2"/><circle cx="322.0" cy="447.3" r="4.2"/><circle cx="361.1" cy="404.2" r="4.2"/><circle cx="379.5" cy="353.0" r="4.2"/><circle cx="438.5" cy="334.8" r="4.2"/><circle cx="336.6" cy="391.5" r="4.2"/><circle cx="333.3" cy="417.4" r="4.2"/><circle cx="360.8" cy="401.9" r="4.2"/><circle cx="494.2" cy="288.8" r="4.2"/><circle cx="334.7" cy="379.5" r="4.2"/><circle cx="377.2" cy="427.0" r="4.2"/><circle cx="397.4" cy="409.5" r="4.2"/><circle cx="344.6" cy="430.2" r="4.2"/><circle cx="383.9" cy="363.3" r="4.2"/><circle cx="280.8" cy="480.1" r="4.2"/><circle cx="310.5" cy="440.0" r="4.2"/><circle cx="307.7" cy="444.7" r="4.2"/><circle cx="321.0" cy="414.8" r="4.2"/><circle cx="320.8" cy="437.0" r="4.2"/><circle cx="293.6" cy="456.2" r="4.2"/><circle cx="436.5" cy="377.0" r="4.2"/><circle cx="297.4" cy="471.2" r="4.2"/><circle cx="302.6" cy="438.9" r="4.2"/><circle cx="421.0" cy="371.2" r="4.2"/><circle cx="468.9" cy="282.4" r="4.2"/><circle cx="410.0" cy="400.9" r="4.2"/><circle cx="401.8" cy="375.5" r="4.2"/><circle cx="322.4" cy="435.1" r="4.2"/><circle cx="260.3" cy="495.7" r="4.2"/><circle cx="469.6" cy="320.6" r="4.2"/><circle cx="325.6" cy="478.6" r="4.2"/><circle cx="403.8" cy="380.1" r="4.2"/><circle cx="412.3" cy="360.6" r="4.2"/><circle cx="401.1" cy="374.8" r="4.2"/><circle cx="297.6" cy="456.1" r="4.2"/><circle cx="435.8" cy="386.6" r="4.2"/><circle cx="355.4" cy="436.9" r="4.2"/><circle cx="375.5" cy="417.1" r="4.2"/><circle cx="354.6" cy="407.5" r="4.2"/><circle cx="466.0" cy="353.0" r="4.2"/><circle cx="258.4" cy="483.1" r="4.2"/><circle cx="447.2" cy="341.1" r="4.2"/><circle cx="432.2" cy="349.6" r="4.2"/><circle cx="332.6" cy="431.4" r="4.2"/><circle cx="408.3" cy="387.8" r="4.2"/><circle cx="343.6" cy="441.9" r="4.2"/><circle cx="433.2" cy="353.4" r="4.2"/><circle cx="409.2" cy="394.9" r="4.2"/><circle cx="324.6" cy="466.0" r="4.2"/><circle cx="330.6" cy="447.8" r="4.2"/><circle cx="389.3" cy="421.9" r="4.2"/><circle cx="299.1" cy="485.4" r="4.2"/><circle cx="340.2" cy="406.4" r="4.2"/><circle cx="360.4" cy="405.4" r="4.2"/><circle cx="388.4" cy="387.2" r="4.2"/><circle cx="388.9" cy="366.2" r="4.2"/><circle cx="419.8" cy="361.5" r="4.2"/><circle cx="428.3" cy="320.6" r="4.2"/><circle cx="335.6" cy="413.2" r="4.2"/><circle cx="377.8" cy="384.8" r="4.2"/><circle cx="421.8" cy="334.4" r="4.2"/><circle cx="292.6" cy="416.8" r="4.2"/><circle cx="322.2" cy="403.8" r="4.2"/><circle cx="420.1" cy="380.1" r="4.2"/><circle cx="368.1" cy="441.0" r="4.2"/><circle cx="395.8" cy="414.9" r="4.2"/><circle cx="451.7" cy="349.1" r="4.2"/><circle cx="377.2" cy="416.8" r="4.2"/><circle cx="359.6" cy="445.3" r="4.2"/><circle cx="391.5" cy="368.7" r="4.2"/><circle cx="353.7" cy="420.9" r="4.2"/><circle cx="326.0" cy="435.4" r="4.2"/><circle cx="368.9" cy="425.0" r="4.2"/><circle cx="375.5" cy="412.1" r="4.2"/><circle cx="393.9" cy="402.7" r="4.2"/><circle cx="414.7" cy="362.5" r="4.2"/><circle cx="373.4" cy="439.6" r="4.2"/><circle cx="346.0" cy="406.8" r="4.2"/><circle cx="316.8" cy="424.0" r="4.2"/><circle cx="379.8" cy="378.8" r="4.2"/><circle cx="347.3" cy="441.2" r="4.2"/><circle cx="355.2" cy="425.9" r="4.2"/><circle cx="359.3" cy="422.2" r="4.2"/><circle cx="356.4" cy="433.0" r="4.2"/><circle cx="378.3" cy="398.1" r="4.2"/><circle cx="368.0" cy="456.6" r="4.2"/><circle cx="491.6" cy="320.3" r="4.2"/><circle cx="341.0" cy="420.0" r="4.2"/><circle cx="303.9" cy="444.2" r="4.2"/><circle cx="295.4" cy="460.3" r="4.2"/><circle cx="292.6" cy="419.8" r="4.2"/><circle cx="334.4" cy="376.1" r="4.2"/><circle cx="382.6" cy="421.9" r="4.2"/><circle cx="401.5" cy="384.8" r="4.2"/><circle cx="390.6" cy="373.0" r="4.2"/><circle cx="315.5" cy="444.0" r="4.2"/><circle cx="471.1" cy="314.7" r="4.2"/><circle cx="273.3" cy="490.1" r="4.2"/><circle cx="328.7" cy="427.0" r="4.2"/><circle cx="473.6" cy="306.3" r="4.2"/><circle cx="346.1" cy="404.1" r="4.2"/><circle cx="242.0" cy="492.1" r="4.2"/><circle cx="385.7" cy="394.3" r="4.2"/><circle cx="484.9" cy="304.7" r="4.2"/><circle cx="343.9" cy="448.0" r="4.2"/><circle cx="322.5" cy="451.2" r="4.2"/><circle cx="397.6" cy="405.5" r="4.2"/><circle cx="364.7" cy="423.8" r="4.2"/><circle cx="300.3" cy="413.8" r="4.2"/><circle cx="371.9" cy="398.2" r="4.2"/><circle cx="509.7" cy="284.9" r="4.2"/><circle cx="338.7" cy="446.1" r="4.2"/><circle cx="417.6" cy="367.2" r="4.2"/><circle cx="357.6" cy="421.8" r="4.2"/><circle cx="257.4" cy="485.4" r="4.2"/><circle cx="358.0" cy="424.5" r="4.2"/><circle cx="344.5" cy="375.6" r="4.2"/><circle cx="378.3" cy="368.2" r="4.2"/><circle cx="414.0" cy="386.9" r="4.2"/><circle cx="350.6" cy="422.2" r="4.2"/><circle cx="293.2" cy="428.5" r="4.2"/><circle cx="318.6" cy="402.7" r="4.2"/><circle cx="487.2" cy="300.9" r="4.2"/><circle cx="325.0" cy="426.4" r="4.2"/><circle cx="275.1" cy="489.1" r="4.2"/><circle cx="354.0" cy="420.8" r="4.2"/><circle cx="311.3" cy="402.3" r="4.2"/><circle cx="363.4" cy="410.7" r="4.2"/><circle cx="338.7" cy="428.8" r="4.2"/><circle cx="245.4" cy="484.6" r="4.2"/><circle cx="350.0" cy="432.3" r="4.2"/><circle cx="384.1" cy="396.6" r="4.2"/><circle cx="360.9" cy="416.6" r="4.2"/><circle cx="262.5" cy="491.1" r="4.2"/><circle cx="394.7" cy="401.8" r="4.2"/><circle cx="365.8" cy="451.5" r="4.2"/><circle cx="318.7" cy="413.1" r="4.2"/><circle cx="394.1" cy="408.4" r="4.2"/><circle cx="267.5" cy="463.9" r="4.2"/><circle cx="439.3" cy="344.1" r="4.2"/><circle cx="295.0" cy="472.4" r="4.2"/><circle cx="465.4" cy="285.0" r="4.2"/><circle cx="283.0" cy="431.8" r="4.2"/><circle cx="418.3" cy="363.6" r="4.2"/><circle cx="413.0" cy="390.6" r="4.2"/><circle cx="344.8" cy="460.7" r="4.2"/><circle cx="443.7" cy="336.4" r="4.2"/><circle cx="436.1" cy="368.1" r="4.2"/><circle cx="433.3" cy="330.5" r="4.2"/><circle cx="272.7" cy="490.5" r="4.2"/><circle cx="340.9" cy="445.9" r="4.2"/><circle cx="493.5" cy="318.2" r="4.2"/><circle cx="357.4" cy="425.5" r="4.2"/><circle cx="311.8" cy="450.2" r="4.2"/><circle cx="391.7" cy="407.3" r="4.2"/><circle cx="296.6" cy="419.3" r="4.2"/><circle cx="281.5" cy="429.4" r="4.2"/><circle cx="479.4" cy="324.8" r="4.2"/><circle cx="352.3" cy="404.0" r="4.2"/><circle cx="298.7" cy="460.0" r="4.2"/><circle cx="457.3" cy="349.6" r="4.2"/><circle cx="401.7" cy="345.8" r="4.2"/><circle cx="330.9" cy="414.6" r="4.2"/><circle cx="417.6" cy="376.4" r="4.2"/><circle cx="452.8" cy="350.8" r="4.2"/><circle cx="411.5" cy="390.2" r="4.2"/><circle cx="389.8" cy="379.4" r="4.2"/><circle cx="396.5" cy="394.2" r="4.2"/><circle cx="399.6" cy="417.6" r="4.2"/><circle cx="382.9" cy="424.0" r="4.2"/><circle cx="346.0" cy="372.7" r="4.2"/><circle cx="412.0" cy="383.9" r="4.2"/><circle cx="274.7" cy="451.0" r="4.2"/><circle cx="387.7" cy="400.8" r="4.2"/><circle cx="324.5" cy="407.3" r="4.2"/><circle cx="286.2" cy="469.7" r="4.2"/><circle cx="328.7" cy="426.8" r="4.2"/><circle cx="519.3" cy="266.0" r="4.2"/><circle cx="352.3" cy="382.7" r="4.2"/><circle cx="352.4" cy="407.5" r="4.2"/><circle cx="337.9" cy="460.7" r="4.2"/><circle cx="406.2" cy="357.5" r="4.2"/><circle cx="389.1" cy="404.9" r="4.2"/><circle cx="285.0" cy="457.8" r="4.2"/><circle cx="259.5" cy="483.9" r="4.2"/><circle cx="336.2" cy="430.9" r="4.2"/><circle cx="392.0" cy="413.0" r="4.2"/><circle cx="317.1" cy="442.6" r="4.2"/><circle cx="395.0" cy="389.8" r="4.2"/><circle cx="413.0" cy="333.0" r="4.2"/><circle cx="334.1" cy="472.9" r="4.2"/><circle cx="364.5" cy="407.7" r="4.2"/><circle cx="276.3" cy="456.0" r="4.2"/><circle cx="336.7" cy="390.8" r="4.2"/><circle cx="453.6" cy="305.8" r="4.2"/><circle cx="418.5" cy="320.6" r="4.2"/><circle cx="323.5" cy="429.4" r="4.2"/><circle cx="373.4" cy="402.0" r="4.2"/><circle cx="383.9" cy="388.8" r="4.2"/><circle cx="340.3" cy="367.5" r="4.2"/><circle cx="343.0" cy="438.0" r="4.2"/><circle cx="429.3" cy="376.2" r="4.2"/><circle cx="369.9" cy="407.0" r="4.2"/><circle cx="354.8" cy="459.9" r="4.2"/><circle cx="353.0" cy="402.5" r="4.2"/><circle cx="323.4" cy="475.7" r="4.2"/><circle cx="352.2" cy="449.6" r="4.2"/><circle cx="347.0" cy="432.0" r="4.2"/><circle cx="365.1" cy="457.1" r="4.2"/><circle cx="366.5" cy="408.3" r="4.2"/><circle cx="362.2" cy="426.0" r="4.2"/><circle cx="372.0" cy="389.5" r="4.2"/><circle cx="340.9" cy="431.0" r="4.2"/><circle cx="357.3" cy="441.8" r="4.2"/><circle cx="339.6" cy="440.8" r="4.2"/><circle cx="338.5" cy="453.4" r="4.2"/><circle cx="388.8" cy="390.3" r="4.2"/><circle cx="279.6" cy="449.6" r="4.2"/><circle cx="306.9" cy="459.1" r="4.2"/><circle cx="368.1" cy="390.6" r="4.2"/><circle cx="348.6" cy="403.3" r="4.2"/><circle cx="279.8" cy="467.2" r="4.2"/><circle cx="395.5" cy="385.9" r="4.2"/><circle cx="309.6" cy="407.0" r="4.2"/><circle cx="392.4" cy="396.5" r="4.2"/><circle cx="309.7" cy="445.1" r="4.2"/><circle cx="392.0" cy="397.8" r="4.2"/><circle cx="278.8" cy="485.5" r="4.2"/><circle cx="278.0" cy="469.1" r="4.2"/><circle cx="335.2" cy="429.4" r="4.2"/><circle cx="356.8" cy="430.2" r="4.2"/><circle cx="271.3" cy="464.5" r="4.2"/><circle cx="423.3" cy="344.6" r="4.2"/><circle cx="359.2" cy="393.8" r="4.2"/><circle cx="358.5" cy="415.9" r="4.2"/><circle cx="382.8" cy="407.3" r="4.2"/><circle cx="445.0" cy="358.3" r="4.2"/><circle cx="383.2" cy="362.3" r="4.2"/><circle cx="397.6" cy="390.7" r="4.2"/><circle cx="320.8" cy="459.4" r="4.2"/><circle cx="395.8" cy="348.6" r="4.2"/><circle cx="411.1" cy="367.3" r="4.2"/><circle cx="346.5" cy="400.2" r="4.2"/><circle cx="384.8" cy="388.8" r="4.2"/><circle cx="310.6" cy="476.5" r="4.2"/><circle cx="308.7" cy="447.5" r="4.2"/><circle cx="322.4" cy="452.2" r="4.2"/><circle cx="335.6" cy="441.2" r="4.2"/><circle cx="375.3" cy="412.5" r="4.2"/><circle cx="320.5" cy="428.5" r="4.2"/><circle cx="419.6" cy="372.9" r="4.2"/><circle cx="295.0" cy="435.3" r="4.2"/><circle cx="327.7" cy="469.6" r="4.2"/><circle cx="442.2" cy="365.6" r="4.2"/><circle cx="296.4" cy="476.2" r="4.2"/><circle cx="367.9" cy="411.8" r="4.2"/><circle cx="333.6" cy="419.7" r="4.2"/><circle cx="319.6" cy="447.5" r="4.2"/><circle cx="333.1" cy="394.3" r="4.2"/><circle cx="498.0" cy="273.5" r="4.2"/><circle cx="402.9" cy="364.7" r="4.2"/><circle cx="310.5" cy="414.3" r="4.2"/><circle cx="385.1" cy="414.0" r="4.2"/><circle cx="306.3" cy="428.4" r="4.2"/><circle cx="322.2" cy="430.7" r="4.2"/><circle cx="350.6" cy="417.7" r="4.2"/><circle cx="395.4" cy="381.6" r="4.2"/><circle cx="342.4" cy="403.6" r="4.2"/><circle cx="293.7" cy="461.8" r="4.2"/><circle cx="356.3" cy="400.7" r="4.2"/><circle cx="288.2" cy="429.0" r="4.2"/><circle cx="337.8" cy="421.1" r="4.2"/><circle cx="288.4" cy="456.6" r="4.2"/><circle cx="325.5" cy="409.4" r="4.2"/><circle cx="409.3" cy="388.7" r="4.2"/><circle cx="367.2" cy="397.5" r="4.2"/><circle cx="295.4" cy="463.7" r="4.2"/><circle cx="270.0" cy="436.2" r="4.2"/><circle cx="357.3" cy="427.9" r="4.2"/><circle cx="373.9" cy="394.1" r="4.2"/><circle cx="374.1" cy="395.8" r="4.2"/><circle cx="373.3" cy="443.2" r="4.2"/><circle cx="399.0" cy="339.7" r="4.2"/><circle cx="367.0" cy="415.8" r="4.2"/><circle cx="376.0" cy="377.7" r="4.2"/><circle cx="372.8" cy="401.6" r="4.2"/><circle cx="406.3" cy="385.6" r="4.2"/><circle cx="368.8" cy="383.5" r="4.2"/><circle cx="309.8" cy="462.4" r="4.2"/><circle cx="398.5" cy="406.4" r="4.2"/><circle cx="464.8" cy="340.1" r="4.2"/><circle cx="348.0" cy="439.5" r="4.2"/><circle cx="394.7" cy="413.0" r="4.2"/><circle cx="284.0" cy="494.3" r="4.2"/><circle cx="493.0" cy="290.0" r="4.2"/><circle cx="422.6" cy="364.6" r="4.2"/><circle cx="268.8" cy="436.6" r="4.2"/><circle cx="314.7" cy="447.8" r="4.2"/><circle cx="374.9" cy="404.7" r="4.2"/><circle cx="390.4" cy="407.2" r="4.2"/><circle cx="368.9" cy="400.9" r="4.2"/><circle cx="356.9" cy="420.2" r="4.2"/><circle cx="453.2" cy="348.7" r="4.2"/><circle cx="332.5" cy="443.3" r="4.2"/><circle cx="285.0" cy="443.0" r="4.2"/><circle cx="292.7" cy="445.4" r="4.2"/><circle cx="427.8" cy="373.9" r="4.2"/><circle cx="379.4" cy="385.7" r="4.2"/><circle cx="407.7" cy="389.9" r="4.2"/><circle cx="360.8" cy="403.1" r="4.2"/><circle cx="347.0" cy="412.5" r="4.2"/><circle cx="434.4" cy="317.7" r="4.2"/><circle cx="360.3" cy="416.9" r="4.2"/><circle cx="450.2" cy="358.7" r="4.2"/><circle cx="333.7" cy="434.1" r="4.2"/><circle cx="339.2" cy="441.0" r="4.2"/><circle cx="348.9" cy="398.7" r="4.2"/><circle cx="310.3" cy="474.3" r="4.2"/><circle cx="358.6" cy="424.7" r="4.2"/><circle cx="429.8" cy="383.1" r="4.2"/><circle cx="408.0" cy="347.8" r="4.2"/><circle cx="361.4" cy="415.1" r="4.2"/><circle cx="303.5" cy="431.7" r="4.2"/><circle cx="297.4" cy="471.4" r="4.2"/><circle cx="392.2" cy="393.6" r="4.2"/><circle cx="321.4" cy="446.4" r="4.2"/><circle cx="482.7" cy="328.0" r="4.2"/><circle cx="345.7" cy="375.5" r="4.2"/><circle cx="284.5" cy="484.2" r="4.2"/><circle cx="298.0" cy="424.2" r="4.2"/><circle cx="377.8" cy="387.0" r="4.2"/><circle cx="338.4" cy="458.5" r="4.2"/><circle cx="353.9" cy="368.5" r="4.2"/><circle cx="432.4" cy="364.4" r="4.2"/><circle cx="501.6" cy="273.5" r="4.2"/><circle cx="366.1" cy="377.8" r="4.2"/><circle cx="299.3" cy="438.7" r="4.2"/><circle cx="433.2" cy="364.4" r="4.2"/><circle cx="352.4" cy="399.1" r="4.2"/><circle cx="300.7" cy="466.0" r="4.2"/><circle cx="310.7" cy="423.7" r="4.2"/><circle cx="372.5" cy="408.1" r="4.2"/><circle cx="252.9" cy="428.5" r="4.2"/><circle cx="339.7" cy="443.1" r="4.2"/><circle cx="405.1" cy="390.9" r="4.2"/><circle cx="294.4" cy="469.3" r="4.2"/><circle cx="255.1" cy="443.8" r="4.2"/><circle cx="364.7" cy="429.5" r="4.2"/><circle cx="421.7" cy="394.2" r="4.2"/><circle cx="408.5" cy="408.5" r="4.2"/><circle cx="330.5" cy="458.9" r="4.2"/><circle cx="403.2" cy="392.5" r="4.2"/><circle cx="287.7" cy="461.3" r="4.2"/><circle cx="318.1" cy="403.8" r="4.2"/><circle cx="364.5" cy="403.0" r="4.2"/><circle cx="347.5" cy="435.4" r="4.2"/><circle cx="369.8" cy="399.0" r="4.2"/><circle cx="297.7" cy="457.5" r="4.2"/><circle cx="410.9" cy="400.1" r="4.2"/><circle cx="311.4" cy="392.1" r="4.2"/><circle cx="371.7" cy="405.2" r="4.2"/><circle cx="306.9" cy="442.2" r="4.2"/><circle cx="346.8" cy="389.6" r="4.2"/><circle cx="371.1" cy="444.3" r="4.2"/><circle cx="325.3" cy="418.1" r="4.2"/><circle cx="339.4" cy="412.7" r="4.2"/><circle cx="298.1" cy="456.7" r="4.2"/><circle cx="305.1" cy="479.9" r="4.2"/><circle cx="354.1" cy="391.3" r="4.2"/><circle cx="354.4" cy="421.0" r="4.2"/><circle cx="266.4" cy="445.0" r="4.2"/><circle cx="333.9" cy="445.1" r="4.2"/><circle cx="328.1" cy="468.7" r="4.2"/><circle cx="252.2" cy="466.9" r="4.2"/><circle cx="342.7" cy="427.9" r="4.2"/><circle cx="408.0" cy="415.2" r="4.2"/><circle cx="336.6" cy="413.9" r="4.2"/><circle cx="316.9" cy="474.0" r="4.2"/><circle cx="317.4" cy="470.0" r="4.2"/><circle cx="378.4" cy="391.4" r="4.2"/><circle cx="458.3" cy="345.3" r="4.2"/><circle cx="388.5" cy="393.1" r="4.2"/><circle cx="374.7" cy="423.6" r="4.2"/><circle cx="368.0" cy="376.1" r="4.2"/><circle cx="398.1" cy="369.4" r="4.2"/><circle cx="351.6" cy="389.7" r="4.2"/><circle cx="394.9" cy="373.5" r="4.2"/><circle cx="434.3" cy="364.9" r="4.2"/><circle cx="359.8" cy="432.7" r="4.2"/><circle cx="342.8" cy="436.7" r="4.2"/><circle cx="375.6" cy="375.3" r="4.2"/><circle cx="304.2" cy="437.2" r="4.2"/><circle cx="392.2" cy="385.7" r="4.2"/><circle cx="397.1" cy="390.9" r="4.2"/><circle cx="317.0" cy="409.8" r="4.2"/><circle cx="380.9" cy="375.7" r="4.2"/><circle cx="238.0" cy="486.4" r="4.2"/><circle cx="338.5" cy="409.6" r="4.2"/><circle cx="299.0" cy="392.6" r="4.2"/><circle cx="386.1" cy="415.3" r="4.2"/><circle cx="356.0" cy="381.9" r="4.2"/><circle cx="394.9" cy="383.5" r="4.2"/><circle cx="356.2" cy="400.5" r="4.2"/><circle cx="419.6" cy="364.8" r="4.2"/><circle cx="317.9" cy="445.1" r="4.2"/><circle cx="362.0" cy="412.8" r="4.2"/><circle cx="316.5" cy="426.6" r="4.2"/><circle cx="359.8" cy="424.2" r="4.2"/><circle cx="372.2" cy="413.0" r="4.2"/><circle cx="312.0" cy="475.8" r="4.2"/><circle cx="299.3" cy="416.0" r="4.2"/><circle cx="467.7" cy="328.0" r="4.2"/><circle cx="352.1" cy="413.2" r="4.2"/><circle cx="346.2" cy="374.7" r="4.2"/><circle cx="336.9" cy="448.2" r="4.2"/><circle cx="368.9" cy="393.0" r="4.2"/><circle cx="358.2" cy="384.7" r="4.2"/><circle cx="367.4" cy="413.2" r="4.2"/><circle cx="331.4" cy="404.4" r="4.2"/><circle cx="420.8" cy="391.5" r="4.2"/><circle cx="357.7" cy="421.5" r="4.2"/><circle cx="300.7" cy="404.0" r="4.2"/><circle cx="243.5" cy="482.2" r="4.2"/><circle cx="342.3" cy="370.6" r="4.2"/><circle cx="381.8" cy="389.7" r="4.2"/><circle cx="371.7" cy="382.2" r="4.2"/><circle cx="307.1" cy="435.9" r="4.2"/><circle cx="262.7" cy="479.5" r="4.2"/><circle cx="423.1" cy="325.0" r="4.2"/><circle cx="319.5" cy="442.3" r="4.2"/><circle cx="412.9" cy="394.3" r="4.2"/><circle cx="365.9" cy="399.3" r="4.2"/><circle cx="391.3" cy="389.7" r="4.2"/><circle cx="336.2" cy="411.6" r="4.2"/><circle cx="279.3" cy="443.8" r="4.2"/><circle cx="285.6" cy="458.8" r="4.2"/><circle cx="317.1" cy="445.1" r="4.2"/><circle cx="331.7" cy="435.7" r="4.2"/><circle cx="379.3" cy="340.1" r="4.2"/><circle cx="260.2" cy="495.2" r="4.2"/><circle cx="376.5" cy="397.4" r="4.2"/><circle cx="395.7" cy="393.7" r="4.2"/><circle cx="424.9" cy="400.9" r="4.2"/><circle cx="485.9" cy="315.8" r="4.2"/><circle cx="413.0" cy="366.7" r="4.2"/><circle cx="358.3" cy="391.1" r="4.2"/><circle cx="275.3" cy="431.4" r="4.2"/><circle cx="365.6" cy="403.2" r="4.2"/><circle cx="348.1" cy="423.7" r="4.2"/><circle cx="366.2" cy="391.9" r="4.2"/><circle cx="329.7" cy="453.1" r="4.2"/><circle cx="385.6" cy="341.2" r="4.2"/><circle cx="246.7" cy="460.3" r="4.2"/><circle cx="432.6" cy="367.0" r="4.2"/><circle cx="347.7" cy="407.4" r="4.2"/><circle cx="356.9" cy="450.9" r="4.2"/><circle cx="375.8" cy="419.3" r="4.2"/><circle cx="423.3" cy="333.8" r="4.2"/><circle cx="366.0" cy="395.1" r="4.2"/><circle cx="469.0" cy="346.6" r="4.2"/><circle cx="451.3" cy="313.8" r="4.2"/><circle cx="347.2" cy="451.8" r="4.2"/><circle cx="330.0" cy="451.4" r="4.2"/><circle cx="406.4" cy="384.2" r="4.2"/><circle cx="245.9" cy="481.2" r="4.2"/><circle cx="324.5" cy="454.6" r="4.2"/><circle cx="317.0" cy="425.6" r="4.2"/><circle cx="253.2" cy="465.0" r="4.2"/><circle cx="294.8" cy="470.1" r="4.2"/><circle cx="417.2" cy="389.1" r="4.2"/><circle cx="409.4" cy="405.2" r="4.2"/><circle cx="481.6" cy="308.1" r="4.2"/><circle cx="357.0" cy="422.0" r="4.2"/><circle cx="376.4" cy="416.5" r="4.2"/><circle cx="356.4" cy="379.5" r="4.2"/><circle cx="336.0" cy="436.2" r="4.2"/><circle cx="372.0" cy="398.4" r="4.2"/><circle cx="286.7" cy="442.7" r="4.2"/><circle cx="316.3" cy="443.9" r="4.2"/><circle cx="370.1" cy="441.6" r="4.2"/><circle cx="380.7" cy="408.2" r="4.2"/><circle cx="299.3" cy="448.7" r="4.2"/><circle cx="346.8" cy="459.2" r="4.2"/><circle cx="323.9" cy="443.4" r="4.2"/><circle cx="470.7" cy="327.0" r="4.2"/><circle cx="360.3" cy="452.8" r="4.2"/><circle cx="389.5" cy="390.8" r="4.2"/><circle cx="381.5" cy="412.2" r="4.2"/><circle cx="292.7" cy="476.8" r="4.2"/><circle cx="329.9" cy="397.8" r="4.2"/><circle cx="476.6" cy="283.5" r="4.2"/><circle cx="262.4" cy="465.4" r="4.2"/><circle cx="362.5" cy="418.7" r="4.2"/><circle cx="472.9" cy="327.1" r="4.2"/><circle cx="273.9" cy="480.0" r="4.2"/><circle cx="267.5" cy="486.7" r="4.2"/><circle cx="370.4" cy="406.6" r="4.2"/><circle cx="383.1" cy="395.5" r="4.2"/><circle cx="434.0" cy="353.4" r="4.2"/><circle cx="448.8" cy="362.8" r="4.2"/><circle cx="325.7" cy="430.7" r="4.2"/><circle cx="390.2" cy="392.5" r="4.2"/><circle cx="447.1" cy="338.5" r="4.2"/><circle cx="282.1" cy="480.7" r="4.2"/><circle cx="345.7" cy="418.6" r="4.2"/><circle cx="335.6" cy="413.0" r="4.2"/><circle cx="407.8" cy="368.0" r="4.2"/><circle cx="343.0" cy="432.0" r="4.2"/><circle cx="375.5" cy="418.7" r="4.2"/><circle cx="389.7" cy="409.9" r="4.2"/><circle cx="361.8" cy="414.8" r="4.2"/><circle cx="391.2" cy="416.3" r="4.2"/><circle cx="363.7" cy="406.9" r="4.2"/><circle cx="286.3" cy="481.7" r="4.2"/><circle cx="376.4" cy="403.6" r="4.2"/><circle cx="399.0" cy="358.2" r="4.2"/><circle cx="371.6" cy="413.8" r="4.2"/><circle cx="483.4" cy="276.6" r="4.2"/><circle cx="277.6" cy="460.6" r="4.2"/><circle cx="313.7" cy="435.1" r="4.2"/><circle cx="366.3" cy="388.9" r="4.2"/><circle cx="317.0" cy="441.4" r="4.2"/><circle cx="389.5" cy="346.5" r="4.2"/><circle cx="414.4" cy="358.9" r="4.2"/><circle cx="332.9" cy="426.5" r="4.2"/><circle cx="415.3" cy="358.0" r="4.2"/><circle cx="408.5" cy="330.3" r="4.2"/><circle cx="403.6" cy="400.2" r="4.2"/><circle cx="401.1" cy="393.1" r="4.2"/><circle cx="344.0" cy="427.6" r="4.2"/><circle cx="341.0" cy="397.4" r="4.2"/><circle cx="364.5" cy="421.9" r="4.2"/><circle cx="376.7" cy="425.8" r="4.2"/><circle cx="417.9" cy="388.5" r="4.2"/><circle cx="381.6" cy="369.1" r="4.2"/><circle cx="329.6" cy="430.7" r="4.2"/><circle cx="288.1" cy="430.2" r="4.2"/><circle cx="329.3" cy="440.6" r="4.2"/><circle cx="448.3" cy="350.3" r="4.2"/><circle cx="442.6" cy="308.4" r="4.2"/><circle cx="367.9" cy="401.6" r="4.2"/><circle cx="371.5" cy="420.9" r="4.2"/><circle cx="320.3" cy="437.4" r="4.2"/><circle cx="375.0" cy="416.4" r="4.2"/><circle cx="396.1" cy="406.8" r="4.2"/><circle cx="380.9" cy="428.6" r="4.2"/><circle cx="339.6" cy="410.0" r="4.2"/><circle cx="396.1" cy="390.8" r="4.2"/><circle cx="503.5" cy="268.5" r="4.2"/><circle cx="337.1" cy="446.6" r="4.2"/><circle cx="493.4" cy="304.2" r="4.2"/><circle cx="448.6" cy="333.2" r="4.2"/><circle cx="298.6" cy="452.0" r="4.2"/><circle cx="444.3" cy="325.0" r="4.2"/><circle cx="378.0" cy="391.9" r="4.2"/><circle cx="349.8" cy="435.9" r="4.2"/><circle cx="494.4" cy="287.7" r="4.2"/><circle cx="326.9" cy="460.8" r="4.2"/><circle cx="312.6" cy="472.6" r="4.2"/><circle cx="389.1" cy="403.6" r="4.2"/><circle cx="301.5" cy="432.9" r="4.2"/><circle cx="345.2" cy="391.2" r="4.2"/><circle cx="311.0" cy="445.1" r="4.2"/><circle cx="378.0" cy="411.2" r="4.2"/><circle cx="313.1" cy="441.4" r="4.2"/><circle cx="415.1" cy="375.3" r="4.2"/><circle cx="315.1" cy="442.2" r="4.2"/><circle cx="340.4" cy="403.4" r="4.2"/><circle cx="347.8" cy="445.3" r="4.2"/><circle cx="320.1" cy="425.9" r="4.2"/><circle cx="358.9" cy="376.7" r="4.2"/><circle cx="300.3" cy="472.4" r="4.2"/><circle cx="311.6" cy="458.7" r="4.2"/><circle cx="350.5" cy="382.3" r="4.2"/><circle cx="345.9" cy="419.0" r="4.2"/><circle cx="333.4" cy="433.9" r="4.2"/><circle cx="314.9" cy="459.4" r="4.2"/><circle cx="396.4" cy="371.3" r="4.2"/><circle cx="333.9" cy="429.5" r="4.2"/><circle cx="360.5" cy="429.3" r="4.2"/><circle cx="370.0" cy="402.3" r="4.2"/><circle cx="372.0" cy="396.0" r="4.2"/><circle cx="454.2" cy="339.7" r="4.2"/><circle cx="271.7" cy="461.6" r="4.2"/><circle cx="332.4" cy="426.9" r="4.2"/><circle cx="416.4" cy="366.5" r="4.2"/><circle cx="343.9" cy="422.2" r="4.2"/><circle cx="301.7" cy="466.3" r="4.2"/><circle cx="340.8" cy="368.9" r="4.2"/><circle cx="306.6" cy="457.7" r="4.2"/><circle cx="404.6" cy="394.5" r="4.2"/><circle cx="339.0" cy="435.5" r="4.2"/><circle cx="408.6" cy="358.0" r="4.2"/><circle cx="295.8" cy="460.0" r="4.2"/><circle cx="367.3" cy="395.9" r="4.2"/><circle cx="257.5" cy="473.9" r="4.2"/><circle cx="328.4" cy="411.0" r="4.2"/><circle cx="377.9" cy="406.7" r="4.2"/><circle cx="284.1" cy="437.7" r="4.2"/><circle cx="342.1" cy="441.1" r="4.2"/><circle cx="494.3" cy="312.2" r="4.2"/><circle cx="366.7" cy="412.3" r="4.2"/><circle cx="321.1" cy="409.6" r="4.2"/><circle cx="349.6" cy="417.0" r="4.2"/><circle cx="381.9" cy="359.2" r="4.2"/><circle cx="385.1" cy="422.9" r="4.2"/><circle cx="386.9" cy="414.2" r="4.2"/><circle cx="393.5" cy="353.1" r="4.2"/><circle cx="303.1" cy="433.0" r="4.2"/><circle cx="388.3" cy="379.6" r="4.2"/><circle cx="443.1" cy="342.0" r="4.2"/><circle cx="449.0" cy="306.8" r="4.2"/><circle cx="304.8" cy="456.0" r="4.2"/><circle cx="323.3" cy="419.0" r="4.2"/><circle cx="352.2" cy="413.8" r="4.2"/><circle cx="284.0" cy="464.9" r="4.2"/><circle cx="423.9" cy="375.1" r="4.2"/><circle cx="277.7" cy="478.7" r="4.2"/><circle cx="350.0" cy="394.9" r="4.2"/><circle cx="300.8" cy="461.8" r="4.2"/><circle cx="448.2" cy="362.1" r="4.2"/><circle cx="325.5" cy="414.4" r="4.2"/><circle cx="355.4" cy="442.0" r="4.2"/><circle cx="275.2" cy="475.4" r="4.2"/><circle cx="282.1" cy="463.9" r="4.2"/><circle cx="308.7" cy="468.8" r="4.2"/><circle cx="372.2" cy="375.1" r="4.2"/><circle cx="327.4" cy="467.0" r="4.2"/><circle cx="376.7" cy="384.1" r="4.2"/><circle cx="332.6" cy="418.1" r="4.2"/><circle cx="389.0" cy="402.1" r="4.2"/><circle cx="343.4" cy="402.6" r="4.2"/><circle cx="433.1" cy="369.6" r="4.2"/><circle cx="386.1" cy="340.8" r="4.2"/><circle cx="416.8" cy="401.7" r="4.2"/><circle cx="361.0" cy="413.0" r="4.2"/><circle cx="327.6" cy="450.6" r="4.2"/><circle cx="409.4" cy="364.0" r="4.2"/><circle cx="340.4" cy="411.6" r="4.2"/><circle cx="353.1" cy="366.8" r="4.2"/><circle cx="355.5" cy="417.3" r="4.2"/><circle cx="337.7" cy="417.4" r="4.2"/><circle cx="324.4" cy="437.9" r="4.2"/><circle cx="410.0" cy="364.8" r="4.2"/><circle cx="302.9" cy="471.2" r="4.2"/><circle cx="315.0" cy="438.1" r="4.2"/><circle cx="435.5" cy="348.8" r="4.2"/><circle cx="278.4" cy="458.3" r="4.2"/><circle cx="281.1" cy="451.1" r="4.2"/><circle cx="291.0" cy="461.3" r="4.2"/><circle cx="311.7" cy="424.3" r="4.2"/><circle cx="367.6" cy="412.6" r="4.2"/><circle cx="429.4" cy="314.3" r="4.2"/><circle cx="330.9" cy="419.7" r="4.2"/><circle cx="324.4" cy="430.9" r="4.2"/><circle cx="325.0" cy="438.9" r="4.2"/><circle cx="327.7" cy="410.1" r="4.2"/><circle cx="316.1" cy="436.2" r="4.2"/><circle cx="479.0" cy="313.5" r="4.2"/><circle cx="274.3" cy="470.6" r="4.2"/><circle cx="304.1" cy="459.7" r="4.2"/><circle cx="368.4" cy="364.8" r="4.2"/><circle cx="287.4" cy="457.9" r="4.2"/><circle cx="362.1" cy="417.9" r="4.2"/><circle cx="340.1" cy="424.4" r="4.2"/><circle cx="424.9" cy="373.3" r="4.2"/><circle cx="296.5" cy="465.3" r="4.2"/><circle cx="480.7" cy="292.4" r="4.2"/><circle cx="316.5" cy="383.6" r="4.2"/><circle cx="317.3" cy="429.5" r="4.2"/><circle cx="294.9" cy="456.0" r="4.2"/><circle cx="519.2" cy="277.6" r="4.2"/><circle cx="523.1" cy="271.2" r="4.2"/><circle cx="375.6" cy="402.0" r="4.2"/><circle cx="477.3" cy="326.0" r="4.2"/><circle cx="401.5" cy="400.2" r="4.2"/><circle cx="332.1" cy="403.0" r="4.2"/><circle cx="350.0" cy="362.5" r="4.2"/><circle cx="321.4" cy="450.8" r="4.2"/><circle cx="366.1" cy="396.6" r="4.2"/><circle cx="405.1" cy="379.5" r="4.2"/><circle cx="362.7" cy="411.7" r="4.2"/><circle cx="349.5" cy="390.6" r="4.2"/><circle cx="344.2" cy="425.5" r="4.2"/><circle cx="373.9" cy="410.0" r="4.2"/><circle cx="278.1" cy="445.2" r="4.2"/><circle cx="466.9" cy="300.6" r="4.2"/><circle cx="412.6" cy="393.4" r="4.2"/><circle cx="300.3" cy="410.0" r="4.2"/><circle cx="328.1" cy="470.7" r="4.2"/><circle cx="389.7" cy="415.1" r="4.2"/><circle cx="364.3" cy="430.5" r="4.2"/><circle cx="369.3" cy="402.8" r="4.2"/><circle cx="441.9" cy="366.6" r="4.2"/><circle cx="349.1" cy="392.4" r="4.2"/><circle cx="345.8" cy="380.3" r="4.2"/><circle cx="308.5" cy="470.0" r="4.2"/><circle cx="433.7" cy="374.0" r="4.2"/><circle cx="293.8" cy="482.7" r="4.2"/><circle cx="327.3" cy="418.5" r="4.2"/><circle cx="442.6" cy="356.3" r="4.2"/><circle cx="356.4" cy="432.2" r="4.2"/><circle cx="372.1" cy="394.0" r="4.2"/><circle cx="380.5" cy="382.4" r="4.2"/><circle cx="323.2" cy="434.1" r="4.2"/><circle cx="281.8" cy="441.6" r="4.2"/><circle cx="439.2" cy="362.9" r="4.2"/><circle cx="412.9" cy="386.9" r="4.2"/><circle cx="318.1" cy="466.4" r="4.2"/><circle cx="431.2" cy="330.2" r="4.2"/><circle cx="366.5" cy="427.2" r="4.2"/><circle cx="305.1" cy="448.8" r="4.2"/><circle cx="401.0" cy="359.5" r="4.2"/><circle cx="361.6" cy="385.2" r="4.2"/><circle cx="293.4" cy="470.0" r="4.2"/><circle cx="416.1" cy="354.6" r="4.2"/><circle cx="316.8" cy="444.8" r="4.2"/><circle cx="382.9" cy="398.2" r="4.2"/><circle cx="338.2" cy="442.9" r="4.2"/><circle cx="325.8" cy="452.0" r="4.2"/><circle cx="391.8" cy="407.4" r="4.2"/><circle cx="327.6" cy="411.2" r="4.2"/><circle cx="302.4" cy="474.8" r="4.2"/><circle cx="366.9" cy="432.6" r="4.2"/><circle cx="340.0" cy="443.3" r="4.2"/><circle cx="380.9" cy="389.6" r="4.2"/><circle cx="338.1" cy="476.4" r="4.2"/><circle cx="356.4" cy="431.4" r="4.2"/><circle cx="333.8" cy="452.2" r="4.2"/><circle cx="310.4" cy="461.5" r="4.2"/><circle cx="283.7" cy="462.9" r="4.2"/><circle cx="479.7" cy="310.3" r="4.2"/><circle cx="287.9" cy="482.2" r="4.2"/><circle cx="350.8" cy="440.7" r="4.2"/><circle cx="465.3" cy="293.8" r="4.2"/><circle cx="427.3" cy="366.0" r="4.2"/><circle cx="357.8" cy="414.2" r="4.2"/><circle cx="342.6" cy="439.5" r="4.2"/><circle cx="356.3" cy="389.2" r="4.2"/><circle cx="349.5" cy="404.3" r="4.2"/><circle cx="402.9" cy="384.1" r="4.2"/><circle cx="265.5" cy="479.3" r="4.2"/><circle cx="353.9" cy="446.9" r="4.2"/><circle cx="417.1" cy="377.3" r="4.2"/><circle cx="504.7" cy="271.4" r="4.2"/><circle cx="463.3" cy="310.5" r="4.2"/><circle cx="283.1" cy="411.6" r="4.2"/><circle cx="342.7" cy="401.6" r="4.2"/><circle cx="456.8" cy="320.0" r="4.2"/><circle cx="356.4" cy="426.8" r="4.2"/><circle cx="273.9" cy="469.8" r="4.2"/><circle cx="401.0" cy="375.1" r="4.2"/><circle cx="411.5" cy="399.4" r="4.2"/><circle cx="290.5" cy="470.2" r="4.2"/><circle cx="317.6" cy="451.4" r="4.2"/><circle cx="334.5" cy="454.0" r="4.2"/><circle cx="324.7" cy="417.2" r="4.2"/><circle cx="299.8" cy="475.7" r="4.2"/><circle cx="279.8" cy="457.6" r="4.2"/><circle cx="309.4" cy="453.0" r="4.2"/><circle cx="341.6" cy="440.6" r="4.2"/><circle cx="391.5" cy="371.7" r="4.2"/><circle cx="333.6" cy="451.2" r="4.2"/><circle cx="466.7" cy="340.3" r="4.2"/><circle cx="388.1" cy="410.4" r="4.2"/><circle cx="365.9" cy="395.0" r="4.2"/><circle cx="358.9" cy="402.8" r="4.2"/><circle cx="259.8" cy="472.6" r="4.2"/><circle cx="419.4" cy="342.0" r="4.2"/><circle cx="361.1" cy="398.2" r="4.2"/><circle cx="338.0" cy="406.5" r="4.2"/><circle cx="316.3" cy="415.3" r="4.2"/><circle cx="397.9" cy="431.4" r="4.2"/><circle cx="294.4" cy="435.9" r="4.2"/><circle cx="324.1" cy="447.8" r="4.2"/><circle cx="472.2" cy="325.2" r="4.2"/><circle cx="293.0" cy="473.7" r="4.2"/><circle cx="315.5" cy="449.2" r="4.2"/><circle cx="439.8" cy="352.4" r="4.2"/><circle cx="376.2" cy="390.9" r="4.2"/><circle cx="349.0" cy="443.8" r="4.2"/><circle cx="320.1" cy="459.2" r="4.2"/><circle cx="307.9" cy="448.0" r="4.2"/><circle cx="425.7" cy="372.8" r="4.2"/><circle cx="374.9" cy="404.4" r="4.2"/><circle cx="369.5" cy="405.5" r="4.2"/><circle cx="366.3" cy="356.7" r="4.2"/><circle cx="344.6" cy="424.6" r="4.2"/><circle cx="447.9" cy="352.9" r="4.2"/><circle cx="386.6" cy="375.6" r="4.2"/><circle cx="282.2" cy="454.8" r="4.2"/><circle cx="256.3" cy="494.4" r="4.2"/><circle cx="361.2" cy="419.9" r="4.2"/><circle cx="318.9" cy="422.6" r="4.2"/><circle cx="351.5" cy="410.8" r="4.2"/><circle cx="311.4" cy="420.4" r="4.2"/><circle cx="309.0" cy="430.7" r="4.2"/><circle cx="341.0" cy="443.2" r="4.2"/><circle cx="351.9" cy="422.4" r="4.2"/><circle cx="376.3" cy="379.4" r="4.2"/><circle cx="292.6" cy="446.3" r="4.2"/><circle cx="344.7" cy="411.3" r="4.2"/><circle cx="297.7" cy="422.7" r="4.2"/><circle cx="422.3" cy="343.2" r="4.2"/><circle cx="397.7" cy="394.5" r="4.2"/><circle cx="287.8" cy="499.4" r="4.2"/><circle cx="396.2" cy="421.4" r="4.2"/><circle cx="358.5" cy="420.2" r="4.2"/><circle cx="358.0" cy="386.4" r="4.2"/><circle cx="390.8" cy="389.3" r="4.2"/><circle cx="333.1" cy="418.4" r="4.2"/><circle cx="315.7" cy="448.9" r="4.2"/><circle cx="402.1" cy="343.2" r="4.2"/><circle cx="396.6" cy="420.0" r="4.2"/><circle cx="453.0" cy="326.3" r="4.2"/><circle cx="475.6" cy="343.7" r="4.2"/><circle cx="307.0" cy="417.5" r="4.2"/><circle cx="483.7" cy="319.5" r="4.2"/><circle cx="259.2" cy="474.5" r="4.2"/><circle cx="280.0" cy="479.2" r="4.2"/><circle cx="394.8" cy="353.7" r="4.2"/><circle cx="363.6" cy="407.3" r="4.2"/><circle cx="415.7" cy="369.7" r="4.2"/><circle cx="380.3" cy="426.0" r="4.2"/><circle cx="336.2" cy="413.9" r="4.2"/><circle cx="288.0" cy="469.0" r="4.2"/><circle cx="325.5" cy="412.0" r="4.2"/><circle cx="338.5" cy="460.8" r="4.2"/><circle cx="421.0" cy="385.3" r="4.2"/><circle cx="368.6" cy="409.5" r="4.2"/><circle cx="408.8" cy="403.7" r="4.2"/><circle cx="381.5" cy="403.1" r="4.2"/><circle cx="388.0" cy="344.8" r="4.2"/><circle cx="400.0" cy="380.1" r="4.2"/><circle cx="527.4" cy="264.6" r="4.2"/><circle cx="452.9" cy="322.5" r="4.2"/><circle cx="380.2" cy="393.8" r="4.2"/><circle cx="411.2" cy="376.3" r="4.2"/><circle cx="325.7" cy="451.8" r="4.2"/><circle cx="276.5" cy="477.5" r="4.2"/><circle cx="360.8" cy="412.3" r="4.2"/><circle cx="485.0" cy="325.3" r="4.2"/><circle cx="300.5" cy="485.4" r="4.2"/><circle cx="350.8" cy="424.9" r="4.2"/><circle cx="377.7" cy="432.0" r="4.2"/><circle cx="340.7" cy="394.9" r="4.2"/><circle cx="464.4" cy="300.1" r="4.2"/><circle cx="370.3" cy="356.2" r="4.2"/><circle cx="349.6" cy="422.7" r="4.2"/><circle cx="479.5" cy="302.1" r="4.2"/><circle cx="296.1" cy="445.7" r="4.2"/><circle cx="315.6" cy="420.1" r="4.2"/><circle cx="365.3" cy="373.3" r="4.2"/><circle cx="516.1" cy="273.0" r="4.2"/><circle cx="354.1" cy="373.0" r="4.2"/><circle cx="432.1" cy="367.2" r="4.2"/><circle cx="415.9" cy="364.4" r="4.2"/><circle cx="432.6" cy="388.9" r="4.2"/><circle cx="343.9" cy="425.2" r="4.2"/><circle cx="363.6" cy="379.5" r="4.2"/><circle cx="361.3" cy="361.5" r="4.2"/><circle cx="370.3" cy="387.3" r="4.2"/><circle cx="369.7" cy="390.4" r="4.2"/><circle cx="270.2" cy="439.5" r="4.2"/><circle cx="316.5" cy="475.5" r="4.2"/><circle cx="271.8" cy="444.3" r="4.2"/><circle cx="315.6" cy="448.3" r="4.2"/><circle cx="391.6" cy="391.0" r="4.2"/><circle cx="314.8" cy="455.5" r="4.2"/><circle cx="310.8" cy="438.2" r="4.2"/><circle cx="352.8" cy="416.3" r="4.2"/><circle cx="351.0" cy="436.1" r="4.2"/><circle cx="371.1" cy="388.6" r="4.2"/><circle cx="334.4" cy="427.0" r="4.2"/><circle cx="354.2" cy="423.2" r="4.2"/><circle cx="396.0" cy="398.2" r="4.2"/><circle cx="375.0" cy="372.8" r="4.2"/><circle cx="418.4" cy="397.4" r="4.2"/><circle cx="335.3" cy="426.0" r="4.2"/><circle cx="344.2" cy="441.0" r="4.2"/><circle cx="374.2" cy="431.3" r="4.2"/><circle cx="271.6" cy="495.4" r="4.2"/><circle cx="487.7" cy="308.6" r="4.2"/><circle cx="297.2" cy="423.7" r="4.2"/><circle cx="338.9" cy="413.6" r="4.2"/><circle cx="304.0" cy="452.3" r="4.2"/><circle cx="420.3" cy="341.3" r="4.2"/><circle cx="392.2" cy="393.2" r="4.2"/><circle cx="406.7" cy="354.4" r="4.2"/><circle cx="367.9" cy="417.1" r="4.2"/><circle cx="376.4" cy="400.0" r="4.2"/><circle cx="336.3" cy="420.7" r="4.2"/><circle cx="350.6" cy="411.5" r="4.2"/><circle cx="287.0" cy="455.6" r="4.2"/><circle cx="381.5" cy="409.8" r="4.2"/><circle cx="328.9" cy="444.3" r="4.2"/><circle cx="270.0" cy="483.1" r="4.2"/><circle cx="446.1" cy="329.7" r="4.2"/><circle cx="381.4" cy="410.6" r="4.2"/><circle cx="381.5" cy="401.4" r="4.2"/><circle cx="503.0" cy="278.7" r="4.2"/><circle cx="303.3" cy="441.5" r="4.2"/><circle cx="290.4" cy="438.4" r="4.2"/><circle cx="301.4" cy="443.9" r="4.2"/><circle cx="333.7" cy="413.8" r="4.2"/><circle cx="410.5" cy="400.2" r="4.2"/><circle cx="390.6" cy="399.0" r="4.2"/><circle cx="428.9" cy="383.2" r="4.2"/><circle cx="374.8" cy="393.6" r="4.2"/><circle cx="293.0" cy="491.6" r="4.2"/><circle cx="356.8" cy="423.5" r="4.2"/><circle cx="376.0" cy="342.8" r="4.2"/><circle cx="355.3" cy="406.2" r="4.2"/><circle cx="386.1" cy="339.5" r="4.2"/><circle cx="332.2" cy="436.1" r="4.2"/><circle cx="267.1" cy="418.4" r="4.2"/><circle cx="258.5" cy="446.7" r="4.2"/><circle cx="446.4" cy="334.5" r="4.2"/><circle cx="377.2" cy="384.8" r="4.2"/><circle cx="401.3" cy="358.4" r="4.2"/><circle cx="338.3" cy="430.7" r="4.2"/><circle cx="372.4" cy="410.6" r="4.2"/><circle cx="340.4" cy="417.9" r="4.2"/><circle cx="404.3" cy="361.3" r="4.2"/><circle cx="393.6" cy="389.4" r="4.2"/><circle cx="439.9" cy="340.1" r="4.2"/><circle cx="384.1" cy="378.3" r="4.2"/><circle cx="505.5" cy="290.5" r="4.2"/><circle cx="423.7" cy="349.5" r="4.2"/><circle cx="400.9" cy="410.8" r="4.2"/><circle cx="331.8" cy="434.7" r="4.2"/><circle cx="362.9" cy="429.7" r="4.2"/><circle cx="501.9" cy="310.6" r="4.2"/><circle cx="391.0" cy="415.4" r="4.2"/><circle cx="420.8" cy="401.0" r="4.2"/><circle cx="394.0" cy="346.3" r="4.2"/><circle cx="304.9" cy="457.1" r="4.2"/><circle cx="299.6" cy="448.2" r="4.2"/><circle cx="378.2" cy="366.7" r="4.2"/><circle cx="364.0" cy="431.9" r="4.2"/><circle cx="285.0" cy="447.6" r="4.2"/><circle cx="321.1" cy="397.9" r="4.2"/><circle cx="431.2" cy="340.0" r="4.2"/><circle cx="335.3" cy="428.6" r="4.2"/><circle cx="363.6" cy="406.3" r="4.2"/><circle cx="405.5" cy="401.3" r="4.2"/><circle cx="299.3" cy="453.2" r="4.2"/><circle cx="379.9" cy="401.4" r="4.2"/><circle cx="388.5" cy="371.2" r="4.2"/><circle cx="346.8" cy="386.1" r="4.2"/><circle cx="421.4" cy="335.3" r="4.2"/><circle cx="355.3" cy="449.6" r="4.2"/><circle cx="387.8" cy="378.8" r="4.2"/><circle cx="463.3" cy="350.8" r="4.2"/><circle cx="289.5" cy="436.1" r="4.2"/><circle cx="232.8" cy="476.7" r="4.2"/><circle cx="332.7" cy="435.2" r="4.2"/><circle cx="244.7" cy="455.9" r="4.2"/><circle cx="446.5" cy="349.3" r="4.2"/><circle cx="452.1" cy="338.8" r="4.2"/><circle cx="326.8" cy="432.7" r="4.2"/><circle cx="296.4" cy="479.5" r="4.2"/><circle cx="324.7" cy="445.4" r="4.2"/><circle cx="346.5" cy="428.8" r="4.2"/><circle cx="387.3" cy="384.7" r="4.2"/><circle cx="508.2" cy="310.5" r="4.2"/><circle cx="494.8" cy="288.0" r="4.2"/><circle cx="354.5" cy="427.3" r="4.2"/><circle cx="372.7" cy="398.6" r="4.2"/><circle cx="378.6" cy="414.4" r="4.2"/><circle cx="291.5" cy="462.5" r="4.2"/><circle cx="323.7" cy="416.8" r="4.2"/><circle cx="423.0" cy="375.1" r="4.2"/><circle cx="381.7" cy="371.9" r="4.2"/><circle cx="391.1" cy="377.2" r="4.2"/><circle cx="426.4" cy="372.2" r="4.2"/><circle cx="341.2" cy="440.2" r="4.2"/><circle cx="452.7" cy="356.8" r="4.2"/><circle cx="413.9" cy="351.8" r="4.2"/><circle cx="498.2" cy="311.6" r="4.2"/><circle cx="347.3" cy="414.1" r="4.2"/><circle cx="300.0" cy="437.0" r="4.2"/><circle cx="308.7" cy="455.8" r="4.2"/><circle cx="488.9" cy="290.6" r="4.2"/><circle cx="290.2" cy="457.4" r="4.2"/><circle cx="362.9" cy="362.2" r="4.2"/><circle cx="316.1" cy="452.2" r="4.2"/><circle cx="392.5" cy="405.4" r="4.2"/><circle cx="375.7" cy="418.8" r="4.2"/><circle cx="312.8" cy="423.2" r="4.2"/><circle cx="492.4" cy="315.8" r="4.2"/><circle cx="346.2" cy="397.7" r="4.2"/><circle cx="297.7" cy="455.4" r="4.2"/><circle cx="366.0" cy="395.7" r="4.2"/><circle cx="380.5" cy="393.7" r="4.2"/><circle cx="383.6" cy="393.5" r="4.2"/><circle cx="467.1" cy="334.4" r="4.2"/><circle cx="316.7" cy="406.0" r="4.2"/><circle cx="321.1" cy="442.8" r="4.2"/><circle cx="288.4" cy="463.0" r="4.2"/><circle cx="392.4" cy="395.1" r="4.2"/><circle cx="370.7" cy="391.8" r="4.2"/><circle cx="374.7" cy="383.0" r="4.2"/><circle cx="374.8" cy="405.4" r="4.2"/><circle cx="488.5" cy="319.9" r="4.2"/><circle cx="450.8" cy="332.8" r="4.2"/><circle cx="348.8" cy="439.0" r="4.2"/><circle cx="404.9" cy="376.5" r="4.2"/><circle cx="275.3" cy="436.0" r="4.2"/><circle cx="301.5" cy="435.4" r="4.2"/><circle cx="290.8" cy="436.0" r="4.2"/><circle cx="392.5" cy="391.1" r="4.2"/><circle cx="343.8" cy="430.6" r="4.2"/><circle cx="275.3" cy="464.6" r="4.2"/><circle cx="371.1" cy="388.8" r="4.2"/><circle cx="360.8" cy="403.4" r="4.2"/><circle cx="334.3" cy="419.4" r="4.2"/><circle cx="290.5" cy="469.1" r="4.2"/><circle cx="319.5" cy="438.4" r="4.2"/><circle cx="345.9" cy="434.8" r="4.2"/><circle cx="459.6" cy="337.9" r="4.2"/><circle cx="374.1" cy="398.2" r="4.2"/><circle cx="396.6" cy="363.6" r="4.2"/><circle cx="296.4" cy="457.9" r="4.2"/><circle cx="365.7" cy="445.1" r="4.2"/><circle cx="329.9" cy="434.3" r="4.2"/><circle cx="357.5" cy="404.0" r="4.2"/><circle cx="454.3" cy="326.9" r="4.2"/><circle cx="345.3" cy="426.8" r="4.2"/><circle cx="303.8" cy="459.3" r="4.2"/><circle cx="398.9" cy="396.4" r="4.2"/><circle cx="323.8" cy="454.7" r="4.2"/><circle cx="434.4" cy="340.1" r="4.2"/><circle cx="375.3" cy="395.4" r="4.2"/><circle cx="291.7" cy="481.1" r="4.2"/><circle cx="423.0" cy="354.5" r="4.2"/><circle cx="320.6" cy="453.3" r="4.2"/><circle cx="284.7" cy="473.0" r="4.2"/><circle cx="348.9" cy="449.1" r="4.2"/><circle cx="410.1" cy="381.4" r="4.2"/><circle cx="360.0" cy="382.0" r="4.2"/><circle cx="313.2" cy="461.4" r="4.2"/><circle cx="368.5" cy="386.3" r="4.2"/><circle cx="318.3" cy="448.4" r="4.2"/><circle cx="372.3" cy="407.2" r="4.2"/><circle cx="369.6" cy="413.2" r="4.2"/><circle cx="439.6" cy="357.1" r="4.2"/><circle cx="444.4" cy="339.7" r="4.2"/><circle cx="360.5" cy="381.2" r="4.2"/><circle cx="249.0" cy="470.1" r="4.2"/><circle cx="448.2" cy="337.1" r="4.2"/><circle cx="411.5" cy="394.5" r="4.2"/><circle cx="387.9" cy="391.2" r="4.2"/><circle cx="435.7" cy="367.2" r="4.2"/><circle cx="338.2" cy="430.1" r="4.2"/><circle cx="361.2" cy="418.8" r="4.2"/><circle cx="403.8" cy="416.4" r="4.2"/><circle cx="366.6" cy="410.9" r="4.2"/><circle cx="289.1" cy="417.5" r="4.2"/><circle cx="334.2" cy="452.1" r="4.2"/><circle cx="366.2" cy="426.9" r="4.2"/><circle cx="501.4" cy="305.0" r="4.2"/><circle cx="355.9" cy="419.2" r="4.2"/><circle cx="354.2" cy="378.3" r="4.2"/><circle cx="434.5" cy="323.7" r="4.2"/><circle cx="357.6" cy="382.0" r="4.2"/><circle cx="354.3" cy="436.8" r="4.2"/><circle cx="274.8" cy="500.4" r="4.2"/><circle cx="286.2" cy="428.3" r="4.2"/><circle cx="337.0" cy="424.0" r="4.2"/><circle cx="485.1" cy="306.9" r="4.2"/><circle cx="370.8" cy="418.1" r="4.2"/><circle cx="375.3" cy="444.3" r="4.2"/><circle cx="445.5" cy="351.4" r="4.2"/><circle cx="390.2" cy="416.3" r="4.2"/><circle cx="366.7" cy="372.1" r="4.2"/><circle cx="348.5" cy="431.9" r="4.2"/><circle cx="475.8" cy="310.0" r="4.2"/><circle cx="328.5" cy="453.3" r="4.2"/><circle cx="330.6" cy="408.5" r="4.2"/><circle cx="488.0" cy="318.3" r="4.2"/><circle cx="277.5" cy="435.4" r="4.2"/><circle cx="357.2" cy="424.5" r="4.2"/><circle cx="323.1" cy="456.2" r="4.2"/><circle cx="360.0" cy="386.6" r="4.2"/><circle cx="351.3" cy="445.9" r="4.2"/><circle cx="351.0" cy="426.0" r="4.2"/><circle cx="441.5" cy="361.4" r="4.2"/><circle cx="439.6" cy="342.6" r="4.2"/><circle cx="333.6" cy="446.5" r="4.2"/><circle cx="311.2" cy="440.1" r="4.2"/><circle cx="377.3" cy="421.6" r="4.2"/><circle cx="327.7" cy="413.4" r="4.2"/><circle cx="436.9" cy="376.4" r="4.2"/><circle cx="454.0" cy="329.6" r="4.2"/><circle cx="370.0" cy="390.7" r="4.2"/><circle cx="342.2" cy="431.2" r="4.2"/><circle cx="431.0" cy="379.6" r="4.2"/><circle cx="295.3" cy="459.7" r="4.2"/><circle cx="366.9" cy="404.7" r="4.2"/><circle cx="317.5" cy="443.2" r="4.2"/><circle cx="415.6" cy="384.5" r="4.2"/><circle cx="315.0" cy="447.1" r="4.2"/><circle cx="289.1" cy="464.3" r="4.2"/><circle cx="293.4" cy="470.1" r="4.2"/><circle cx="382.2" cy="387.9" r="4.2"/><circle cx="342.6" cy="425.7" r="4.2"/><circle cx="371.8" cy="398.7" r="4.2"/><circle cx="444.2" cy="333.5" r="4.2"/><circle cx="371.3" cy="366.8" r="4.2"/><circle cx="328.7" cy="404.8" r="4.2"/><circle cx="388.6" cy="413.5" r="4.2"/><circle cx="257.8" cy="487.6" r="4.2"/><circle cx="275.2" cy="476.3" r="4.2"/><circle cx="345.3" cy="396.7" r="4.2"/><circle cx="356.6" cy="398.9" r="4.2"/><circle cx="431.7" cy="354.6" r="4.2"/><circle cx="311.2" cy="456.7" r="4.2"/><circle cx="323.9" cy="437.7" r="4.2"/><circle cx="395.9" cy="397.5" r="4.2"/><circle cx="298.2" cy="438.8" r="4.2"/><circle cx="269.6" cy="466.8" r="4.2"/><circle cx="413.0" cy="362.8" r="4.2"/><circle cx="352.8" cy="410.9" r="4.2"/><circle cx="337.0" cy="464.0" r="4.2"/><circle cx="370.8" cy="416.8" r="4.2"/><circle cx="311.6" cy="406.1" r="4.2"/><circle cx="298.8" cy="498.2" r="4.2"/><circle cx="331.8" cy="454.5" r="4.2"/><circle cx="454.1" cy="317.6" r="4.2"/><circle cx="317.2" cy="446.6" r="4.2"/><circle cx="340.0" cy="434.9" r="4.2"/><circle cx="360.0" cy="432.8" r="4.2"/><circle cx="415.3" cy="355.1" r="4.2"/><circle cx="387.2" cy="395.0" r="4.2"/><circle cx="269.5" cy="492.5" r="4.2"/><circle cx="349.7" cy="420.1" r="4.2"/><circle cx="405.7" cy="399.5" r="4.2"/><circle cx="380.8" cy="381.4" r="4.2"/><circle cx="370.6" cy="398.3" r="4.2"/><circle cx="303.8" cy="448.6" r="4.2"/><circle cx="348.5" cy="455.7" r="4.2"/><circle cx="292.5" cy="473.7" r="4.2"/><circle cx="272.6" cy="498.0" r="4.2"/><circle cx="354.4" cy="436.2" r="4.2"/><circle cx="394.2" cy="379.7" r="4.2"/><circle cx="300.3" cy="435.1" r="4.2"/><circle cx="249.1" cy="471.2" r="4.2"/><circle cx="468.8" cy="330.6" r="4.2"/><circle cx="314.2" cy="422.8" r="4.2"/><circle cx="316.9" cy="464.8" r="4.2"/><circle cx="442.7" cy="332.4" r="4.2"/><circle cx="376.3" cy="437.4" r="4.2"/><circle cx="426.1" cy="373.0" r="4.2"/><circle cx="318.0" cy="458.9" r="4.2"/><circle cx="357.6" cy="414.5" r="4.2"/><circle cx="318.8" cy="459.4" r="4.2"/><circle cx="435.1" cy="315.9" r="4.2"/><circle cx="374.7" cy="395.7" r="4.2"/><circle cx="426.2" cy="358.4" r="4.2"/><circle cx="299.7" cy="466.1" r="4.2"/><circle cx="311.4" cy="410.9" r="4.2"/><circle cx="428.2" cy="356.3" r="4.2"/><circle cx="381.4" cy="408.0" r="4.2"/><circle cx="298.9" cy="442.4" r="4.2"/><circle cx="318.3" cy="398.8" r="4.2"/><circle cx="469.4" cy="329.1" r="4.2"/><circle cx="472.4" cy="328.5" r="4.2"/><circle cx="385.5" cy="403.3" r="4.2"/><circle cx="294.7" cy="473.9" r="4.2"/><circle cx="309.6" cy="470.2" r="4.2"/><circle cx="352.0" cy="420.9" r="4.2"/><circle cx="329.1" cy="443.1" r="4.2"/><circle cx="477.8" cy="301.3" r="4.2"/><circle cx="302.0" cy="439.5" r="4.2"/><circle cx="391.3" cy="414.2" r="4.2"/><circle cx="264.5" cy="438.1" r="4.2"/><circle cx="450.4" cy="369.9" r="4.2"/><circle cx="329.1" cy="443.7" r="4.2"/><circle cx="359.2" cy="432.3" r="4.2"/><circle cx="316.7" cy="439.2" r="4.2"/><circle cx="344.0" cy="406.6" r="4.2"/><circle cx="333.4" cy="463.1" r="4.2"/><circle cx="332.6" cy="416.2" r="4.2"/><circle cx="451.7" cy="291.1" r="4.2"/><circle cx="380.6" cy="391.7" r="4.2"/><circle cx="512.8" cy="281.8" r="4.2"/><circle cx="321.2" cy="444.3" r="4.2"/><circle cx="390.0" cy="391.3" r="4.2"/><circle cx="361.6" cy="414.2" r="4.2"/><circle cx="456.3" cy="351.6" r="4.2"/><circle cx="356.2" cy="405.4" r="4.2"/><circle cx="308.2" cy="401.7" r="4.2"/><circle cx="455.4" cy="345.0" r="4.2"/><circle cx="340.6" cy="430.0" r="4.2"/><circle cx="300.5" cy="456.0" r="4.2"/><circle cx="342.7" cy="438.1" r="4.2"/><circle cx="366.2" cy="398.9" r="4.2"/><circle cx="346.1" cy="401.1" r="4.2"/><circle cx="323.9" cy="432.0" r="4.2"/><circle cx="393.5" cy="390.0" r="4.2"/><circle cx="396.6" cy="401.7" r="4.2"/><circle cx="249.5" cy="482.1" r="4.2"/><circle cx="255.8" cy="460.0" r="4.2"/><circle cx="255.4" cy="484.5" r="4.2"/><circle cx="428.3" cy="378.8" r="4.2"/><circle cx="286.5" cy="446.0" r="4.2"/><circle cx="275.5" cy="482.7" r="4.2"/><circle cx="356.2" cy="416.0" r="4.2"/><circle cx="365.0" cy="444.7" r="4.2"/><circle cx="290.6" cy="479.3" r="4.2"/><circle cx="333.8" cy="413.8" r="4.2"/><circle cx="296.2" cy="455.7" r="4.2"/><circle cx="408.9" cy="377.3" r="4.2"/><circle cx="421.4" cy="331.0" r="4.2"/><circle cx="301.0" cy="456.9" r="4.2"/><circle cx="387.0" cy="399.1" r="4.2"/><circle cx="340.7" cy="409.7" r="4.2"/><circle cx="329.6" cy="440.1" r="4.2"/><circle cx="313.0" cy="447.9" r="4.2"/><circle cx="303.7" cy="449.5" r="4.2"/><circle cx="427.3" cy="328.0" r="4.2"/><circle cx="400.9" cy="394.1" r="4.2"/><circle cx="339.9" cy="430.3" r="4.2"/><circle cx="306.8" cy="406.1" r="4.2"/><circle cx="386.9" cy="350.0" r="4.2"/><circle cx="413.8" cy="396.0" r="4.2"/><circle cx="365.8" cy="427.2" r="4.2"/><circle cx="312.4" cy="458.8" r="4.2"/><circle cx="301.9" cy="419.6" r="4.2"/><circle cx="348.9" cy="430.2" r="4.2"/><circle cx="333.0" cy="457.2" r="4.2"/><circle cx="375.1" cy="370.9" r="4.2"/><circle cx="372.0" cy="401.8" r="4.2"/><circle cx="408.1" cy="335.5" r="4.2"/><circle cx="360.4" cy="412.9" r="4.2"/><circle cx="347.3" cy="444.0" r="4.2"/><circle cx="382.6" cy="361.6" r="4.2"/><circle cx="391.4" cy="389.2" r="4.2"/><circle cx="361.4" cy="425.9" r="4.2"/><circle cx="380.6" cy="410.2" r="4.2"/><circle cx="378.1" cy="414.1" r="4.2"/><circle cx="338.1" cy="421.1" r="4.2"/><circle cx="475.8" cy="308.9" r="4.2"/><circle cx="350.3" cy="418.4" r="4.2"/><circle cx="348.8" cy="441.0" r="4.2"/><circle cx="350.9" cy="426.2" r="4.2"/><circle cx="306.1" cy="454.1" r="4.2"/><circle cx="342.2" cy="394.2" r="4.2"/><circle cx="271.6" cy="477.2" r="4.2"/><circle cx="321.1" cy="469.0" r="4.2"/><circle cx="342.1" cy="430.8" r="4.2"/><circle cx="334.1" cy="435.0" r="4.2"/><circle cx="365.3" cy="399.7" r="4.2"/><circle cx="267.7" cy="496.4" r="4.2"/><circle cx="298.1" cy="488.6" r="4.2"/><circle cx="359.4" cy="378.2" r="4.2"/><circle cx="346.5" cy="379.9" r="4.2"/><circle cx="292.2" cy="460.5" r="4.2"/><circle cx="351.1" cy="410.6" r="4.2"/><circle cx="453.3" cy="347.1" r="4.2"/><circle cx="390.4" cy="373.0" r="4.2"/><circle cx="374.3" cy="370.9" r="4.2"/><circle cx="419.9" cy="358.8" r="4.2"/><circle cx="453.7" cy="368.9" r="4.2"/><circle cx="309.3" cy="459.7" r="4.2"/><circle cx="487.6" cy="295.5" r="4.2"/><circle cx="313.4" cy="460.1" r="4.2"/><circle cx="281.0" cy="459.3" r="4.2"/><circle cx="384.7" cy="388.2" r="4.2"/><circle cx="348.4" cy="444.6" r="4.2"/><circle cx="284.2" cy="442.0" r="4.2"/><circle cx="414.0" cy="382.9" r="4.2"/><circle cx="353.7" cy="410.8" r="4.2"/><circle cx="323.1" cy="423.3" r="4.2"/><circle cx="369.3" cy="447.3" r="4.2"/><circle cx="359.6" cy="407.4" r="4.2"/><circle cx="353.9" cy="417.7" r="4.2"/><circle cx="327.6" cy="442.9" r="4.2"/><circle cx="293.7" cy="454.7" r="4.2"/><circle cx="296.0" cy="489.2" r="4.2"/><circle cx="372.9" cy="412.8" r="4.2"/><circle cx="342.2" cy="435.3" r="4.2"/><circle cx="350.1" cy="389.8" r="4.2"/><circle cx="264.9" cy="445.9" r="4.2"/><circle cx="307.2" cy="433.5" r="4.2"/><circle cx="418.1" cy="366.7" r="4.2"/><circle cx="389.5" cy="395.8" r="4.2"/><circle cx="337.3" cy="438.7" r="4.2"/><circle cx="362.4" cy="433.1" r="4.2"/><circle cx="373.3" cy="399.1" r="4.2"/><circle cx="298.4" cy="441.4" r="4.2"/><circle cx="310.2" cy="402.8" r="4.2"/><circle cx="308.5" cy="456.4" r="4.2"/><circle cx="332.9" cy="431.1" r="4.2"/><circle cx="293.9" cy="475.0" r="4.2"/><circle cx="324.4" cy="451.2" r="4.2"/><circle cx="368.4" cy="411.3" r="4.2"/><circle cx="301.4" cy="425.2" r="4.2"/><circle cx="336.6" cy="438.9" r="4.2"/><circle cx="369.3" cy="384.8" r="4.2"/><circle cx="398.4" cy="361.5" r="4.2"/><circle cx="381.9" cy="371.3" r="4.2"/><circle cx="322.7" cy="428.5" r="4.2"/><circle cx="355.3" cy="446.3" r="4.2"/><circle cx="339.2" cy="452.3" r="4.2"/><circle cx="372.8" cy="377.8" r="4.2"/><circle cx="388.1" cy="421.0" r="4.2"/><circle cx="310.4" cy="436.8" r="4.2"/><circle cx="377.1" cy="420.5" r="4.2"/><circle cx="412.3" cy="388.3" r="4.2"/><circle cx="296.7" cy="467.5" r="4.2"/><circle cx="383.8" cy="359.7" r="4.2"/><circle cx="306.9" cy="442.2" r="4.2"/><circle cx="318.4" cy="439.3" r="4.2"/><circle cx="394.8" cy="392.8" r="4.2"/><circle cx="360.9" cy="429.9" r="4.2"/><circle cx="380.0" cy="373.5" r="4.2"/><circle cx="333.4" cy="386.7" r="4.2"/><circle cx="306.5" cy="425.8" r="4.2"/><circle cx="368.3" cy="410.1" r="4.2"/><circle cx="398.2" cy="374.2" r="4.2"/><circle cx="490.6" cy="302.6" r="4.2"/><circle cx="373.6" cy="405.7" r="4.2"/><circle cx="349.3" cy="391.5" r="4.2"/><circle cx="319.9" cy="400.3" r="4.2"/><circle cx="407.8" cy="358.7" r="4.2"/><circle cx="361.5" cy="423.7" r="4.2"/><circle cx="301.6" cy="417.5" r="4.2"/><circle cx="371.9" cy="395.2" r="4.2"/><circle cx="318.4" cy="459.4" r="4.2"/><circle cx="346.1" cy="451.3" r="4.2"/><circle cx="281.8" cy="466.1" r="4.2"/><circle cx="376.1" cy="415.1" r="4.2"/><circle cx="361.4" cy="398.9" r="4.2"/><circle cx="415.3" cy="359.2" r="4.2"/><circle cx="355.6" cy="416.2" r="4.2"/><circle cx="388.9" cy="406.9" r="4.2"/><circle cx="292.2" cy="468.0" r="4.2"/><circle cx="335.4" cy="438.7" r="4.2"/><circle cx="367.9" cy="437.3" r="4.2"/><circle cx="377.6" cy="431.2" r="4.2"/><circle cx="389.2" cy="348.5" r="4.2"/><circle cx="353.2" cy="407.3" r="4.2"/><circle cx="300.4" cy="427.4" r="4.2"/><circle cx="403.6" cy="397.6" r="4.2"/><circle cx="305.9" cy="454.8" r="4.2"/><circle cx="325.8" cy="390.1" r="4.2"/><circle cx="296.0" cy="467.7" r="4.2"/><circle cx="405.7" cy="371.9" r="4.2"/><circle cx="509.6" cy="289.0" r="4.2"/><circle cx="318.2" cy="450.2" r="4.2"/><circle cx="321.4" cy="412.3" r="4.2"/><circle cx="374.9" cy="402.8" r="4.2"/><circle cx="416.4" cy="380.3" r="4.2"/><circle cx="519.6" cy="277.8" r="4.2"/><circle cx="268.6" cy="470.1" r="4.2"/><circle cx="415.9" cy="371.7" r="4.2"/><circle cx="420.1" cy="326.5" r="4.2"/><circle cx="423.2" cy="367.7" r="4.2"/><circle cx="333.1" cy="459.9" r="4.2"/><circle cx="422.2" cy="382.4" r="4.2"/><circle cx="314.0" cy="458.3" r="4.2"/><circle cx="376.5" cy="397.2" r="4.2"/><circle cx="460.9" cy="347.1" r="4.2"/><circle cx="356.1" cy="434.5" r="4.2"/><circle cx="338.1" cy="461.6" r="4.2"/><circle cx="375.6" cy="352.4" r="4.2"/><circle cx="415.0" cy="380.7" r="4.2"/><circle cx="350.0" cy="424.4" r="4.2"/><circle cx="347.8" cy="377.1" r="4.2"/><circle cx="388.8" cy="377.1" r="4.2"/><circle cx="346.9" cy="388.5" r="4.2"/><circle cx="299.3" cy="447.5" r="4.2"/><circle cx="347.8" cy="397.1" r="4.2"/><circle cx="383.8" cy="404.8" r="4.2"/><circle cx="265.3" cy="479.2" r="4.2"/><circle cx="366.2" cy="399.6" r="4.2"/><circle cx="514.7" cy="273.4" r="4.2"/><circle cx="366.2" cy="433.4" r="4.2"/><circle cx="355.1" cy="435.5" r="4.2"/><circle cx="482.1" cy="307.2" r="4.2"/><circle cx="455.8" cy="322.7" r="4.2"/><circle cx="332.8" cy="432.6" r="4.2"/><circle cx="477.2" cy="305.3" r="4.2"/><circle cx="418.5" cy="371.2" r="4.2"/><circle cx="343.6" cy="433.1" r="4.2"/><circle cx="269.2" cy="474.2" r="4.2"/><circle cx="331.0" cy="457.5" r="4.2"/><circle cx="393.3" cy="375.7" r="4.2"/><circle cx="364.0" cy="420.2" r="4.2"/><circle cx="374.5" cy="425.0" r="4.2"/><circle cx="386.4" cy="393.6" r="4.2"/><circle cx="347.3" cy="359.9" r="4.2"/><circle cx="369.2" cy="345.2" r="4.2"/><circle cx="322.6" cy="482.0" r="4.2"/><circle cx="453.2" cy="328.1" r="4.2"/><circle cx="445.2" cy="351.6" r="4.2"/><circle cx="337.9" cy="464.4" r="4.2"/><circle cx="465.2" cy="332.9" r="4.2"/><circle cx="288.3" cy="425.8" r="4.2"/><circle cx="407.8" cy="368.6" r="4.2"/><circle cx="327.0" cy="415.6" r="4.2"/><circle cx="405.5" cy="385.4" r="4.2"/><circle cx="373.8" cy="418.2" r="4.2"/><circle cx="343.3" cy="438.5" r="4.2"/><circle cx="456.4" cy="330.6" r="4.2"/><circle cx="399.8" cy="381.3" r="4.2"/><circle cx="433.0" cy="359.4" r="4.2"/><circle cx="311.2" cy="455.4" r="4.2"/><circle cx="339.9" cy="418.6" r="4.2"/><circle cx="315.7" cy="425.7" r="4.2"/><circle cx="356.3" cy="408.9" r="4.2"/><circle cx="389.3" cy="392.5" r="4.2"/><circle cx="358.0" cy="434.8" r="4.2"/><circle cx="410.4" cy="366.9" r="4.2"/><circle cx="352.0" cy="369.1" r="4.2"/><circle cx="474.2" cy="337.5" r="4.2"/><circle cx="389.4" cy="411.8" r="4.2"/><circle cx="351.5" cy="404.4" r="4.2"/><circle cx="487.1" cy="303.6" r="4.2"/><circle cx="365.6" cy="419.3" r="4.2"/><circle cx="351.0" cy="422.1" r="4.2"/><circle cx="367.8" cy="426.8" r="4.2"/><circle cx="331.1" cy="428.8" r="4.2"/><circle cx="531.4" cy="265.0" r="4.2"/><circle cx="312.9" cy="390.3" r="4.2"/><circle cx="462.8" cy="337.7" r="4.2"/><circle cx="311.1" cy="417.1" r="4.2"/><circle cx="495.2" cy="275.8" r="4.2"/><circle cx="459.6" cy="343.1" r="4.2"/><circle cx="345.7" cy="398.7" r="4.2"/><circle cx="403.8" cy="376.5" r="4.2"/><circle cx="405.0" cy="387.3" r="4.2"/><circle cx="366.5" cy="414.5" r="4.2"/><circle cx="342.3" cy="416.5" r="4.2"/><circle cx="300.1" cy="454.1" r="4.2"/><circle cx="344.0" cy="451.5" r="4.2"/><circle cx="350.8" cy="384.3" r="4.2"/><circle cx="359.6" cy="408.9" r="4.2"/><circle cx="480.3" cy="306.3" r="4.2"/><circle cx="338.7" cy="403.0" r="4.2"/><circle cx="451.9" cy="343.7" r="4.2"/><circle cx="509.4" cy="269.9" r="4.2"/><circle cx="263.2" cy="478.1" r="4.2"/><circle cx="326.3" cy="459.1" r="4.2"/><circle cx="427.6" cy="363.1" r="4.2"/><circle cx="325.5" cy="457.8" r="4.2"/><circle cx="328.7" cy="438.7" r="4.2"/><circle cx="319.3" cy="437.3" r="4.2"/><circle cx="434.1" cy="331.9" r="4.2"/><circle cx="387.4" cy="387.1" r="4.2"/><circle cx="424.0" cy="354.5" r="4.2"/><circle cx="329.2" cy="427.6" r="4.2"/><circle cx="468.2" cy="326.2" r="4.2"/><circle cx="376.2" cy="428.5" r="4.2"/><circle cx="339.8" cy="414.1" r="4.2"/><circle cx="233.3" cy="491.3" r="4.2"/><circle cx="490.3" cy="309.4" r="4.2"/><circle cx="377.3" cy="384.6" r="4.2"/><circle cx="348.5" cy="430.8" r="4.2"/><circle cx="356.0" cy="431.1" r="4.2"/><circle cx="276.3" cy="480.4" r="4.2"/><circle cx="518.9" cy="287.2" r="4.2"/><circle cx="357.0" cy="424.7" r="4.2"/><circle cx="332.8" cy="418.8" r="4.2"/><circle cx="313.3" cy="436.7" r="4.2"/><circle cx="371.7" cy="392.9" r="4.2"/><circle cx="481.1" cy="307.3" r="4.2"/><circle cx="412.0" cy="365.3" r="4.2"/><circle cx="443.6" cy="346.2" r="4.2"/><circle cx="327.2" cy="467.8" r="4.2"/><circle cx="429.3" cy="340.5" r="4.2"/><circle cx="409.0" cy="394.4" r="4.2"/><circle cx="460.4" cy="302.4" r="4.2"/><circle cx="331.3" cy="427.8" r="4.2"/><circle cx="324.7" cy="442.3" r="4.2"/><circle cx="508.8" cy="289.9" r="4.2"/><circle cx="433.0" cy="369.8" r="4.2"/><circle cx="334.6" cy="396.8" r="4.2"/><circle cx="352.7" cy="400.6" r="4.2"/><circle cx="448.6" cy="346.8" r="4.2"/><circle cx="406.3" cy="328.5" r="4.2"/><circle cx="312.7" cy="429.7" r="4.2"/><circle cx="357.4" cy="439.7" r="4.2"/><circle cx="277.9" cy="473.5" r="4.2"/><circle cx="438.7" cy="350.5" r="4.2"/><circle cx="378.0" cy="410.7" r="4.2"/><circle cx="268.0" cy="482.3" r="4.2"/><circle cx="351.6" cy="403.0" r="4.2"/><circle cx="279.9" cy="475.9" r="4.2"/><circle cx="277.7" cy="461.6" r="4.2"/><circle cx="390.0" cy="366.8" r="4.2"/><circle cx="408.1" cy="323.3" r="4.2"/><circle cx="360.4" cy="402.9" r="4.2"/><circle cx="350.9" cy="420.0" r="4.2"/><circle cx="417.0" cy="363.5" r="4.2"/><circle cx="388.7" cy="377.1" r="4.2"/><circle cx="396.1" cy="395.1" r="4.2"/><circle cx="408.2" cy="378.3" r="4.2"/><circle cx="392.6" cy="387.3" r="4.2"/><circle cx="355.8" cy="445.2" r="4.2"/><circle cx="450.9" cy="331.0" r="4.2"/><circle cx="443.5" cy="381.0" r="4.2"/><circle cx="431.4" cy="360.2" r="4.2"/><circle cx="399.2" cy="392.5" r="4.2"/><circle cx="319.2" cy="459.2" r="4.2"/><circle cx="287.6" cy="438.0" r="4.2"/><circle cx="301.8" cy="474.6" r="4.2"/><circle cx="353.8" cy="405.4" r="4.2"/><circle cx="338.6" cy="420.0" r="4.2"/><circle cx="422.2" cy="359.4" r="4.2"/><circle cx="303.5" cy="441.9" r="4.2"/><circle cx="295.9" cy="445.8" r="4.2"/><circle cx="252.5" cy="463.7" r="4.2"/><circle cx="324.7" cy="393.4" r="4.2"/><circle cx="403.8" cy="370.3" r="4.2"/><circle cx="324.1" cy="487.6" r="4.2"/><circle cx="299.8" cy="446.1" r="4.2"/><circle cx="366.6" cy="402.8" r="4.2"/><circle cx="351.0" cy="410.8" r="4.2"/><circle cx="361.7" cy="445.9" r="4.2"/><circle cx="333.5" cy="432.5" r="4.2"/><circle cx="366.1" cy="402.1" r="4.2"/><circle cx="321.3" cy="448.8" r="4.2"/><circle cx="468.3" cy="305.7" r="4.2"/><circle cx="300.7" cy="450.8" r="4.2"/><circle cx="394.6" cy="401.9" r="4.2"/><circle cx="412.3" cy="374.8" r="4.2"/><circle cx="298.3" cy="456.8" r="4.2"/><circle cx="383.2" cy="378.1" r="4.2"/><circle cx="347.2" cy="378.0" r="4.2"/><circle cx="321.3" cy="401.0" r="4.2"/><circle cx="367.7" cy="352.4" r="4.2"/><circle cx="367.1" cy="433.9" r="4.2"/><circle cx="335.7" cy="435.5" r="4.2"/><circle cx="498.3" cy="305.9" r="4.2"/><circle cx="425.8" cy="399.1" r="4.2"/><circle cx="332.3" cy="401.1" r="4.2"/><circle cx="346.1" cy="378.4" r="4.2"/><circle cx="336.2" cy="425.2" r="4.2"/><circle cx="385.0" cy="386.0" r="4.2"/><circle cx="377.0" cy="386.2" r="4.2"/><circle cx="352.0" cy="383.8" r="4.2"/><circle cx="332.1" cy="448.2" r="4.2"/><circle cx="325.0" cy="463.7" r="4.2"/><circle cx="326.7" cy="430.9" r="4.2"/><circle cx="400.1" cy="393.0" r="4.2"/><circle cx="312.5" cy="475.4" r="4.2"/><circle cx="345.3" cy="434.4" r="4.2"/><circle cx="354.9" cy="449.1" r="4.2"/><circle cx="359.4" cy="433.4" r="4.2"/><circle cx="330.0" cy="404.3" r="4.2"/><circle cx="273.5" cy="475.0" r="4.2"/><circle cx="311.2" cy="476.0" r="4.2"/><circle cx="470.6" cy="324.7" r="4.2"/><circle cx="335.0" cy="455.2" r="4.2"/><circle cx="330.2" cy="446.3" r="4.2"/><circle cx="368.0" cy="381.9" r="4.2"/><circle cx="361.1" cy="400.4" r="4.2"/><circle cx="349.7" cy="401.6" r="4.2"/><circle cx="439.4" cy="352.9" r="4.2"/><circle cx="334.1" cy="454.2" r="4.2"/><circle cx="425.4" cy="370.6" r="4.2"/><circle cx="366.2" cy="401.8" r="4.2"/><circle cx="296.6" cy="448.1" r="4.2"/><circle cx="317.1" cy="448.4" r="4.2"/><circle cx="341.8" cy="393.7" r="4.2"/><circle cx="425.6" cy="297.9" r="4.2"/><circle cx="366.4" cy="417.8" r="4.2"/><circle cx="373.7" cy="417.4" r="4.2"/><circle cx="337.6" cy="415.4" r="4.2"/><circle cx="352.5" cy="454.1" r="4.2"/><circle cx="339.0" cy="415.0" r="4.2"/><circle cx="428.3" cy="362.6" r="4.2"/><circle cx="337.7" cy="430.6" r="4.2"/><circle cx="285.0" cy="429.6" r="4.2"/><circle cx="308.3" cy="440.5" r="4.2"/><circle cx="301.4" cy="477.9" r="4.2"/><circle cx="414.1" cy="378.0" r="4.2"/><circle cx="252.7" cy="480.3" r="4.2"/><circle cx="340.5" cy="433.0" r="4.2"/><circle cx="476.6" cy="338.9" r="4.2"/><circle cx="291.4" cy="482.5" r="4.2"/><circle cx="382.6" cy="421.8" r="4.2"/><circle cx="435.5" cy="322.7" r="4.2"/><circle cx="385.5" cy="383.1" r="4.2"/><circle cx="374.0" cy="377.7" r="4.2"/><circle cx="384.2" cy="413.0" r="4.2"/><circle cx="387.3" cy="386.2" r="4.2"/><circle cx="297.0" cy="457.7" r="4.2"/><circle cx="331.4" cy="392.6" r="4.2"/><circle cx="444.3" cy="343.3" r="4.2"/><circle cx="346.7" cy="442.6" r="4.2"/><circle cx="269.7" cy="455.0" r="4.2"/><circle cx="304.5" cy="445.7" r="4.2"/><circle cx="268.1" cy="490.7" r="4.2"/><circle cx="347.5" cy="419.0" r="4.2"/><circle cx="365.1" cy="416.1" r="4.2"/><circle cx="408.4" cy="366.0" r="4.2"/><circle cx="347.0" cy="452.3" r="4.2"/><circle cx="271.7" cy="425.1" r="4.2"/><circle cx="425.0" cy="375.3" r="4.2"/><circle cx="305.2" cy="461.8" r="4.2"/><circle cx="391.0" cy="380.0" r="4.2"/><circle cx="305.0" cy="474.9" r="4.2"/><circle cx="336.1" cy="419.5" r="4.2"/><circle cx="340.8" cy="447.1" r="4.2"/><circle cx="362.9" cy="395.6" r="4.2"/><circle cx="292.1" cy="459.0" r="4.2"/><circle cx="294.5" cy="467.4" r="4.2"/><circle cx="344.6" cy="421.6" r="4.2"/><circle cx="332.2" cy="420.8" r="4.2"/><circle cx="262.9" cy="496.4" r="4.2"/><circle cx="288.9" cy="456.5" r="4.2"/><circle cx="395.1" cy="420.6" r="4.2"/><circle cx="307.3" cy="443.4" r="4.2"/><circle cx="318.5" cy="441.9" r="4.2"/><circle cx="333.0" cy="435.2" r="4.2"/><circle cx="397.8" cy="413.1" r="4.2"/><circle cx="324.2" cy="437.2" r="4.2"/><circle cx="260.4" cy="492.0" r="4.2"/><circle cx="279.3" cy="483.2" r="4.2"/><circle cx="408.2" cy="388.5" r="4.2"/><circle cx="376.4" cy="398.1" r="4.2"/><circle cx="423.0" cy="372.9" r="4.2"/><circle cx="343.9" cy="410.4" r="4.2"/><circle cx="279.3" cy="459.9" r="4.2"/><circle cx="434.6" cy="368.4" r="4.2"/><circle cx="440.6" cy="350.7" r="4.2"/><circle cx="316.0" cy="446.6" r="4.2"/><circle cx="335.7" cy="453.2" r="4.2"/><circle cx="374.6" cy="384.7" r="4.2"/><circle cx="368.6" cy="410.5" r="4.2"/><circle cx="402.7" cy="399.1" r="4.2"/><circle cx="311.8" cy="400.1" r="4.2"/><circle cx="324.2" cy="417.4" r="4.2"/><circle cx="323.9" cy="441.2" r="4.2"/><circle cx="398.3" cy="396.9" r="4.2"/><circle cx="411.6" cy="391.4" r="4.2"/><circle cx="477.1" cy="304.4" r="4.2"/><circle cx="362.4" cy="425.3" r="4.2"/><circle cx="385.5" cy="419.5" r="4.2"/><circle cx="358.3" cy="370.5" r="4.2"/><circle cx="409.4" cy="383.6" r="4.2"/><circle cx="320.0" cy="449.0" r="4.2"/><circle cx="258.0" cy="467.2" r="4.2"/><circle cx="471.3" cy="308.1" r="4.2"/><circle cx="396.2" cy="382.4" r="4.2"/><circle cx="394.3" cy="359.5" r="4.2"/><circle cx="379.5" cy="427.6" r="4.2"/><circle cx="342.2" cy="432.1" r="4.2"/><circle cx="351.0" cy="434.9" r="4.2"/><circle cx="282.0" cy="486.9" r="4.2"/><circle cx="330.9" cy="447.4" r="4.2"/><circle cx="335.2" cy="433.3" r="4.2"/><circle cx="282.7" cy="471.5" r="4.2"/><circle cx="234.1" cy="476.2" r="4.2"/><circle cx="506.7" cy="285.3" r="4.2"/><circle cx="382.5" cy="399.4" r="4.2"/><circle cx="330.0" cy="422.2" r="4.2"/><circle cx="374.2" cy="402.3" r="4.2"/><circle cx="266.9" cy="440.8" r="4.2"/><circle cx="374.9" cy="421.9" r="4.2"/><circle cx="505.9" cy="291.7" r="4.2"/><circle cx="333.6" cy="443.9" r="4.2"/><circle cx="357.9" cy="396.3" r="4.2"/><circle cx="313.0" cy="424.8" r="4.2"/><circle cx="403.2" cy="334.5" r="4.2"/><circle cx="346.4" cy="430.6" r="4.2"/><circle cx="432.3" cy="372.8" r="4.2"/><circle cx="292.8" cy="477.2" r="4.2"/><circle cx="437.0" cy="356.0" r="4.2"/><circle cx="389.4" cy="426.3" r="4.2"/><circle cx="367.1" cy="375.7" r="4.2"/><circle cx="304.9" cy="478.8" r="4.2"/><circle cx="299.5" cy="476.1" r="4.2"/><circle cx="349.2" cy="438.8" r="4.2"/><circle cx="343.5" cy="370.6" r="4.2"/><circle cx="326.6" cy="434.6" r="4.2"/><circle cx="390.4" cy="401.7" r="4.2"/><circle cx="297.9" cy="476.1" r="4.2"/><circle cx="387.6" cy="395.6" r="4.2"/><circle cx="425.8" cy="360.1" r="4.2"/><circle cx="356.8" cy="415.3" r="4.2"/><circle cx="359.2" cy="435.7" r="4.2"/><circle cx="368.6" cy="412.9" r="4.2"/><circle cx="359.4" cy="415.7" r="4.2"/><circle cx="306.1" cy="454.0" r="4.2"/><circle cx="426.9" cy="374.5" r="4.2"/><circle cx="401.7" cy="383.8" r="4.2"/><circle cx="357.5" cy="445.7" r="4.2"/><circle cx="328.3" cy="450.0" r="4.2"/><circle cx="375.2" cy="382.1" r="4.2"/><circle cx="304.3" cy="398.5" r="4.2"/><circle cx="295.4" cy="463.8" r="4.2"/><circle cx="495.8" cy="300.3" r="4.2"/><circle cx="323.5" cy="432.6" r="4.2"/><circle cx="322.4" cy="444.2" r="4.2"/><circle cx="308.3" cy="469.0" r="4.2"/><circle cx="352.3" cy="443.8" r="4.2"/><circle cx="334.9" cy="421.7" r="4.2"/><circle cx="240.9" cy="386.1" r="4.2"/><circle cx="261.3" cy="389.4" r="4.2"/><circle cx="247.0" cy="405.1" r="4.2"/><circle cx="238.3" cy="417.2" r="4.2"/><circle cx="255.1" cy="413.5" r="4.2"/><circle cx="258.4" cy="416.7" r="4.2"/><circle cx="244.2" cy="430.5" r="4.2"/><circle cx="239.2" cy="436.5" r="4.2"/><circle cx="253.4" cy="431.0" r="4.2"/><circle cx="228.4" cy="452.9" r="4.2"/><circle cx="211.3" cy="466.5" r="4.2"/><circle cx="212.0" cy="474.3" r="4.2"/><circle cx="216.8" cy="485.3" r="4.2"/><circle cx="225.6" cy="486.2" r="4.2"/><circle cx="228.9" cy="487.9" r="4.2"/><circle cx="198.2" cy="505.0" r="4.2"/><circle cx="154.0" cy="512.0" r="4.2"/><circle cx="166.9" cy="517.3" r="4.2"/><circle cx="161.0" cy="530.6" r="4.2"/><circle cx="205.9" cy="520.8" r="4.2"/><circle cx="238.7" cy="508.1" r="4.2"/><circle cx="219.7" cy="524.0" r="4.2"/><circle cx="298.3" cy="315.6" r="4.2"/><circle cx="293.1" cy="353.5" r="4.2"/><circle cx="289.6" cy="378.2" r="4.2"/><circle cx="268.3" cy="402.3" r="4.2"/><circle cx="278.6" cy="397.3" r="4.2"/><circle cx="286.5" cy="396.9" r="4.2"/><circle cx="332.9" cy="331.2" r="4.2"/><circle cx="338.4" cy="329.0" r="4.2"/><circle cx="341.7" cy="330.5" r="4.2"/><circle cx="346.0" cy="331.6" r="4.2"/><circle cx="348.2" cy="313.0" r="4.2"/><circle cx="352.6" cy="316.3" r="4.2"/><circle cx="355.9" cy="314.1" r="4.2"/><circle cx="346.0" cy="317.4" r="4.2"/><circle cx="375.6" cy="304.2" r="4.2"/><circle cx="374.5" cy="307.5" r="4.2"/><circle cx="320.2" cy="350.9" r="4.2"/><circle cx="324.2" cy="348.7" r="4.2"/><circle cx="314.3" cy="358.3" r="4.2"/><circle cx="305.5" cy="366.6" r="4.2"/><circle cx="307.7" cy="369.9" r="4.2"/><circle cx="302.3" cy="379.8" r="4.2"/><circle cx="300.5" cy="382.0" r="4.2"/><circle cx="345.6" cy="347.4" r="4.2"/><circle cx="342.1" cy="354.6" r="4.2"/><circle cx="359.2" cy="330.5" r="4.2"/><circle cx="363.6" cy="329.4" r="4.2"/><circle cx="262.8" cy="417.0" r="4.2"/><circle cx="255.2" cy="421.4" r="4.2"/><circle cx="247.1" cy="430.1" r="4.2"/><circle cx="273.8" cy="408.2" r="4.2"/><circle cx="276.0" cy="406.0" r="4.2"/><circle cx="270.5" cy="411.5" r="4.2"/><circle cx="282.6" cy="403.9" r="4.2"/><circle cx="286.9" cy="402.8" r="4.2"/><circle cx="447.9" cy="210.5" r="4.2"/><circle cx="420.1" cy="237.7" r="4.2"/><circle cx="430.8" cy="250.4" r="4.2"/><circle cx="442.9" cy="259.6" r="4.2"/><circle cx="416.2" cy="267.4" r="4.2"/><circle cx="358.1" cy="272.3" r="4.2"/><circle cx="404.8" cy="276.2" r="4.2"/><circle cx="395.8" cy="287.1" r="4.2"/><circle cx="403.7" cy="289.3" r="4.2"/><circle cx="410.3" cy="292.4" r="4.2"/><circle cx="388.4" cy="294.6" r="4.2"/><circle cx="421.2" cy="297.0" r="4.2"/><circle cx="398.6" cy="305.5" r="4.2"/><circle cx="410.7" cy="299.6" r="4.2"/><circle cx="431.5" cy="293.7" r="4.2"/><circle cx="434.3" cy="293.7" r="4.2"/><circle cx="436.5" cy="281.0" r="4.2"/><circle cx="441.3" cy="278.8" r="4.2"/><circle cx="449.0" cy="274.4" r="4.2"/><circle cx="447.9" cy="279.9" r="4.2"/><circle cx="464.3" cy="261.7" r="4.2"/><circle cx="462.1" cy="265.7" r="4.2"/><circle cx="472.7" cy="266.1" r="4.2"/><circle cx="458.9" cy="271.2" r="4.2"/><circle cx="465.4" cy="270.1" r="4.2"/><circle cx="488.0" cy="255.8" r="4.2"/><circle cx="493.9" cy="253.6" r="4.2"/><circle cx="348.3" cy="318.2" r="4.2"/><circle cx="353.8" cy="319.3" r="4.2"/><circle cx="381.8" cy="316.0" r="4.2"/><circle cx="386.6" cy="319.3" r="4.2"/><circle cx="393.6" cy="320.0" r="4.2"/><circle cx="403.7" cy="309.0" r="4.2"/><circle cx="408.5" cy="308.4" r="4.2"/><circle cx="398.6" cy="311.7" r="4.2"/><circle cx="394.9" cy="310.6" r="4.2"/><circle cx="374.6" cy="333.6" r="4.2"/><circle cx="380.0" cy="331.4" r="4.2"/><circle cx="403.0" cy="325.9" r="4.2"/><circle cx="404.1" cy="329.2" r="4.2"/><circle cx="470.9" cy="154.5" r="4.2"/><circle cx="596.2" cy="189.6" r="4.2"/><circle cx="593.6" cy="193.5" r="4.2"/><circle cx="554.2" cy="202.3" r="4.2"/><circle cx="545.4" cy="209.9" r="4.2"/><circle cx="559.6" cy="220.2" r="4.2"/><circle cx="591.4" cy="218.7" r="4.2"/><circle cx="576.0" cy="228.1" r="4.2"/><circle cx="584.4" cy="238.2" r="4.2"/><circle cx="562.5" cy="238.4" r="4.2"/><circle cx="541.0" cy="228.1" r="4.2"/><circle cx="529.0" cy="224.2" r="4.2"/><circle cx="522.4" cy="226.3" r="4.2"/><circle cx="522.0" cy="234.0" r="4.2"/><circle cx="504.9" cy="237.7" r="4.2"/><circle cx="504.9" cy="242.8" r="4.2"/><circle cx="513.6" cy="243.9" r="4.2"/><circle cx="542.8" cy="241.2" r="4.2"/><circle cx="536.6" cy="246.0" r="4.2"/><circle cx="535.5" cy="251.5" r="4.2"/><circle cx="523.5" cy="248.2" r="4.2"/><circle cx="527.9" cy="251.5" r="4.2"/><circle cx="530.1" cy="255.9" r="4.2"/><circle cx="554.2" cy="250.9" r="4.2"/><circle cx="569.0" cy="252.2" r="4.2"/><circle cx="601.9" cy="258.1" r="4.2"/><circle cx="496.1" cy="257.0" r="4.2"/><circle cx="499.4" cy="255.9" r="4.2"/><circle cx="506.0" cy="255.9" r="4.2"/><circle cx="523.5" cy="257.0" r="4.2"/><circle cx="556.3" cy="263.6" r="4.2"/><circle cx="559.6" cy="266.9" r="4.2"/><circle cx="557.4" cy="271.2" r="4.2"/><circle cx="467.7" cy="262.5" r="4.2"/><circle cx="534.4" cy="263.6" r="4.2"/><circle cx="538.8" cy="270.1" r="4.2"/><circle cx="532.3" cy="272.3" r="4.2"/><circle cx="523.5" cy="274.5" r="4.2"/><circle cx="637.9" cy="219.3" r="4.2"/><circle cx="559.1" cy="279.5" r="4.2"/><circle cx="552.5" cy="279.5" r="4.2"/><circle cx="544.9" cy="283.9" r="4.2"/><circle cx="539.4" cy="286.0" r="4.2"/><circle cx="537.2" cy="283.9" r="4.2"/><circle cx="565.7" cy="270.7" r="4.2"/><circle cx="572.2" cy="317.8" r="4.2"/><circle cx="538.3" cy="262.0" r="4.2"/><circle cx="537.2" cy="266.3" r="4.2"/><circle cx="507.3" cy="376.0" r="4.2"/><circle cx="524.6" cy="328.3" r="4.2"/><circle cx="524.2" cy="335.5" r="4.2"/><circle cx="526.3" cy="337.7" r="4.2"/><circle cx="517.6" cy="311.5" r="4.2"/><circle cx="517.6" cy="316.5" r="4.2"/><circle cx="509.9" cy="328.3" r="4.2"/><circle cx="511.0" cy="322.4" r="4.2"/><circle cx="529.6" cy="299.0" r="4.2"/><circle cx="524.2" cy="302.7" r="4.2"/><circle cx="525.2" cy="292.8" r="4.2"/><circle cx="519.8" cy="292.8" r="4.2"/><circle cx="513.2" cy="297.2" r="4.2"/><circle cx="514.3" cy="302.7" r="4.2"/><circle cx="550.0" cy="273.1" r="4.2"/><circle cx="555.9" cy="268.8" r="4.2"/><circle cx="504.4" cy="314.7" r="4.2"/><circle cx="502.3" cy="319.1" r="4.2"/><circle cx="507.7" cy="309.3" r="4.2"/><circle cx="506.6" cy="323.5" r="4.2"/><circle cx="495.7" cy="330.1" r="4.2"/><circle cx="500.1" cy="329.0" r="4.2"/><circle cx="489.1" cy="334.4" r="4.2"/><circle cx="488.0" cy="343.2" r="4.2"/><circle cx="481.5" cy="336.6" r="4.2"/><circle cx="474.9" cy="346.5" r="4.2"/><circle cx="477.1" cy="360.7" r="4.2"/><circle cx="473.8" cy="373.9" r="4.2"/><circle cx="466.1" cy="372.8" r="4.2"/><circle cx="458.5" cy="376.0" r="4.2"/><circle cx="454.1" cy="386.6" r="4.2"/><circle cx="454.5" cy="395.8" r="4.2"/><circle cx="443.1" cy="391.4" r="4.2"/><circle cx="433.3" cy="404.5" r="4.2"/><circle cx="431.1" cy="393.6" r="4.2"/><circle cx="470.5" cy="365.1" r="4.2"/><circle cx="468.3" cy="357.4" r="4.2"/><circle cx="477.1" cy="353.1" r="4.2"/><circle cx="480.4" cy="346.5" r="4.2"/><circle cx="460.7" cy="369.5" r="4.2"/><circle cx="451.9" cy="371.7" r="4.2"/><circle cx="485.8" cy="327.9" r="4.2"/><circle cx="491.3" cy="330.1" r="4.2"/><circle cx="493.5" cy="322.4" r="4.2"/><circle cx="403.4" cy="445.5" r="4.2"/><circle cx="349.3" cy="497.0" r="4.2"/><circle cx="338.8" cy="490.0" r="4.2"/><circle cx="339.9" cy="492.2" r="4.2"/><circle cx="367.7" cy="476.2" r="4.2"/><circle cx="356.3" cy="475.1" r="4.2"/><circle cx="359.6" cy="477.3" r="4.2"/><circle cx="348.6" cy="469.6" r="4.2"/><circle cx="362.8" cy="469.6" r="4.2"/><circle cx="361.7" cy="465.2" r="4.2"/><circle cx="366.1" cy="459.8" r="4.2"/><circle cx="373.8" cy="452.1" r="4.2"/><circle cx="372.7" cy="449.9" r="4.2"/><circle cx="414.3" cy="422.6" r="4.2"/><circle cx="411.0" cy="419.3" r="4.2"/><circle cx="431.8" cy="409.4" r="4.2"/><circle cx="450.4" cy="377.7" r="4.2"/><circle cx="427.4" cy="397.4" r="4.2"/><circle cx="424.2" cy="402.8" r="4.2"/><circle cx="395.7" cy="419.3" r="4.2"/><circle cx="401.2" cy="425.8" r="4.2"/><circle cx="389.1" cy="435.7" r="4.2"/><circle cx="386.5" cy="439.0" r="4.2"/><circle cx="382.6" cy="435.7" r="4.2"/><circle cx="377.1" cy="443.4" r="4.2"/><circle cx="369.4" cy="452.1" r="4.2"/><circle cx="366.1" cy="455.4" r="4.2"/><circle cx="345.3" cy="483.9" r="4.2"/><circle cx="342.0" cy="477.3" r="4.2"/><circle cx="336.6" cy="471.8" r="4.2"/><circle cx="334.4" cy="481.7" r="4.2"/><circle cx="231.7" cy="487.1" r="4.2"/><circle cx="236.1" cy="490.4" r="4.2"/><circle cx="213.1" cy="493.6" r="4.2"/><circle cx="217.5" cy="495.8" r="4.2"/><circle cx="221.9" cy="498.0" r="4.2"/><circle cx="227.4" cy="499.1" r="4.2"/><circle cx="206.1" cy="549.5" r="4.2"/><circle cx="248.6" cy="552.8" r="4.2"/><circle cx="224.1" cy="541.8" r="4.2"/><circle cx="228.5" cy="542.9" r="4.2"/><circle cx="233.9" cy="542.5" r="4.2"/><circle cx="221.9" cy="547.3" r="4.2"/><circle cx="227.4" cy="548.4" r="4.2"/><circle cx="256.9" cy="514.4" r="4.2"/><circle cx="265.7" cy="515.5" r="4.2"/><circle cx="253.6" cy="523.2" r="4.2"/><circle cx="255.8" cy="525.4" r="4.2"/><circle cx="252.6" cy="530.9" r="4.2"/><circle cx="258.0" cy="535.2" r="4.2"/><circle cx="265.7" cy="527.6" r="4.2"/><circle cx="275.5" cy="536.3" r="4.2"/><circle cx="282.1" cy="530.9" r="4.2"/><circle cx="271.8" cy="544.7" r="4.2"/><circle cx="240.5" cy="503.5" r="4.2"/><circle cx="247.1" cy="505.7" r="4.2"/><circle cx="253.6" cy="502.4" r="4.2"/><circle cx="258.0" cy="503.5" r="4.2"/><circle cx="272.3" cy="507.9" r="4.2"/><circle cx="276.6" cy="509.0" r="4.2"/><circle cx="281.0" cy="507.9" r="4.2"/><circle cx="313.9" cy="494.7" r="4.2"/><circle cx="318.2" cy="498.0" r="4.2"/><circle cx="322.6" cy="494.7" r="4.2"/><circle cx="346.7" cy="496.9" r="4.2"/><circle cx="263.5" cy="494.7" r="4.2"/><circle cx="267.9" cy="498.0" r="4.2"/><circle cx="265.7" cy="503.5" r="4.2"/><circle cx="250.4" cy="494.7" r="4.2"/><circle cx="254.7" cy="493.6" r="4.2"/><circle cx="236.1" cy="477.2" r="4.2"/><circle cx="237.2" cy="471.7" r="4.2"/><circle cx="241.6" cy="468.5" r="4.2"/><circle cx="246.0" cy="464.1" r="4.2"/><circle cx="173.4" cy="540.1" r="4.2"/><circle cx="446.8" cy="161.3" r="4.2"/><circle cx="134.5" cy="564.8" r="4.2"/><circle cx="506.0" cy="27.7" r="4.2"/><circle cx="509.2" cy="60.4" r="4.2"/></g>
<line x1="134.4" y1="575.8" x2="658.7" y2="176.1" stroke="#f00" stroke-width="1.45"/>
<g stroke="#777" stroke-width="0.9" fill-opacity="0.95"><circle cx="142" cy="534.1" r="8.3" fill="#DAA520"/><circle cx="205.6" cy="502.2" r="8.3" fill="#DAA520"/><circle cx="221.1" cy="525.3" r="8.3" fill="#DAA520"/><circle cx="299" cy="500.8" r="8.3" fill="#DAA520"/><circle cx="295" cy="512.7" r="8.3" fill="#DAA520"/><circle cx="554.2" cy="210.5" r="8.3" fill="#1E90FF"/><circle cx="586.9" cy="219.3" r="8.3" fill="#1E90FF"/><circle cx="639.3" cy="204.5" r="8.3" fill="#1E90FF"/><circle cx="658.8" cy="214.8" r="8.3" fill="#1E90FF"/><circle cx="572.7" cy="268.2" r="8.3" fill="#1E90FF"/></g>
<g stroke="#000" stroke-width="1.45"><line x1="408" y1="118.8" x2="554.2" y2="210.5"/><line x1="424" y1="183" x2="572.7" y2="268.2"/><line x1="544.3" y1="150.5" x2="586.9" y2="219.3"/><line x1="626.6" y1="71.5" x2="639.3" y2="204.5"/><line x1="635.5" y1="291.6" x2="658.8" y2="214.8"/><line x1="140.2" y1="494.9" x2="141.6" y2="532"/><line x1="183.6" y1="450.6" x2="205.6" y2="502.2"/><line x1="207.7" y1="577.1" x2="220.9" y2="525.1"/><line x1="358.1" y1="520.2" x2="299" y2="500.8"/><line x1="311.9" y1="565.3" x2="295.3" y2="512.7"/></g>
<path d="M108.5 0V603.5" fill="none" stroke="#5e5e5e" stroke-width="1.1"/><path d="M108 603.5H685" fill="none" stroke="#383838" stroke-width="1"/><path d="M99 564.8H108.5M99 430.4H108.5M99 296.0H108.5M99 161.6H108.5M99 27.2H108.5M134.4 604V612.6M265.6 604V612.6M396.7 604V612.6M527.9 604V612.6M659.0 604V612.6" fill="none" stroke="#666" stroke-width="1.1"/>
<g font-family="Liberation Sans, sans-serif" font-size="18.3" fill="#000"><text transform="translate(339.85,114.20) scale(1.0491,1)">Military</text><text transform="translate(317.95,132.60) scale(1.0474,1)">personnel</text><text transform="translate(350.95,178.70) scale(1.0452,1)">Chief of</text><text transform="translate(380.15,197.40) scale(1.0471,1)">staff</text><text transform="translate(506.75,125.00) scale(1.0492,1)">Elected</text><text transform="translate(511.65,143.00) scale(1.0520,1)">official</text><text transform="translate(572.95,46.70) scale(1.0475,1)">Chairman of</text><text transform="translate(585.10,64.80) scale(1.0461,1)">the board</text><text transform="translate(582.75,309.70) scale(1.0464,1)">Director of</text><text transform="translate(588.58,328.10) scale(1.0217,1)">research</text><text transform="translate(112.88,489.20) scale(1.0614,1)">Intern</text><text transform="translate(158.54,446.50) scale(1.0619,1)">Cook</text><text transform="translate(148.84,592.60) scale(1.0565,1)">Homeopath</text><text transform="translate(342.54,538.20) scale(1.0556,1)">Novice</text><text transform="translate(278.87,581.00) scale(1.0312,1)">Secretary</text><text transform="translate(133.20,33.60) scale(0.9964,1)">(Older)</text><text transform="translate(622.31,584.40) scale(0.9940,1)">(Male)</text><text transform="translate(313.95,662.00) scale(1.0516,1)">Gender association</text><text transform="translate(291.28,677.80) scale(1.0232,1)">(female–male dimension)</text><text transform="translate(79.20,571.40) scale(1.0400,1)">0</text><text transform="translate(53.20,437.00) scale(1.0400,1)">0.25</text><text transform="translate(53.20,302.60) scale(1.0400,1)">0.50</text><text transform="translate(53.20,168.20) scale(1.0400,1)">0.75</text><text transform="translate(53.20,33.80) scale(1.0400,1)">1.00</text><text transform="translate(128.68,634.30) scale(1.0400,1)">0</text><text transform="translate(246.83,634.30) scale(1.0400,1)">0.25</text><text transform="translate(377.98,634.30) scale(1.0400,1)">0.50</text><text transform="translate(509.13,634.30) scale(1.0400,1)">0.75</text><text transform="translate(640.28,634.30) scale(1.0400,1)">1.00</text><text transform="translate(14.30,368.30) rotate(-90) scale(1.0414,1)">Age association</text><text transform="translate(33.30,397.43) rotate(-90) scale(1.0295,1)">(young–old dimension)</text></g>
<line x1="200" y1="41.2" x2="200" y2="16" stroke="#000" stroke-width="1.6"/><path d="M200 9.9L195.9 18.7L200 17L204.1 18.7Z" fill="#000"/><line x1="632.9" y1="559.2" x2="658" y2="559.2" stroke="#000" stroke-width="1.6"/><path d="M664.8 559.2L655.3 555.3L657 559.2L655.3 563.1Z" fill="#000"/>
</svg></body></html>
